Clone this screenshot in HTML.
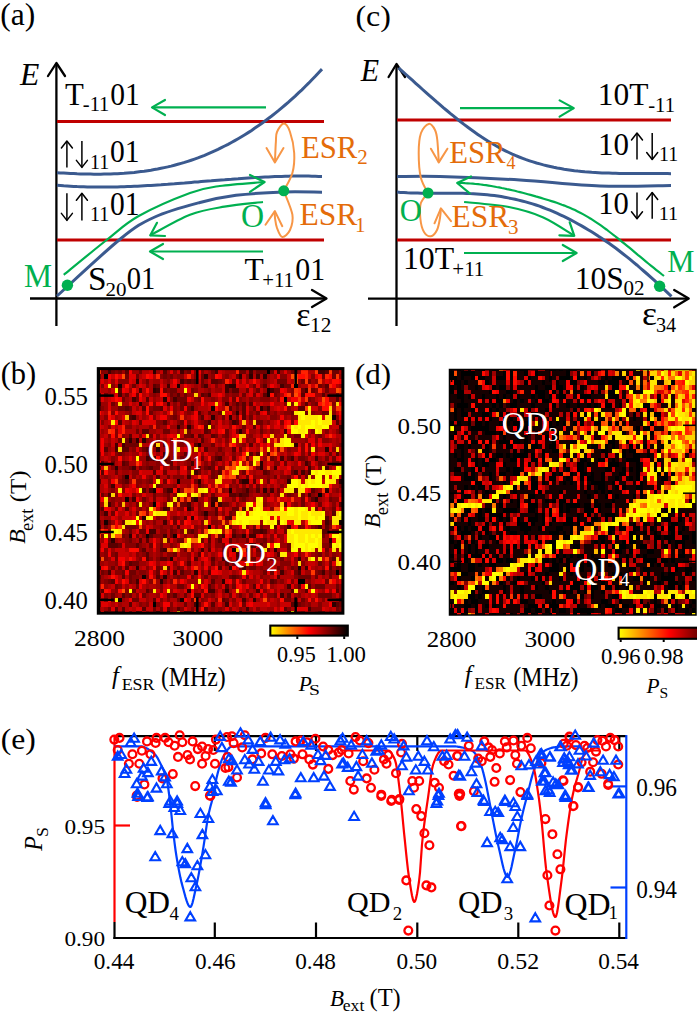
<!DOCTYPE html><html><head><meta charset="utf-8"><style>html,body{margin:0;padding:0;background:#fff;width:697px;height:1015px;overflow:hidden}svg{display:block}</style></head><body>
<svg width="697" height="1015" viewBox="0 0 697 1015">
<rect width="697" height="1015" fill="#fff"/>
<text transform="translate(0.25 25.42) scale(1.0516 1.0308)" x="0" y="0" font-size="30" fill="#000" font-family="Liberation Serif">(a)</text>
<text transform="translate(20.00 84.60) scale(1.0556 1.0579)" x="0" y="0" font-size="30" fill="#000" font-family="Liberation Serif" font-style="italic">E</text>
<line x1="56.4" y1="64.0" x2="56.4" y2="326.0" stroke="#000" stroke-width="2.3" />
<path d="M48.0 76.0 L56.4 63.0 L65.0 76.0" fill="none" stroke="#000" stroke-width="2.3" stroke-linecap="round" stroke-linejoin="round"/>
<line x1="30.0" y1="298.5" x2="325.5" y2="298.5" stroke="#000" stroke-width="2.3" />
<path d="M312.0 290.0 L326.5 298.5 L312.0 307.0" fill="none" stroke="#000" stroke-width="2.3" stroke-linecap="round" stroke-linejoin="round"/>
<line x1="57.0" y1="121.5" x2="324.0" y2="121.5" stroke="#c00000" stroke-width="3" />
<line x1="57.0" y1="240.0" x2="324.0" y2="240.0" stroke="#c00000" stroke-width="3" />
<path d="M57.0 172.7 L60.4 172.9 L63.7 173.1 L67.1 173.3 L70.4 173.5 L73.8 173.6 L77.1 173.8 L80.5 173.9 L83.8 174.0 L87.2 174.1 L90.5 174.1 L93.9 174.2 L97.3 174.2 L100.6 174.2 L104.0 174.1 L107.3 174.1 L110.7 174.0 L114.0 173.8 L117.4 173.7 L120.7 173.5 L124.1 173.3 L127.4 173.0 L130.8 172.7 L134.2 172.4 L137.5 172.0 L140.9 171.6 L144.2 171.2 L147.6 170.7 L150.9 170.2 L154.3 169.6 L157.6 169.0 L161.0 168.3 L164.3 167.6 L167.7 166.9 L171.1 166.1 L174.4 165.2 L177.8 164.3 L181.1 163.4 L184.5 162.4 L187.8 161.3 L191.2 160.2 L194.5 159.1 L197.9 157.9 L201.2 156.6 L204.6 155.3 L207.9 153.9 L211.3 152.4 L214.7 150.9 L218.0 149.4 L221.4 147.7 L224.7 146.0 L228.1 144.3 L231.4 142.5 L234.8 140.6 L238.1 138.7 L241.5 136.7 L244.8 134.7 L248.2 132.6 L251.6 130.4 L254.9 128.1 L258.3 125.8 L261.6 123.5 L265.0 121.0 L268.3 118.5 L271.7 116.0 L275.0 113.3 L278.4 110.6 L281.7 107.8 L285.1 105.0 L288.5 102.1 L291.8 99.1 L295.2 96.1 L298.5 92.9 L301.9 89.8 L305.2 86.5 L308.6 83.2 L311.9 79.8 L315.3 76.3 L318.6 72.7 L322.0 69.1" fill="none" stroke="#3b5a8f" stroke-width="3" />
<path d="M57.0 185.2 L60.4 185.5 L63.7 185.8 L67.1 186.0 L70.4 186.2 L73.8 186.4 L77.1 186.6 L80.5 186.7 L83.8 186.8 L87.2 186.9 L90.5 187.0 L93.9 187.1 L97.3 187.1 L100.6 187.1 L104.0 187.1 L107.3 187.1 L110.7 187.0 L114.0 187.0 L117.4 186.9 L120.7 186.8 L124.1 186.7 L127.4 186.6 L130.8 186.5 L134.2 186.3 L137.5 186.2 L140.9 186.0 L144.2 185.8 L147.6 185.6 L150.9 185.4 L154.3 185.2 L157.6 185.0 L161.0 184.8 L164.3 184.5 L167.7 184.3 L171.1 184.0 L174.4 183.8 L177.8 183.5 L181.1 183.2 L184.5 183.0 L187.8 182.7 L191.2 182.4 L194.5 182.1 L197.9 181.9 L201.2 181.6 L204.6 181.3 L207.9 181.0 L211.3 180.8 L214.7 180.5 L218.0 180.2 L221.4 179.9 L224.7 179.7 L228.1 179.4 L231.4 179.2 L234.8 178.9 L238.1 178.7 L241.5 178.4 L244.8 178.2 L248.2 178.0 L251.6 177.8 L254.9 177.6 L258.3 177.4 L261.6 177.2 L265.0 177.0 L268.3 176.9 L271.7 176.7 L275.0 176.6 L278.4 176.5 L281.7 176.4 L285.1 176.3 L288.5 176.2 L291.8 176.1 L295.2 176.1 L298.5 176.1 L301.9 176.1 L305.2 176.1 L308.6 176.1 L311.9 176.2 L315.3 176.3 L318.6 176.4 L322.0 176.5" fill="none" stroke="#3b5a8f" stroke-width="3" />
<path d="M57.0 296.0 C67.5 286.5 104.0 252.2 120.3 239.0 C136.6 225.8 141.5 223.1 154.8 217.0 C168.1 210.9 186.5 206.1 200.0 202.5 C213.5 198.9 222.1 197.1 236.0 195.3 C249.9 193.6 269.4 192.5 283.7 192.0 C298.0 191.5 315.6 192.2 322.0 192.2" fill="none" stroke="#3b5a8f" stroke-width="3" />
<line x1="152.0" y1="107.4" x2="266.0" y2="107.4" stroke="#00b050" stroke-width="2.2" />
<path d="M165.0 100.0 L152.0 107.4 L165.0 115.0" fill="none" stroke="#00b050" stroke-width="2.2" stroke-linecap="round" stroke-linejoin="round"/>
<line x1="150.0" y1="251.5" x2="263.0" y2="251.5" stroke="#00b050" stroke-width="2.2" />
<path d="M163.0 244.0 L150.0 251.5 L163.0 259.0" fill="none" stroke="#00b050" stroke-width="2.2" stroke-linecap="round" stroke-linejoin="round"/>
<path d="M63.8 274.8 C70.9 269.0 94.1 249.8 106.6 240.0 C119.1 230.2 124.8 223.8 138.7 216.0 C152.6 208.2 176.5 198.0 190.0 193.0 C203.5 188.0 207.5 187.8 219.8 186.0 C232.1 184.2 256.6 182.7 264.0 182.0" fill="none" stroke="#00b050" stroke-width="2.2" />
<path d="M250.0 175.0 L264.6 182.0 L250.0 191.8" fill="none" stroke="#00b050" stroke-width="2.2" stroke-linecap="round" stroke-linejoin="round"/>
<path d="M263.0 202.0 C256.6 202.8 236.6 204.6 224.4 206.7 C212.2 208.8 202.4 210.0 190.0 214.8 C177.6 219.6 156.8 232.0 150.2 235.4" fill="none" stroke="#00b050" stroke-width="2.2" />
<path d="M157.0 222.8 L150.2 235.4 L165.0 236.0" fill="none" stroke="#00b050" stroke-width="2.2" stroke-linecap="round" stroke-linejoin="round"/>
<path d="M283.8 190.8 C285.2 187.8 290.7 179.3 292.4 173.0 C294.1 166.7 294.6 159.8 294.2 153.0 C293.8 146.2 291.7 136.9 290.0 132.0 C288.3 127.1 286.0 123.6 283.8 123.6 C281.6 123.6 278.3 129.0 277.0 132.0 C275.7 135.0 276.2 136.5 275.9 141.6 C275.5 146.7 275.1 158.9 274.9 162.4" fill="none" stroke="#f79646" stroke-width="2" />
<path d="M266.5 148.0 L274.9 162.4 L283.5 148.0" fill="none" stroke="#f79646" stroke-width="2" stroke-linecap="round" stroke-linejoin="round"/>
<path d="M283.8 190.8 C285.2 194.8 291.4 208.2 292.4 214.7 C293.4 221.2 291.7 226.3 290.0 230.0 C288.3 233.7 284.5 237.3 282.3 237.0 C280.1 236.7 278.2 231.2 277.0 228.0 C275.8 224.8 275.4 220.8 275.0 218.0 C274.6 215.2 274.9 212.2 274.9 211.1" fill="none" stroke="#f79646" stroke-width="2" />
<path d="M265.5 224.8 L274.9 211.1 L282.3 226.2" fill="none" stroke="#f79646" stroke-width="2" stroke-linecap="round" stroke-linejoin="round"/>
<circle cx="67.4" cy="285.2" r="5.7" fill="#00b050"/>
<circle cx="283.8" cy="190.8" r="5.5" fill="#00b050"/>
<text transform="translate(64.90 104.80) scale(0.9632 1.0143)" x="0" y="0" font-size="32" fill="#000" font-family="Liberation Serif">T</text>
<text transform="translate(82.82 110.90) scale(0.9760 0.9571)" x="0" y="0" font-size="21" fill="#000" font-family="Liberation Serif">-11</text>
<text transform="translate(110.28 104.80) scale(0.9241 1.0143)" x="0" y="0" font-size="32" fill="#000" font-family="Liberation Serif">01</text>
<line x1="66.9" y1="141.0" x2="66.9" y2="167.4" stroke="#000" stroke-width="1.5" />
<path d="M61.4 148.0 L66.9 141.0 L72.4 148.0" fill="none" stroke="#000" stroke-width="1.5" stroke-linecap="round" stroke-linejoin="round"/>
<line x1="81.9" y1="141.0" x2="81.9" y2="167.4" stroke="#000" stroke-width="1.5" />
<path d="M76.4 160.4 L81.9 167.4 L87.4 160.4" fill="none" stroke="#000" stroke-width="1.5" stroke-linecap="round" stroke-linejoin="round"/>
<text transform="translate(89.89 168.70) scale(0.9529 0.9643)" x="0" y="0" font-size="21" fill="#000" font-family="Liberation Serif">11</text>
<text transform="translate(109.88 161.60) scale(0.9241 0.9810)" x="0" y="0" font-size="32" fill="#000" font-family="Liberation Serif">01</text>
<line x1="66.9" y1="193.3" x2="66.9" y2="220.4" stroke="#000" stroke-width="1.5" />
<path d="M61.4 213.4 L66.9 220.4 L72.4 213.4" fill="none" stroke="#000" stroke-width="1.5" stroke-linecap="round" stroke-linejoin="round"/>
<line x1="81.9" y1="193.3" x2="81.9" y2="220.4" stroke="#000" stroke-width="1.5" />
<path d="M76.4 200.3 L81.9 193.3 L87.4 200.3" fill="none" stroke="#000" stroke-width="1.5" stroke-linecap="round" stroke-linejoin="round"/>
<text transform="translate(89.89 221.40) scale(0.9529 0.9929)" x="0" y="0" font-size="21" fill="#000" font-family="Liberation Serif">11</text>
<text transform="translate(109.88 215.20) scale(0.9241 1.0429)" x="0" y="0" font-size="32" fill="#000" font-family="Liberation Serif">01</text>
<text transform="translate(88.01 289.90) scale(1.0429 1.0429)" x="0" y="0" font-size="32" fill="#000" font-family="Liberation Serif">S</text>
<text transform="translate(105.40 295.60) scale(1.0000 0.9429)" x="0" y="0" font-size="21" fill="#000" font-family="Liberation Serif">20</text>
<text transform="translate(126.71 289.30) scale(0.8931 0.9857)" x="0" y="0" font-size="32" fill="#000" font-family="Liberation Serif">01</text>
<text transform="translate(244.50 280.20) scale(0.9857 0.9857)" x="0" y="0" font-size="32" fill="#000" font-family="Liberation Serif">T</text>
<text transform="translate(262.21 286.60) scale(0.9900 1.0143)" x="0" y="0" font-size="21" fill="#000" font-family="Liberation Serif">+11</text>
<text transform="translate(295.27 280.20) scale(0.9345 1.0143)" x="0" y="0" font-size="32" fill="#000" font-family="Liberation Serif">01</text>
<text transform="translate(24.01 286.70) scale(0.9852 1.0333)" x="0" y="0" font-size="32" fill="#00b050" font-family="Liberation Serif">M</text>
<text transform="translate(241.00 227.00) scale(1.0000 1.0286)" x="0" y="0" font-size="32" fill="#00b050" font-family="Liberation Serif">O</text>
<text transform="translate(300.94 157.60) scale(0.9603 0.9857)" x="0" y="0" font-size="32" fill="#e46c0a" font-family="Liberation Serif">ESR</text>
<text transform="translate(357.30 163.90) scale(1.0000 1.0000)" x="0" y="0" font-size="21" fill="#e46c0a" font-family="Liberation Serif">2</text>
<text transform="translate(299.51 225.30) scale(0.9857 0.9857)" x="0" y="0" font-size="32" fill="#e46c0a" font-family="Liberation Serif">ESR</text>
<text transform="translate(354.90 231.60) scale(1.0000 1.0000)" x="0" y="0" font-size="21" fill="#e46c0a" font-family="Liberation Serif">1</text>
<text transform="translate(296.24 325.90) scale(1.0600 1.0600)" x="0" y="0" font-size="32" fill="#000" font-family="Liberation Serif">ε</text>
<text transform="translate(309.97 332.30) scale(1.0167 0.9714)" x="0" y="0" font-size="21" fill="#000" font-family="Liberation Serif">12</text>
<text transform="translate(355.44 25.62) scale(1.0645 0.9962)" x="0" y="0" font-size="30" fill="#000" font-family="Liberation Serif">(c)</text>
<text transform="translate(360.70 81.00) scale(1.0000 1.0211)" x="0" y="0" font-size="30" fill="#000" font-family="Liberation Serif" font-style="italic">E</text>
<line x1="396.5" y1="65.0" x2="396.5" y2="326.0" stroke="#000" stroke-width="2.3" />
<path d="M388.6 77.0 L396.5 64.0 L405.0 77.0" fill="none" stroke="#000" stroke-width="2.3" stroke-linecap="round" stroke-linejoin="round"/>
<line x1="368.0" y1="298.6" x2="687.7" y2="298.6" stroke="#000" stroke-width="2.3" />
<path d="M674.2 290.0 L688.7 298.6 L674.2 307.3" fill="none" stroke="#000" stroke-width="2.3" stroke-linecap="round" stroke-linejoin="round"/>
<line x1="397.0" y1="120.0" x2="671.0" y2="120.0" stroke="#c00000" stroke-width="3" />
<line x1="397.0" y1="240.0" x2="671.0" y2="240.0" stroke="#c00000" stroke-width="3" />
<path d="M398.5 67.8 L401.9 70.9 L405.4 74.0 L408.8 77.1 L412.3 80.2 L415.7 83.3 L419.2 86.4 L422.6 89.5 L426.1 92.6 L429.5 95.6 L433.0 98.7 L436.4 101.7 L439.9 104.6 L443.3 107.6 L446.8 110.5 L450.2 113.4 L453.7 116.2 L457.1 119.0 L460.6 121.7 L464.0 124.4 L467.5 127.0 L470.9 129.5 L474.4 132.0 L477.8 134.4 L481.3 136.8 L484.7 139.0 L488.2 141.2 L491.6 143.3 L495.1 145.3 L498.5 147.3 L502.0 149.1 L505.4 150.8 L508.9 152.5 L512.3 154.1 L515.8 155.6 L519.2 157.0 L522.7 158.3 L526.1 159.6 L529.6 160.8 L533.0 161.9 L536.5 163.0 L539.9 163.9 L543.4 164.9 L546.8 165.7 L550.3 166.5 L553.7 167.3 L557.2 168.0 L560.6 168.6 L564.1 169.2 L567.5 169.7 L571.0 170.2 L574.4 170.7 L577.9 171.1 L581.3 171.4 L584.8 171.8 L588.2 172.0 L591.7 172.3 L595.1 172.5 L598.6 172.7 L602.0 172.9 L605.5 173.0 L608.9 173.1 L612.4 173.2 L615.8 173.3 L619.3 173.4 L622.7 173.4 L626.2 173.4 L629.6 173.5 L633.1 173.5 L636.5 173.5 L640.0 173.5 L643.4 173.5 L646.9 173.5 L650.3 173.5 L653.8 173.5 L657.2 173.5 L660.7 173.5 L664.1 173.6 L667.6 173.6 L671.0 173.7" fill="none" stroke="#3b5a8f" stroke-width="3" />
<path d="M397.0 176.6 C404.2 176.6 419.5 175.9 440.0 176.5 C460.5 177.1 493.3 178.4 520.0 180.0 C546.7 181.6 574.8 185.1 600.0 186.0 C625.2 186.9 659.2 185.6 671.0 185.5" fill="none" stroke="#3b5a8f" stroke-width="3" />
<path d="M397.0 192.1 L400.5 192.4 L403.9 192.6 L407.4 192.8 L410.9 192.9 L414.4 193.1 L417.8 193.1 L421.3 193.2 L424.8 193.2 L428.3 193.2 L431.7 193.2 L435.2 193.2 L438.7 193.2 L442.2 193.2 L445.6 193.2 L449.1 193.2 L452.6 193.2 L456.1 193.2 L459.5 193.3 L463.0 193.3 L466.5 193.4 L470.0 193.6 L473.4 193.7 L476.9 193.9 L480.4 194.2 L483.9 194.5 L487.3 194.8 L490.8 195.2 L494.3 195.6 L497.8 196.1 L501.2 196.6 L504.7 197.2 L508.2 197.9 L511.7 198.6 L515.1 199.3 L518.6 200.1 L522.1 201.0 L525.6 201.9 L529.0 202.9 L532.5 203.9 L536.0 205.0 L539.5 206.2 L542.9 207.5 L546.4 208.8 L549.9 210.2 L553.4 211.6 L556.8 213.2 L560.3 214.8 L563.8 216.4 L567.3 218.1 L570.7 219.9 L574.2 221.8 L577.7 223.7 L581.2 225.6 L584.6 227.6 L588.1 229.7 L591.6 231.8 L595.1 234.0 L598.5 236.3 L602.0 238.5 L605.5 240.9 L609.0 243.3 L612.4 245.8 L615.9 248.3 L619.4 251.0 L622.9 253.7 L626.3 256.4 L629.8 259.2 L633.3 262.1 L636.8 265.0 L640.2 268.0 L643.7 271.0 L647.2 274.0 L650.7 277.1 L654.1 280.2 L657.6 283.4 L661.1 286.6 L664.6 289.8 L668.0 293.1 L671.5 296.3" fill="none" stroke="#3b5a8f" stroke-width="3" />
<line x1="460.0" y1="108.1" x2="573.8" y2="108.1" stroke="#00b050" stroke-width="2.2" />
<path d="M559.6 100.4 L573.8 108.1 L559.6 116.6" fill="none" stroke="#00b050" stroke-width="2.2" stroke-linecap="round" stroke-linejoin="round"/>
<line x1="464.0" y1="253.0" x2="576.6" y2="253.0" stroke="#00b050" stroke-width="2.2" />
<path d="M562.8 245.0 L576.6 253.0 L562.8 261.0" fill="none" stroke="#00b050" stroke-width="2.2" stroke-linecap="round" stroke-linejoin="round"/>
<path d="M457.2 182.9 L459.8 183.0 L462.4 183.0 L465.1 183.2 L467.7 183.3 L470.3 183.5 L472.9 183.7 L475.5 184.0 L478.1 184.2 L480.8 184.5 L483.4 184.9 L486.0 185.2 L488.6 185.6 L491.2 186.0 L493.8 186.5 L496.5 187.0 L499.1 187.4 L501.7 188.0 L504.3 188.5 L506.9 189.1 L509.6 189.6 L512.2 190.2 L514.8 190.8 L517.4 191.5 L520.0 192.1 L522.6 192.8 L525.3 193.5 L527.9 194.2 L530.5 194.9 L533.1 195.6 L535.7 196.4 L538.3 197.1 L541.0 197.9 L543.6 198.7 L546.2 199.5 L548.8 200.3 L551.4 201.1 L554.1 201.9 L556.7 202.8 L559.3 203.7 L561.9 204.7 L564.5 205.6 L567.1 206.7 L569.8 207.8 L572.4 208.9 L575.0 210.1 L577.6 211.4 L580.2 212.7 L582.9 214.1 L585.5 215.6 L588.1 217.1 L590.7 218.7 L593.3 220.4 L595.9 222.1 L598.6 223.9 L601.2 225.7 L603.8 227.6 L606.4 229.5 L609.0 231.5 L611.6 233.5 L614.3 235.5 L616.9 237.6 L619.5 239.7 L622.1 241.8 L624.7 243.9 L627.4 246.1 L630.0 248.2 L632.6 250.4 L635.2 252.6 L637.8 254.8 L640.4 256.9 L643.1 259.1 L645.7 261.3 L648.3 263.5 L650.9 265.6 L653.5 267.7 L656.1 269.8 L658.8 271.9 L661.4 274.0 L664.0 276.0" fill="none" stroke="#00b050" stroke-width="2.2" />
<path d="M471.0 176.5 L457.2 183.0 L469.8 193.3" fill="none" stroke="#00b050" stroke-width="2.2" stroke-linecap="round" stroke-linejoin="round"/>
<path d="M464.1 202.0 C471.6 202.8 495.7 204.4 508.9 207.0 C522.1 209.6 532.4 212.6 543.3 217.4 C554.2 222.2 569.1 232.7 574.3 235.8" fill="none" stroke="#00b050" stroke-width="2.2" />
<path d="M569.7 222.4 L574.3 235.8 L559.4 235.3" fill="none" stroke="#00b050" stroke-width="2.2" stroke-linecap="round" stroke-linejoin="round"/>
<path d="M428.0 193.0 C426.8 190.4 422.4 184.1 420.8 177.4 C419.2 170.7 418.7 160.4 418.7 153.0 C418.7 145.6 419.3 137.8 421.0 133.0 C422.7 128.2 426.4 124.4 428.7 123.9 C431.0 123.4 433.6 127.3 435.0 130.0 C436.4 132.7 436.7 134.6 437.3 140.0 C437.9 145.4 438.6 158.7 438.8 162.4" fill="none" stroke="#f79646" stroke-width="2" />
<path d="M430.9 148.7 L438.8 162.4 L447.4 148.7" fill="none" stroke="#f79646" stroke-width="2" stroke-linecap="round" stroke-linejoin="round"/>
<path d="M428.0 193.0 C426.8 194.7 422.1 199.0 420.8 203.3 C419.5 207.6 419.9 214.2 420.4 219.0 C420.9 223.8 422.2 229.1 424.0 232.0 C425.8 234.9 428.7 236.6 430.9 236.3 C433.1 236.0 435.5 233.1 437.0 230.0 C438.5 226.9 439.4 221.6 440.0 218.0 C440.6 214.4 440.8 209.9 440.9 208.3" fill="none" stroke="#f79646" stroke-width="2" />
<path d="M434.5 223.3 L440.9 208.3 L451.0 221.2" fill="none" stroke="#f79646" stroke-width="2" stroke-linecap="round" stroke-linejoin="round"/>
<circle cx="428.0" cy="193.0" r="5.5" fill="#00b050"/>
<circle cx="659.6" cy="286.2" r="5.7" fill="#00b050"/>
<text transform="translate(597.86 105.20) scale(0.9813 0.9857)" x="0" y="0" font-size="32" fill="#000" font-family="Liberation Serif">10T</text>
<text transform="translate(648.22 111.60) scale(0.9840 0.9643)" x="0" y="0" font-size="21" fill="#000" font-family="Liberation Serif">-11</text>
<text transform="translate(597.90 154.90) scale(0.9679 0.9857)" x="0" y="0" font-size="32" fill="#000" font-family="Liberation Serif">10</text>
<line x1="637.0" y1="133.0" x2="637.0" y2="159.5" stroke="#000" stroke-width="1.5" />
<path d="M631.5 140.0 L637.0 133.0 L642.5 140.0" fill="none" stroke="#000" stroke-width="1.5" stroke-linecap="round" stroke-linejoin="round"/>
<line x1="652.2" y1="133.0" x2="652.2" y2="159.5" stroke="#000" stroke-width="1.5" />
<path d="M646.7 152.5 L652.2 159.5 L657.7 152.5" fill="none" stroke="#000" stroke-width="1.5" stroke-linecap="round" stroke-linejoin="round"/>
<text transform="translate(659.01 160.70) scale(0.9471 0.9714)" x="0" y="0" font-size="21" fill="#000" font-family="Liberation Serif">11</text>
<text transform="translate(598.13 213.70) scale(0.9571 1.0000)" x="0" y="0" font-size="32" fill="#000" font-family="Liberation Serif">10</text>
<line x1="637.0" y1="192.5" x2="637.0" y2="218.8" stroke="#000" stroke-width="1.5" />
<path d="M631.5 211.8 L637.0 218.8 L642.5 211.8" fill="none" stroke="#000" stroke-width="1.5" stroke-linecap="round" stroke-linejoin="round"/>
<line x1="652.2" y1="192.5" x2="652.2" y2="218.8" stroke="#000" stroke-width="1.5" />
<path d="M646.7 199.5 L652.2 192.5 L657.7 199.5" fill="none" stroke="#000" stroke-width="1.5" stroke-linecap="round" stroke-linejoin="round"/>
<text transform="translate(658.67 219.60) scale(0.9647 0.9000)" x="0" y="0" font-size="21" fill="#000" font-family="Liberation Serif">11</text>
<text transform="translate(402.92 269.40) scale(0.9938 0.9810)" x="0" y="0" font-size="32" fill="#000" font-family="Liberation Serif">10T</text>
<text transform="translate(452.30 275.90) scale(1.0000 1.0000)" x="0" y="0" font-size="21" fill="#000" font-family="Liberation Serif">+11</text>
<text transform="translate(574.74 288.80) scale(0.9857 0.9857)" x="0" y="0" font-size="32" fill="#000" font-family="Liberation Serif">10S</text>
<text transform="translate(623.50 295.30) scale(1.0000 1.0000)" x="0" y="0" font-size="21" fill="#000" font-family="Liberation Serif">02</text>
<text transform="translate(667.14 271.60) scale(0.9571 0.9571)" x="0" y="0" font-size="32" fill="#00b050" font-family="Liberation Serif">M</text>
<text transform="translate(399.85 221.20) scale(0.9524 0.9905)" x="0" y="0" font-size="32" fill="#00b050" font-family="Liberation Serif">O</text>
<text transform="translate(449.24 162.60) scale(0.9586 0.9857)" x="0" y="0" font-size="32" fill="#e46c0a" font-family="Liberation Serif">ESR</text>
<text transform="translate(506.40 168.90) scale(0.8600 0.8600)" x="0" y="0" font-size="21" fill="#e46c0a" font-family="Liberation Serif">4</text>
<text transform="translate(451.52 226.80) scale(0.9810 0.9810)" x="0" y="0" font-size="32" fill="#e46c0a" font-family="Liberation Serif">ESR</text>
<text transform="translate(507.90 233.70) scale(1.0000 1.0000)" x="0" y="0" font-size="21" fill="#e46c0a" font-family="Liberation Serif">3</text>
<text transform="translate(641.88 325.10) scale(1.1167 1.0267)" x="0" y="0" font-size="32" fill="#000" font-family="Liberation Serif">ε</text>
<text transform="translate(655.93 332.30) scale(0.9650 1.0286)" x="0" y="0" font-size="21" fill="#000" font-family="Liberation Serif">34</text>
<g shape-rendering="crispEdges"><path fill="#000000" d="M267 370h3v4h-3zM104 374h4v5h-4zM294 384h4v4h-4zM284 397h3v5h-3zM318 493h4v4h-4zM153 502h3v5h-3zM208 525h3v4h-3zM336 570h3v5h-3zM298 579h7v5h-7zM118 598h4v4h-4zM153 602h3v5h-3z"/><path fill="#160000" d="M118 384h4v4h-4zM177 384h3v4h-3zM267 388h3v5h-3zM267 393h3v4h-3zM211 406h4v5h-4zM332 415h4v5h-4zM198 443h3v4h-3zM342 461h1v5h-1zM125 475h4v4h-4zM177 479h3v5h-3zM153 488h3v5h-3zM229 488h3v5h-3zM125 497h4v5h-4zM104 520h4v5h-4zM339 520h3v5h-3zM146 534h3v4h-3zM173 534h4v4h-4zM232 548h4v4h-4zM170 557h3v4h-3zM298 566h3v4h-3zM142 575h4v4h-4zM180 598h4v4h-4z"/><path fill="#2c0000" d="M305 369h3v1h-3zM153 370h3v4h-3zM204 374h4v5h-4zM239 374h3v5h-3zM249 374h4v5h-4zM263 374h4v5h-4zM136 379h3v5h-3zM229 384h7v4h-7zM153 388h3v5h-3zM163 397h4v5h-4zM98 402h3v4h-3zM139 402h3v4h-3zM260 406h3v5h-3zM236 411h3v4h-3zM211 415h4v5h-4zM229 415h3v5h-3zM177 425h3v4h-3zM187 425h4v4h-4zM239 429h3v5h-3zM129 438h3v5h-3zM136 438h3v5h-3zM142 438h4v5h-4zM294 443h4v4h-4zM156 447h4v5h-4zM325 447h4v5h-4zM260 461h3v5h-3zM115 466h3v4h-3zM260 466h3v4h-3zM198 479h3v5h-3zM242 479h7v5h-7zM287 479h4v5h-4zM339 479h3v5h-3zM263 488h4v5h-4zM325 488h4v5h-4zM194 497h4v5h-4zM315 497h3v5h-3zM211 502h4v5h-4zM187 507h4v4h-4zM204 511h4v5h-4zM142 516h4v4h-4zM191 516h3v4h-3zM129 534h3v4h-3zM242 534h4v4h-4zM111 538h4v5h-4zM329 538h3v5h-3zM274 548h3v4h-3zM298 557h3v4h-3zM98 566h3v4h-3zM136 566h3v4h-3zM229 566h3v4h-3zM194 570h4v5h-4zM163 575h4v4h-4zM160 579h3v5h-3zM222 579h3v5h-3zM187 589h4v4h-4zM225 589h4v4h-4zM253 598h3v4h-3zM294 602h4v5h-4zM332 602h4v5h-4zM115 611h3v2h-3zM167 611h3v2h-3zM239 611h3v2h-3z"/><path fill="#430000" d="M115 369h3v1h-3zM211 369h4v1h-4zM287 369h4v1h-4zM108 370h3v4h-3zM180 370h4v4h-4zM215 370h3v4h-3zM249 370h4v4h-4zM277 370h3v4h-3zM318 370h7v4h-7zM256 374h4v5h-4zM180 379h4v5h-4zM167 384h3v4h-3zM204 384h4v4h-4zM225 384h4v4h-4zM280 384h4v4h-4zM139 388h3v5h-3zM156 388h4v5h-4zM225 388h4v5h-4zM270 388h4v5h-4zM305 388h3v5h-3zM118 393h4v4h-4zM208 393h3v4h-3zM132 397h4v5h-4zM173 397h4v5h-4zM167 402h3v4h-3zM225 402h4v4h-4zM191 406h3v5h-3zM267 406h3v5h-3zM132 415h4v5h-4zM208 420h3v5h-3zM232 420h4v5h-4zM339 425h3v4h-3zM284 429h3v5h-3zM115 443h3v4h-3zM122 443h3v4h-3zM115 447h3v5h-3zM342 447h1v5h-1zM149 452h4v4h-4zM163 452h4v4h-4zM146 456h3v5h-3zM153 456h3v5h-3zM163 456h4v5h-4zM218 456h4v5h-4zM280 456h4v5h-4zM291 456h3v5h-3zM315 456h3v5h-3zM191 461h3v5h-3zM305 461h3v5h-3zM132 466h4v4h-4zM274 466h3v4h-3zM308 466h3v4h-3zM325 466h4v4h-4zM194 470h4v5h-4zM294 470h4v5h-4zM301 470h4v5h-4zM308 470h3v5h-3zM187 475h4v4h-4zM111 484h4v4h-4zM149 488h4v5h-4zM167 488h6v5h-6zM177 488h3v5h-3zM246 488h3v5h-3zM270 488h4v5h-4zM108 493h3v4h-3zM239 493h3v4h-3zM308 493h3v4h-3zM132 497h4v5h-4zM211 497h7v5h-7zM108 502h3v5h-3zM187 502h4v5h-4zM218 502h4v5h-4zM163 507h4v4h-4zM104 511h4v5h-4zM229 516h3v4h-3zM163 520h4v5h-4zM325 520h4v5h-4zM98 525h3v4h-3zM287 525h4v4h-4zM318 525h4v4h-4zM149 529h7v5h-7zM260 529h3v5h-3zM163 534h4v4h-4zM222 534h3v4h-3zM232 534h4v4h-4zM249 534h7v4h-7zM249 543h4v5h-4zM163 548h4v4h-4zM201 548h3v4h-3zM260 548h3v4h-3zM236 552h3v5h-3zM222 557h3v4h-3zM242 566h4v4h-4zM305 566h3v4h-3zM108 570h3v5h-3zM173 570h4v5h-4zM280 570h4v5h-4zM298 570h3v5h-3zM322 570h3v5h-3zM136 579h3v5h-3zM287 584h4v5h-4zM208 589h7v4h-7zM256 589h4v4h-4zM342 589h1v4h-1zM98 593h3v5h-3zM280 593h4v5h-4zM242 598h4v4h-4zM194 602h4v5h-4zM225 602h4v5h-4zM246 607h3v4h-3zM308 607h3v4h-3zM122 611h3v2h-3zM156 611h4v2h-4zM287 611h4v2h-4z"/><path fill="#590000" d="M111 369h4v1h-4zM156 369h4v1h-4zM222 369h3v1h-3zM260 369h3v1h-3zM274 369h3v1h-3zM125 370h4v4h-4zM163 370h4v4h-4zM325 370h4v4h-4zM187 379h4v5h-4zM194 379h4v5h-4zM211 379h7v5h-7zM342 379h1v5h-1zM153 384h3v4h-3zM263 384h4v4h-4zM325 384h4v4h-4zM118 388h4v5h-4zM232 388h7v5h-7zM342 388h1v5h-1zM98 393h3v4h-3zM177 393h3v4h-3zM201 393h3v4h-3zM263 393h4v4h-4zM301 393h4v4h-4zM322 393h3v4h-3zM336 393h3v4h-3zM146 397h3v5h-3zM336 397h3v5h-3zM184 402h3v4h-3zM236 402h3v4h-3zM242 402h4v4h-4zM249 402h4v4h-4zM305 402h3v4h-3zM98 406h3v5h-3zM125 406h4v5h-4zM142 406h4v5h-4zM160 406h3v5h-3zM229 406h3v5h-3zM242 406h4v5h-4zM298 406h7v5h-7zM198 411h3v4h-3zM242 411h4v4h-4zM129 415h3v5h-3zM201 415h3v5h-3zM242 415h4v5h-4zM118 420h4v5h-4zM163 420h4v5h-4zM236 420h3v5h-3zM336 420h3v5h-3zM204 425h4v4h-4zM253 425h3v4h-3zM142 429h7v5h-7zM204 429h4v5h-4zM339 429h3v5h-3zM129 434h3v4h-3zM191 434h3v4h-3zM198 434h3v4h-3zM211 434h4v4h-4zM201 438h3v5h-3zM153 443h3v4h-3zM163 443h4v4h-4zM194 443h4v4h-4zM249 443h4v4h-4zM104 447h4v5h-4zM122 447h7v5h-7zM146 447h3v5h-3zM204 447h4v5h-4zM232 447h4v5h-4zM184 452h3v4h-3zM249 452h4v4h-4zM256 452h4v4h-4zM267 452h3v4h-3zM336 452h3v4h-3zM342 452h1v4h-1zM149 456h4v5h-4zM215 456h3v5h-3zM101 461h3v5h-3zM122 461h3v5h-3zM170 461h3v5h-3zM98 466h3v4h-3zM149 466h4v4h-4zM177 466h3v4h-3zM187 466h4v4h-4zM198 466h3v4h-3zM208 466h3v4h-3zM101 470h3v5h-3zM153 470h3v5h-3zM218 470h4v5h-4zM263 470h4v5h-4zM156 475h4v4h-4zM98 479h3v5h-3zM125 479h4v5h-4zM239 479h3v5h-3zM253 479h3v5h-3zM198 484h3v4h-3zM142 488h4v5h-4zM256 488h4v5h-4zM294 488h4v5h-4zM311 488h4v5h-4zM229 493h7v4h-7zM242 493h7v4h-7zM191 497h3v5h-3zM311 497h4v5h-4zM284 502h3v5h-3zM339 502h3v5h-3zM101 507h3v4h-3zM125 507h4v4h-4zM167 507h3v4h-3zM215 507h3v4h-3zM242 507h4v4h-4zM215 511h3v5h-3zM332 511h4v5h-4zM184 516h3v4h-3zM225 516h4v4h-4zM325 516h4v4h-4zM177 525h3v4h-3zM274 525h3v4h-3zM325 525h4v4h-4zM191 529h3v5h-3zM253 529h7v5h-7zM263 529h4v5h-4zM322 529h7v5h-7zM149 534h4v4h-4zM139 538h3v5h-3zM146 538h3v5h-3zM208 538h3v5h-3zM218 538h4v5h-4zM229 538h3v5h-3zM108 543h10v5h-10zM136 543h3v5h-3zM253 543h3v5h-3zM260 543h3v5h-3zM329 543h3v5h-3zM142 548h4v4h-4zM160 548h3v4h-3zM208 548h3v4h-3zM146 552h3v5h-3zM198 552h3v5h-3zM277 552h3v5h-3zM98 557h3v4h-3zM146 557h3v4h-3zM160 557h7v4h-7zM194 557h4v4h-4zM211 557h4v4h-4zM236 557h3v4h-3zM332 557h4v4h-4zM129 561h3v5h-3zM187 561h4v5h-4zM225 561h4v5h-4zM125 566h4v4h-4zM167 566h3v4h-3zM218 566h4v4h-4zM329 566h3v4h-3zM180 570h4v5h-4zM208 570h3v5h-3zM98 575h3v4h-3zM122 575h3v4h-3zM156 575h4v4h-4zM232 575h4v4h-4zM277 575h3v4h-3zM111 579h4v5h-4zM211 579h4v5h-4zM270 579h4v5h-4zM208 584h3v5h-3zM225 584h4v5h-4zM253 584h3v5h-3zM298 584h3v5h-3zM308 584h3v5h-3zM101 589h3v4h-3zM146 589h3v4h-3zM291 589h3v4h-3zM305 589h3v4h-3zM336 589h3v4h-3zM122 593h3v5h-3zM173 593h4v5h-4zM194 593h7v5h-7zM287 593h4v5h-4zM153 598h3v4h-3zM222 598h3v4h-3zM339 598h4v4h-4zM98 602h3v5h-3zM129 602h3v5h-3zM211 602h4v5h-4zM291 602h3v5h-3zM336 602h3v5h-3zM115 607h3v4h-3zM122 607h3v4h-3zM142 607h4v4h-4zM167 607h3v4h-3zM177 607h3v4h-3zM204 607h4v4h-4zM284 607h3v4h-3zM342 607h1v4h-1zM104 611h4v2h-4zM136 611h3v2h-3zM184 611h7v2h-7zM218 611h4v2h-4zM232 611h4v2h-4zM318 611h4v2h-4z"/><path fill="#6f0000" d="M184 369h3v1h-3zM198 369h3v1h-3zM232 369h4v1h-4zM284 369h3v1h-3zM308 369h7v1h-7zM318 369h4v1h-4zM111 370h4v4h-4zM118 370h4v4h-4zM139 370h3v4h-3zM187 370h4v4h-4zM211 370h4v4h-4zM239 370h7v4h-7zM256 370h11v4h-11zM270 370h4v4h-4zM291 370h7v4h-7zM332 370h7v4h-7zM98 374h3v5h-3zM125 374h4v5h-4zM136 374h3v5h-3zM163 374h4v5h-4zM170 374h3v5h-3zM201 374h3v5h-3zM236 374h3v5h-3zM322 374h3v5h-3zM332 374h4v5h-4zM146 379h3v5h-3zM184 379h3v5h-3zM191 379h3v5h-3zM201 379h3v5h-3zM218 379h4v5h-4zM232 379h4v5h-4zM277 379h10v5h-10zM301 379h4v5h-4zM308 379h3v5h-3zM132 384h4v4h-4zM156 384h4v4h-4zM201 384h3v4h-3zM253 384h3v4h-3zM284 384h7v4h-7zM318 384h4v4h-4zM163 388h4v5h-4zM170 388h7v5h-7zM191 388h3v5h-3zM246 388h3v5h-3zM256 388h4v5h-4zM274 388h6v5h-6zM301 388h4v5h-4zM311 388h4v5h-4zM325 388h4v5h-4zM104 393h4v4h-4zM125 393h4v4h-4zM136 393h3v4h-3zM170 393h3v4h-3zM184 393h3v4h-3zM204 393h4v4h-4zM242 393h4v4h-4zM253 393h3v4h-3zM274 393h3v4h-3zM98 397h3v5h-3zM122 397h3v5h-3zM136 397h3v5h-3zM177 397h10v5h-10zM198 397h3v5h-3zM232 397h4v5h-4zM308 397h3v5h-3zM111 402h4v4h-4zM180 402h4v4h-4zM315 402h3v4h-3zM118 406h7v5h-7zM129 406h3v5h-3zM153 406h7v5h-7zM180 406h4v5h-4zM187 406h4v5h-4zM236 406h3v5h-3zM253 406h3v5h-3zM263 406h4v5h-4zM149 411h4v4h-4zM208 411h3v4h-3zM218 411h4v4h-4zM256 411h4v4h-4zM267 411h3v4h-3zM291 411h3v4h-3zM305 411h3v4h-3zM322 411h7v4h-7zM173 415h4v5h-4zM222 415h3v5h-3zM236 415h3v5h-3zM249 415h4v5h-4zM342 415h1v5h-1zM139 420h3v5h-3zM180 420h4v5h-4zM204 420h4v5h-4zM256 420h7v5h-7zM242 425h4v4h-4zM342 425h1v4h-1zM136 429h3v5h-3zM163 429h7v5h-7zM187 429h4v5h-4zM208 429h3v5h-3zM225 429h4v5h-4zM236 429h3v5h-3zM260 429h3v5h-3zM149 434h4v4h-4zM184 434h7v4h-7zM201 434h3v4h-3zM215 434h3v4h-3zM225 434h4v4h-4zM294 434h7v4h-7zM318 434h4v4h-4zM342 434h1v4h-1zM118 438h4v5h-4zM125 438h4v5h-4zM263 438h4v5h-4zM125 443h14v4h-14zM211 443h4v4h-4zM308 443h3v4h-3zM142 447h4v5h-4zM218 447h4v5h-4zM239 447h3v5h-3zM118 452h4v4h-4zM308 452h3v4h-3zM329 452h3v4h-3zM167 456h3v5h-3zM173 456h4v5h-4zM180 456h4v5h-4zM187 456h4v5h-4zM201 456h3v5h-3zM232 456h4v5h-4zM246 456h3v5h-3zM270 456h4v5h-4zM287 456h4v5h-4zM298 456h7v5h-7zM325 456h4v5h-4zM332 456h4v5h-4zM111 461h4v5h-4zM125 461h4v5h-4zM163 461h7v5h-7zM211 461h4v5h-4zM284 461h3v5h-3zM308 461h3v5h-3zM318 461h4v5h-4zM332 461h7v5h-7zM129 466h3v4h-3zM139 466h3v4h-3zM146 466h3v4h-3zM170 466h3v4h-3zM204 466h4v4h-4zM211 466h4v4h-4zM218 466h4v4h-4zM256 466h4v4h-4zM115 470h3v5h-3zM163 470h4v5h-4zM198 470h3v5h-3zM211 470h4v5h-4zM242 470h4v5h-4zM267 470h3v5h-3zM291 470h3v5h-3zM122 475h3v4h-3zM167 475h3v4h-3zM211 475h4v4h-4zM236 475h3v4h-3zM246 475h3v4h-3zM274 475h3v4h-3zM287 475h4v4h-4zM298 475h3v4h-3zM305 475h3v4h-3zM122 479h3v5h-3zM149 479h4v5h-4zM163 479h4v5h-4zM194 479h4v5h-4zM267 479h3v5h-3zM156 484h4v4h-4zM256 484h4v4h-4zM163 488h4v5h-4zM242 488h4v5h-4zM277 488h3v5h-3zM101 493h3v4h-3zM153 493h3v4h-3zM167 493h3v4h-3zM201 493h3v4h-3zM211 493h4v4h-4zM236 493h3v4h-3zM267 493h3v4h-3zM287 493h4v4h-4zM301 493h4v4h-4zM142 497h4v5h-4zM153 497h3v5h-3zM167 497h3v5h-3zM177 497h3v5h-3zM242 497h4v5h-4zM301 497h4v5h-4zM329 497h3v5h-3zM136 502h3v5h-3zM180 502h7v5h-7zM222 502h7v5h-7zM301 502h4v5h-4zM318 502h4v5h-4zM115 507h3v4h-3zM191 507h3v4h-3zM232 507h7v4h-7zM315 507h3v4h-3zM322 507h3v4h-3zM332 507h4v4h-4zM111 511h4v5h-4zM136 511h3v5h-3zM201 511h3v5h-3zM229 511h3v5h-3zM173 516h4v4h-4zM204 516h4v4h-4zM98 520h3v5h-3zM108 520h3v5h-3zM122 520h3v5h-3zM173 520h4v5h-4zM277 520h3v5h-3zM329 520h3v5h-3zM104 525h4v4h-4zM125 525h11v4h-11zM229 525h3v4h-3zM253 525h3v4h-3zM260 525h3v4h-3zM298 525h3v4h-3zM315 525h3v4h-3zM129 529h3v5h-3zM139 529h7v5h-7zM170 529h3v5h-3zM187 529h4v5h-4zM232 529h4v5h-4zM284 529h3v5h-3zM122 534h3v4h-3zM136 534h3v4h-3zM170 534h3v4h-3zM208 534h3v4h-3zM218 534h4v4h-4zM236 534h6v4h-6zM322 534h3v4h-3zM108 538h3v5h-3zM129 538h3v5h-3zM167 538h3v5h-3zM177 538h7v5h-7zM201 538h3v5h-3zM246 538h3v5h-3zM263 538h4v5h-4zM118 543h4v5h-4zM149 543h4v5h-4zM160 543h3v5h-3zM208 543h3v5h-3zM222 543h3v5h-3zM287 543h4v5h-4zM184 548h3v4h-3zM222 548h3v4h-3zM246 548h3v4h-3zM256 548h4v4h-4zM267 548h3v4h-3zM287 548h4v4h-4zM325 548h4v4h-4zM115 552h3v5h-3zM173 552h4v5h-4zM318 552h4v5h-4zM115 557h3v4h-3zM239 557h7v4h-7zM249 557h7v4h-7zM280 557h4v4h-4zM132 561h7v5h-7zM211 561h4v5h-4zM232 561h4v5h-4zM318 561h4v5h-4zM329 561h3v5h-3zM111 566h4v4h-4zM118 566h4v4h-4zM156 566h4v4h-4zM177 566h3v4h-3zM239 566h3v4h-3zM249 566h7v4h-7zM277 566h3v4h-3zM291 566h3v4h-3zM336 566h3v4h-3zM101 570h3v5h-3zM122 570h3v5h-3zM129 570h7v5h-7zM156 570h4v5h-4zM263 570h4v5h-4zM270 570h4v5h-4zM294 570h4v5h-4zM318 570h4v5h-4zM329 570h3v5h-3zM129 575h3v4h-3zM177 575h3v4h-3zM191 575h3v4h-3zM204 575h4v4h-4zM229 575h3v4h-3zM236 575h3v4h-3zM246 575h3v4h-3zM298 575h13v4h-13zM315 575h3v4h-3zM329 575h3v4h-3zM342 575h1v4h-1zM98 579h3v5h-3zM108 579h3v5h-3zM129 579h3v5h-3zM242 579h4v5h-4zM274 579h3v5h-3zM325 579h4v5h-4zM115 584h3v5h-3zM136 584h3v5h-3zM177 584h7v5h-7zM232 584h4v5h-4zM315 584h10v5h-10zM336 584h3v5h-3zM132 589h4v4h-4zM111 593h4v5h-4zM129 593h3v5h-3zM142 593h4v5h-4zM167 593h3v5h-3zM184 593h3v5h-3zM229 593h3v5h-3zM239 593h3v5h-3zM249 593h4v5h-4zM274 593h3v5h-3zM318 593h14v5h-14zM111 598h4v4h-4zM132 598h7v4h-7zM177 598h3v4h-3zM191 598h3v4h-3zM225 598h4v4h-4zM284 598h7v4h-7zM294 598h4v4h-4zM301 598h4v4h-4zM184 602h3v5h-3zM198 602h3v5h-3zM242 602h4v5h-4zM298 602h3v5h-3zM339 602h4v5h-4zM108 607h3v4h-3zM153 607h3v4h-3zM160 607h3v4h-3zM336 607h3v4h-3zM98 611h3v2h-3zM108 611h3v2h-3zM139 611h3v2h-3zM229 611h3v2h-3zM260 611h3v2h-3zM322 611h3v2h-3z"/><path fill="#850000" d="M101 369h7v1h-7zM139 369h3v1h-3zM153 369h3v1h-3zM160 369h10v1h-10zM187 369h4v1h-4zM201 369h3v1h-3zM215 369h7v1h-7zM239 369h3v1h-3zM249 369h4v1h-4zM267 369h3v1h-3zM325 369h4v1h-4zM336 369h3v1h-3zM101 370h7v4h-7zM115 370h3v4h-3zM173 370h4v4h-4zM184 370h3v4h-3zM194 370h4v4h-4zM201 370h3v4h-3zM160 374h3v5h-3zM167 374h3v5h-3zM177 374h7v5h-7zM194 374h4v5h-4zM211 374h4v5h-4zM225 374h4v5h-4zM246 374h3v5h-3zM280 374h7v5h-7zM311 374h4v5h-4zM118 379h11v5h-11zM167 379h3v5h-3zM222 379h3v5h-3zM263 379h4v5h-4zM315 379h3v5h-3zM101 384h3v4h-3zM111 384h4v4h-4zM146 384h3v4h-3zM215 384h3v4h-3zM260 384h3v4h-3zM322 384h3v4h-3zM167 388h3v5h-3zM194 388h4v5h-4zM208 388h3v5h-3zM229 388h3v5h-3zM291 388h3v5h-3zM315 388h3v5h-3zM153 393h3v4h-3zM173 393h4v4h-4zM225 393h4v4h-4zM232 393h7v4h-7zM277 393h3v4h-3zM291 393h3v4h-3zM329 393h7v4h-7zM170 397h3v5h-3zM194 397h4v5h-4zM211 397h4v5h-4zM222 397h7v5h-7zM239 397h3v5h-3zM249 397h4v5h-4zM260 397h10v5h-10zM277 397h3v5h-3zM311 397h4v5h-4zM153 402h3v4h-3zM173 402h4v4h-4zM191 402h3v4h-3zM232 402h4v4h-4zM239 402h3v4h-3zM284 402h3v4h-3zM291 402h3v4h-3zM311 402h4v4h-4zM332 402h4v4h-4zM342 402h1v4h-1zM101 406h3v5h-3zM149 406h4v5h-4zM173 406h4v5h-4zM287 406h4v5h-4zM318 406h4v5h-4zM111 411h4v4h-4zM129 411h3v4h-3zM173 411h4v4h-4zM187 411h4v4h-4zM232 411h4v4h-4zM249 411h4v4h-4zM274 411h3v4h-3zM284 411h7v4h-7zM311 411h4v4h-4zM332 411h4v4h-4zM104 415h4v5h-4zM153 415h3v5h-3zM170 415h3v5h-3zM198 415h3v5h-3zM270 415h7v5h-7zM291 415h3v5h-3zM336 415h3v5h-3zM101 420h3v5h-3zM156 420h7v5h-7zM177 420h3v5h-3zM187 420h4v5h-4zM201 420h3v5h-3zM229 420h3v5h-3zM267 420h3v5h-3zM280 420h4v5h-4zM291 420h3v5h-3zM342 420h1v5h-1zM108 425h3v4h-3zM125 425h7v4h-7zM149 425h4v4h-4zM156 425h4v4h-4zM180 425h4v4h-4zM191 425h3v4h-3zM211 425h4v4h-4zM260 425h3v4h-3zM115 429h3v5h-3zM177 429h3v5h-3zM242 429h4v5h-4zM270 429h4v5h-4zM311 429h4v5h-4zM325 429h4v5h-4zM336 429h3v5h-3zM342 429h1v5h-1zM108 434h3v4h-3zM115 434h3v4h-3zM122 434h3v4h-3zM139 434h3v4h-3zM156 434h4v4h-4zM222 434h3v4h-3zM249 434h4v4h-4zM287 434h4v4h-4zM315 434h3v4h-3zM132 438h4v5h-4zM146 438h3v5h-3zM156 438h4v5h-4zM180 438h4v5h-4zM225 438h4v5h-4zM246 438h3v5h-3zM253 438h3v5h-3zM305 438h3v5h-3zM315 438h3v5h-3zM322 438h7v5h-7zM108 443h3v4h-3zM177 443h7v4h-7zM242 443h4v4h-4zM301 443h4v4h-4zM339 443h3v4h-3zM132 447h4v5h-4zM277 447h3v5h-3zM287 447h4v5h-4zM301 447h4v5h-4zM308 447h3v5h-3zM315 447h3v5h-3zM332 447h4v5h-4zM98 452h3v4h-3zM115 452h3v4h-3zM122 452h3v4h-3zM146 452h3v4h-3zM215 452h3v4h-3zM222 452h3v4h-3zM232 452h4v4h-4zM301 452h4v4h-4zM111 456h4v5h-4zM184 456h3v5h-3zM211 456h4v5h-4zM274 456h3v5h-3zM305 456h3v5h-3zM146 461h3v5h-3zM156 461h4v5h-4zM187 461h4v5h-4zM204 461h4v5h-4zM229 461h3v5h-3zM249 461h4v5h-4zM274 461h6v5h-6zM322 461h3v5h-3zM111 466h4v4h-4zM122 466h7v4h-7zM142 466h4v4h-4zM153 466h7v4h-7zM173 466h4v4h-4zM222 466h3v4h-3zM291 466h3v4h-3zM318 466h4v4h-4zM132 470h7v5h-7zM187 470h4v5h-4zM215 470h3v5h-3zM305 470h3v5h-3zM104 475h4v4h-4zM132 475h4v4h-4zM149 475h4v4h-4zM173 475h11v4h-11zM215 475h3v4h-3zM253 475h3v4h-3zM267 475h3v4h-3zM280 475h7v4h-7zM108 479h3v5h-3zM118 479h4v5h-4zM136 479h6v5h-6zM146 479h3v5h-3zM232 479h4v5h-4zM108 484h3v4h-3zM122 484h3v4h-3zM136 484h3v4h-3zM160 484h3v4h-3zM173 484h4v4h-4zM201 484h3v4h-3zM229 484h3v4h-3zM236 484h3v4h-3zM242 484h4v4h-4zM249 484h4v4h-4zM280 484h4v4h-4zM339 484h3v4h-3zM111 488h4v5h-4zM122 488h3v5h-3zM222 488h3v5h-3zM236 488h6v5h-6zM249 488h4v5h-4zM315 488h3v5h-3zM336 488h3v5h-3zM115 493h3v4h-3zM132 493h4v4h-4zM163 493h4v4h-4zM173 493h4v4h-4zM263 493h4v4h-4zM277 493h3v4h-3zM291 493h3v4h-3zM311 493h4v4h-4zM342 493h1v4h-1zM111 497h4v5h-4zM232 497h4v5h-4zM239 497h3v5h-3zM332 497h7v5h-7zM111 502h4v5h-4zM118 502h4v5h-4zM149 502h4v5h-4zM163 502h4v5h-4zM173 502h4v5h-4zM198 502h3v5h-3zM236 502h3v5h-3zM263 502h4v5h-4zM294 502h4v5h-4zM332 502h4v5h-4zM98 507h3v4h-3zM139 507h3v4h-3zM146 507h3v4h-3zM160 507h3v4h-3zM177 507h7v4h-7zM198 507h3v4h-3zM270 507h4v4h-4zM101 511h3v5h-3zM198 511h3v5h-3zM208 511h7v5h-7zM222 511h3v5h-3zM232 511h4v5h-4zM156 516h4v4h-4zM177 516h3v4h-3zM153 520h3v5h-3zM180 520h4v5h-4zM201 520h3v5h-3zM211 520h7v5h-7zM136 525h3v4h-3zM160 525h3v4h-3zM170 525h3v4h-3zM194 525h4v4h-4zM201 525h3v4h-3zM215 525h3v4h-3zM246 525h3v4h-3zM284 525h3v4h-3zM301 525h4v4h-4zM311 525h4v4h-4zM329 525h3v4h-3zM160 529h7v5h-7zM173 529h4v5h-4zM180 529h4v5h-4zM194 529h4v5h-4zM201 529h3v5h-3zM249 529h4v5h-4zM274 529h3v5h-3zM332 529h7v5h-7zM101 534h3v4h-3zM125 534h4v4h-4zM142 534h4v4h-4zM153 534h10v4h-10zM184 534h3v4h-3zM194 534h4v4h-4zM270 534h4v4h-4zM277 534h3v4h-3zM125 538h4v5h-4zM160 538h3v5h-3zM215 538h3v5h-3zM236 538h3v5h-3zM256 538h7v5h-7zM270 538h4v5h-4zM98 543h3v5h-3zM125 543h11v5h-11zM139 543h3v5h-3zM170 543h3v5h-3zM215 543h7v5h-7zM263 543h4v5h-4zM322 543h7v5h-7zM104 548h4v4h-4zM139 548h3v4h-3zM191 548h3v4h-3zM104 552h4v5h-4zM111 552h4v5h-4zM136 552h3v5h-3zM142 552h4v5h-4zM160 552h3v5h-3zM167 552h6v5h-6zM187 552h4v5h-4zM256 552h7v5h-7zM298 552h3v5h-3zM315 552h3v5h-3zM325 552h4v5h-4zM332 552h4v5h-4zM104 557h4v4h-4zM139 557h3v4h-3zM149 557h4v4h-4zM156 557h4v4h-4zM167 557h3v4h-3zM187 557h4v4h-4zM270 557h7v4h-7zM294 557h4v4h-4zM305 557h3v4h-3zM329 557h3v4h-3zM342 557h1v4h-1zM115 561h3v5h-3zM125 561h4v5h-4zM173 561h4v5h-4zM201 561h3v5h-3zM218 561h4v5h-4zM263 561h4v5h-4zM280 561h11v5h-11zM301 561h4v5h-4zM146 566h3v4h-3zM160 566h3v4h-3zM180 566h4v4h-4zM208 566h3v4h-3zM246 566h3v4h-3zM260 566h3v4h-3zM280 566h4v4h-4zM294 566h4v4h-4zM322 566h3v4h-3zM339 566h3v4h-3zM104 570h4v5h-4zM115 570h7v5h-7zM139 570h7v5h-7zM167 570h3v5h-3zM184 570h7v5h-7zM201 570h3v5h-3zM315 570h3v5h-3zM332 570h4v5h-4zM339 570h4v5h-4zM132 575h7v4h-7zM146 575h3v4h-3zM173 575h4v4h-4zM180 575h7v4h-7zM211 575h7v4h-7zM239 575h3v4h-3zM260 575h3v4h-3zM294 575h4v4h-4zM104 579h4v5h-4zM132 579h4v5h-4zM149 579h4v5h-4zM163 579h4v5h-4zM170 579h3v5h-3zM232 579h4v5h-4zM263 579h4v5h-4zM280 579h4v5h-4zM291 579h3v5h-3zM308 579h3v5h-3zM342 579h1v5h-1zM118 584h4v5h-4zM160 584h3v5h-3zM211 584h4v5h-4zM260 584h3v5h-3zM98 589h3v4h-3zM115 589h3v4h-3zM125 589h4v4h-4zM149 589h4v4h-4zM160 589h3v4h-3zM201 589h3v4h-3zM222 589h3v4h-3zM246 589h3v4h-3zM263 589h4v4h-4zM104 593h4v5h-4zM125 593h4v5h-4zM136 593h3v5h-3zM170 593h3v5h-3zM204 593h4v5h-4zM211 593h4v5h-4zM260 593h3v5h-3zM267 593h7v5h-7zM298 593h3v5h-3zM339 593h4v5h-4zM104 598h4v4h-4zM160 598h3v4h-3zM167 598h3v4h-3zM201 598h3v4h-3zM215 598h3v4h-3zM232 598h4v4h-4zM322 598h3v4h-3zM139 602h3v5h-3zM146 602h3v5h-3zM156 602h4v5h-4zM170 602h3v5h-3zM301 602h4v5h-4zM308 602h3v5h-3zM318 602h4v5h-4zM170 607h3v4h-3zM180 607h4v4h-4zM191 607h3v4h-3zM211 607h4v4h-4zM218 607h4v4h-4zM229 607h3v4h-3zM239 607h3v4h-3zM256 607h4v4h-4zM287 607h4v4h-4zM311 607h11v4h-11zM339 607h3v4h-3zM111 611h4v2h-4zM118 611h4v2h-4zM129 611h3v2h-3zM153 611h3v2h-3zM160 611h3v2h-3zM191 611h3v2h-3zM204 611h4v2h-4zM225 611h4v2h-4zM270 611h4v2h-4zM301 611h4v2h-4zM308 611h3v2h-3zM315 611h3v2h-3zM339 611h4v2h-4z"/><path fill="#9b0000" d="M98 369h3v1h-3zM108 369h3v1h-3zM122 369h7v1h-7zM132 369h4v1h-4zM142 369h7v1h-7zM170 369h3v1h-3zM191 369h7v1h-7zM225 369h7v1h-7zM242 369h7v1h-7zM277 369h3v1h-3zM298 369h7v1h-7zM315 369h3v1h-3zM342 369h1v1h-1zM122 370h3v4h-3zM132 370h7v4h-7zM156 370h4v4h-4zM167 370h3v4h-3zM208 370h3v4h-3zM225 370h11v4h-11zM253 370h3v4h-3zM280 370h4v4h-4zM287 370h4v4h-4zM298 370h3v4h-3zM173 374h4v5h-4zM208 374h3v5h-3zM222 374h3v5h-3zM267 374h3v5h-3zM274 374h3v5h-3zM339 374h3v5h-3zM111 379h4v5h-4zM142 379h4v5h-4zM153 379h7v5h-7zM163 379h4v5h-4zM204 379h4v5h-4zM239 379h3v5h-3zM246 379h3v5h-3zM260 379h3v5h-3zM267 379h3v5h-3zM298 379h3v5h-3zM311 379h4v5h-4zM194 384h4v4h-4zM249 384h4v4h-4zM298 384h3v4h-3zM339 384h3v4h-3zM108 388h3v5h-3zM129 388h3v5h-3zM204 388h4v5h-4zM215 388h7v5h-7zM253 388h3v5h-3zM263 388h4v5h-4zM287 388h4v5h-4zM108 393h3v4h-3zM122 393h3v4h-3zM149 393h4v4h-4zM156 393h4v4h-4zM180 393h4v4h-4zM187 393h7v4h-7zM229 393h3v4h-3zM315 393h7v4h-7zM325 393h4v4h-4zM339 393h3v4h-3zM125 397h4v5h-4zM153 397h3v5h-3zM204 397h7v5h-7zM215 397h3v5h-3zM242 397h4v5h-4zM253 397h7v5h-7zM270 397h4v5h-4zM329 397h7v5h-7zM101 402h7v4h-7zM115 402h3v4h-3zM122 402h7v4h-7zM142 402h7v4h-7zM187 402h4v4h-4zM194 402h7v4h-7zM222 402h3v4h-3zM301 402h4v4h-4zM104 406h4v5h-4zM111 406h7v5h-7zM136 406h3v5h-3zM167 406h3v5h-3zM177 406h3v5h-3zM194 406h4v5h-4zM232 406h4v5h-4zM239 406h3v5h-3zM249 406h4v5h-4zM332 406h4v5h-4zM125 411h4v4h-4zM142 411h4v4h-4zM153 411h3v4h-3zM163 411h4v4h-4zM184 411h3v4h-3zM191 411h3v4h-3zM201 411h3v4h-3zM211 411h7v4h-7zM253 411h3v4h-3zM270 411h4v4h-4zM280 411h4v4h-4zM315 411h7v4h-7zM342 411h1v4h-1zM115 415h3v5h-3zM136 415h3v5h-3zM142 415h4v5h-4zM167 415h3v5h-3zM177 415h3v5h-3zM184 415h3v5h-3zM215 415h3v5h-3zM256 415h4v5h-4zM277 415h3v5h-3zM284 415h3v5h-3zM294 415h4v5h-4zM129 420h3v5h-3zM167 420h3v5h-3zM198 420h3v5h-3zM215 420h3v5h-3zM222 420h3v5h-3zM249 420h4v5h-4zM263 420h4v5h-4zM136 425h3v4h-3zM160 425h7v4h-7zM170 425h7v4h-7zM229 425h3v4h-3zM101 429h3v5h-3zM149 429h7v5h-7zM249 429h7v5h-7zM263 429h4v5h-4zM274 429h6v5h-6zM125 434h4v4h-4zM246 434h3v4h-3zM260 434h3v4h-3zM274 434h3v4h-3zM291 434h3v4h-3zM308 434h3v4h-3zM322 434h3v4h-3zM108 438h3v5h-3zM149 438h4v5h-4zM163 438h4v5h-4zM170 438h3v5h-3zM184 438h3v5h-3zM194 438h4v5h-4zM204 438h4v5h-4zM218 438h4v5h-4zM249 438h4v5h-4zM291 438h14v5h-14zM329 438h3v5h-3zM336 438h3v5h-3zM104 443h4v4h-4zM170 443h3v4h-3zM184 443h3v4h-3zM201 443h10v4h-10zM225 443h4v4h-4zM239 443h3v4h-3zM256 443h4v4h-4zM315 443h3v4h-3zM336 443h3v4h-3zM108 447h3v5h-3zM129 447h3v5h-3zM139 447h3v5h-3zM153 447h3v5h-3zM163 447h4v5h-4zM170 447h3v5h-3zM191 447h3v5h-3zM208 447h10v5h-10zM222 447h3v5h-3zM291 447h7v5h-7zM104 452h4v4h-4zM125 452h4v4h-4zM132 452h7v4h-7zM156 452h4v4h-4zM167 452h10v4h-10zM180 452h4v4h-4zM187 452h4v4h-4zM201 452h3v4h-3zM218 452h4v4h-4zM239 452h3v4h-3zM253 452h3v4h-3zM287 452h4v4h-4zM98 456h3v5h-3zM115 456h3v5h-3zM122 456h3v5h-3zM139 456h7v5h-7zM160 456h3v5h-3zM170 456h3v5h-3zM177 456h3v5h-3zM222 456h3v5h-3zM263 456h4v5h-4zM318 456h4v5h-4zM342 456h1v5h-1zM104 461h4v5h-4zM142 461h4v5h-4zM149 461h7v5h-7zM177 461h3v5h-3zM184 461h3v5h-3zM215 461h3v5h-3zM222 461h3v5h-3zM294 461h4v5h-4zM301 461h4v5h-4zM325 461h4v5h-4zM339 461h3v5h-3zM118 466h4v4h-4zM163 466h4v4h-4zM201 466h3v4h-3zM294 466h11v4h-11zM311 466h4v4h-4zM329 466h3v4h-3zM122 470h7v5h-7zM177 470h3v5h-3zM204 470h4v5h-4zM239 470h3v5h-3zM253 470h3v5h-3zM270 470h4v5h-4zM280 470h4v5h-4zM101 475h3v4h-3zM108 475h3v4h-3zM118 475h4v4h-4zM139 475h3v4h-3zM146 475h3v4h-3zM208 475h3v4h-3zM256 475h11v4h-11zM270 475h4v4h-4zM311 475h4v4h-4zM322 475h3v4h-3zM342 475h1v4h-1zM129 479h3v5h-3zM142 479h4v5h-4zM180 479h11v5h-11zM277 479h3v5h-3zM284 479h3v5h-3zM336 479h3v5h-3zM125 484h4v4h-4zM139 484h3v4h-3zM146 484h3v4h-3zM163 484h10v4h-10zM187 484h4v4h-4zM204 484h4v4h-4zM232 484h4v4h-4zM263 484h4v4h-4zM270 484h4v4h-4zM108 488h3v5h-3zM146 488h3v5h-3zM180 488h4v5h-4zM215 488h3v5h-3zM225 488h4v5h-4zM253 488h3v5h-3zM267 488h3v5h-3zM318 488h4v5h-4zM332 488h4v5h-4zM104 493h4v4h-4zM139 493h3v4h-3zM156 493h7v4h-7zM204 493h4v4h-4zM249 493h4v4h-4zM260 493h3v4h-3zM274 493h3v4h-3zM284 493h3v4h-3zM294 493h4v4h-4zM315 493h3v4h-3zM322 493h3v4h-3zM329 493h3v4h-3zM108 497h3v5h-3zM115 497h7v5h-7zM129 497h3v5h-3zM146 497h3v5h-3zM170 497h3v5h-3zM184 497h3v5h-3zM198 497h6v5h-6zM208 497h3v5h-3zM246 497h3v5h-3zM253 497h3v5h-3zM263 497h4v5h-4zM308 497h3v5h-3zM318 497h4v5h-4zM98 502h6v5h-6zM129 502h3v5h-3zM142 502h4v5h-4zM191 502h3v5h-3zM201 502h3v5h-3zM229 502h3v5h-3zM267 502h3v5h-3zM291 502h3v5h-3zM136 507h3v4h-3zM201 507h3v4h-3zM211 507h4v4h-4zM222 507h3v4h-3zM249 507h4v4h-4zM329 507h3v4h-3zM342 507h1v4h-1zM98 511h3v5h-3zM129 511h3v5h-3zM146 511h3v5h-3zM325 511h4v5h-4zM104 516h7v4h-7zM118 516h4v4h-4zM160 516h7v4h-7zM170 516h3v4h-3zM180 516h4v4h-4zM211 516h7v4h-7zM329 516h3v4h-3zM101 520h3v5h-3zM111 520h4v5h-4zM146 520h3v5h-3zM218 520h4v5h-4zM225 520h4v5h-4zM260 520h3v5h-3zM108 525h3v4h-3zM142 525h4v4h-4zM153 525h7v4h-7zM163 525h7v4h-7zM198 525h3v4h-3zM222 525h3v4h-3zM263 525h7v4h-7zM280 525h4v4h-4zM339 525h3v4h-3zM108 529h3v5h-3zM125 529h4v5h-4zM236 529h3v5h-3zM242 529h4v5h-4zM267 529h3v5h-3zM342 529h1v5h-1zM108 534h3v4h-3zM263 534h4v4h-4zM280 534h4v4h-4zM325 534h4v4h-4zM101 538h3v5h-3zM115 538h3v5h-3zM122 538h3v5h-3zM132 538h4v5h-4zM173 538h4v5h-4zM232 538h4v5h-4zM239 538h7v5h-7zM280 538h4v5h-4zM322 538h7v5h-7zM342 538h1v5h-1zM142 543h4v5h-4zM156 543h4v5h-4zM173 543h4v5h-4zM204 543h4v5h-4zM229 543h3v5h-3zM280 543h7v5h-7zM111 548h4v4h-4zM149 548h4v4h-4zM156 548h4v4h-4zM180 548h4v4h-4zM198 548h3v4h-3zM215 548h3v4h-3zM249 548h4v4h-4zM277 548h3v4h-3zM298 548h3v4h-3zM315 548h3v4h-3zM336 548h3v4h-3zM342 548h1v4h-1zM98 552h6v5h-6zM139 552h3v5h-3zM149 552h4v5h-4zM156 552h4v5h-4zM180 552h7v5h-7zM194 552h4v5h-4zM204 552h4v5h-4zM211 552h4v5h-4zM222 552h7v5h-7zM246 552h7v5h-7zM274 552h3v5h-3zM311 552h4v5h-4zM336 552h3v5h-3zM108 557h3v4h-3zM136 557h3v4h-3zM177 557h3v4h-3zM215 557h3v4h-3zM260 557h7v4h-7zM277 557h3v4h-3zM287 557h4v4h-4zM315 557h3v4h-3zM98 561h6v5h-6zM108 561h7v5h-7zM139 561h7v5h-7zM156 561h4v5h-4zM184 561h3v5h-3zM222 561h3v5h-3zM229 561h3v5h-3zM253 561h3v5h-3zM267 561h3v5h-3zM274 561h3v5h-3zM294 561h4v5h-4zM322 561h3v5h-3zM108 566h3v4h-3zM173 566h4v4h-4zM187 566h4v4h-4zM201 566h3v4h-3zM225 566h4v4h-4zM256 566h4v4h-4zM263 566h7v4h-7zM287 566h4v4h-4zM315 566h3v4h-3zM332 566h4v4h-4zM136 570h3v5h-3zM146 570h3v5h-3zM153 570h3v5h-3zM232 570h4v5h-4zM260 570h3v5h-3zM284 570h3v5h-3zM305 570h6v5h-6zM325 570h4v5h-4zM101 575h3v4h-3zM139 575h3v4h-3zM160 575h3v4h-3zM167 575h3v4h-3zM194 575h4v4h-4zM201 575h3v4h-3zM218 575h4v4h-4zM253 575h3v4h-3zM263 575h7v4h-7zM322 575h3v4h-3zM101 579h3v5h-3zM156 579h4v5h-4zM187 579h11v5h-11zM201 579h3v5h-3zM215 579h7v5h-7zM246 579h10v5h-10zM277 579h3v5h-3zM305 579h3v5h-3zM104 584h4v5h-4zM125 584h4v5h-4zM146 584h3v5h-3zM156 584h4v5h-4zM184 584h3v5h-3zM198 584h3v5h-3zM218 584h4v5h-4zM249 584h4v5h-4zM270 584h4v5h-4zM284 584h3v5h-3zM294 584h4v5h-4zM311 584h4v5h-4zM339 584h3v5h-3zM111 589h4v4h-4zM170 589h3v4h-3zM194 589h4v4h-4zM215 589h3v4h-3zM229 589h3v4h-3zM253 589h3v4h-3zM274 589h3v4h-3zM280 589h11v4h-11zM301 589h4v4h-4zM322 589h3v4h-3zM329 589h3v4h-3zM339 589h3v4h-3zM108 593h3v5h-3zM115 593h3v5h-3zM146 593h3v5h-3zM156 593h4v5h-4zM177 593h3v5h-3zM208 593h3v5h-3zM222 593h3v5h-3zM236 593h3v5h-3zM242 593h4v5h-4zM284 593h3v5h-3zM294 593h4v5h-4zM332 593h4v5h-4zM98 598h3v4h-3zM122 598h3v4h-3zM146 598h3v4h-3zM204 598h4v4h-4zM246 598h3v4h-3zM256 598h4v4h-4zM267 598h3v4h-3zM277 598h3v4h-3zM291 598h3v4h-3zM305 598h3v4h-3zM311 598h4v4h-4zM336 598h3v4h-3zM118 602h4v5h-4zM142 602h4v5h-4zM160 602h3v5h-3zM191 602h3v5h-3zM222 602h3v5h-3zM232 602h4v5h-4zM277 602h3v5h-3zM305 602h3v5h-3zM98 607h3v4h-3zM104 607h4v4h-4zM173 607h4v4h-4zM208 607h3v4h-3zM215 607h3v4h-3zM222 607h3v4h-3zM242 607h4v4h-4zM249 607h4v4h-4zM267 607h7v4h-7zM146 611h3v2h-3zM208 611h7v2h-7zM246 611h7v2h-7zM263 611h4v2h-4zM298 611h3v2h-3zM311 611h4v2h-4zM329 611h3v2h-3zM336 611h3v2h-3z"/><path fill="#b10000" d="M118 369h4v1h-4zM149 369h4v1h-4zM180 369h4v1h-4zM204 369h4v1h-4zM236 369h3v1h-3zM263 369h4v1h-4zM270 369h4v1h-4zM280 369h4v1h-4zM294 369h4v1h-4zM329 369h3v1h-3zM142 370h7v4h-7zM204 370h4v4h-4zM222 370h3v4h-3zM246 370h3v4h-3zM308 370h7v4h-7zM339 370h3v4h-3zM101 374h3v5h-3zM139 374h3v5h-3zM153 374h3v5h-3zM191 374h3v5h-3zM229 374h3v5h-3zM253 374h3v5h-3zM260 374h3v5h-3zM270 374h4v5h-4zM104 379h4v5h-4zM149 379h4v5h-4zM170 379h3v5h-3zM177 379h3v5h-3zM270 379h4v5h-4zM291 379h3v5h-3zM322 379h3v5h-3zM115 384h3v4h-3zM122 384h3v4h-3zM129 384h3v4h-3zM136 384h3v4h-3zM149 384h4v4h-4zM163 384h4v4h-4zM180 384h4v4h-4zM191 384h3v4h-3zM198 384h3v4h-3zM208 384h3v4h-3zM218 384h4v4h-4zM267 384h3v4h-3zM277 384h3v4h-3zM301 384h7v4h-7zM336 384h3v4h-3zM101 388h7v5h-7zM142 388h4v5h-4zM149 388h4v5h-4zM177 388h7v5h-7zM198 388h6v5h-6zM211 388h4v5h-4zM239 388h7v5h-7zM322 388h3v5h-3zM329 388h7v5h-7zM111 393h4v4h-4zM142 393h4v4h-4zM167 393h3v4h-3zM198 393h3v4h-3zM260 393h3v4h-3zM280 393h4v4h-4zM104 397h4v5h-4zM129 397h3v5h-3zM156 397h4v5h-4zM246 397h3v5h-3zM274 397h3v5h-3zM315 397h3v5h-3zM339 397h3v5h-3zM132 402h4v4h-4zM163 402h4v4h-4zM170 402h3v4h-3zM177 402h3v4h-3zM204 402h4v4h-4zM229 402h3v4h-3zM246 402h3v4h-3zM256 402h4v4h-4zM263 402h7v4h-7zM274 402h6v4h-6zM308 402h3v4h-3zM198 406h10v5h-10zM222 406h3v5h-3zM270 406h4v5h-4zM291 406h3v5h-3zM342 406h1v5h-1zM104 411h4v4h-4zM118 411h7v4h-7zM156 411h4v4h-4zM177 411h3v4h-3zM204 411h4v4h-4zM239 411h3v4h-3zM277 411h3v4h-3zM98 415h6v5h-6zM118 415h4v5h-4zM146 415h3v5h-3zM187 415h4v5h-4zM208 415h3v5h-3zM218 415h4v5h-4zM232 415h4v5h-4zM246 415h3v5h-3zM260 415h7v5h-7zM287 415h4v5h-4zM104 420h4v5h-4zM125 420h4v5h-4zM173 420h4v5h-4zM191 420h3v5h-3zM211 420h4v5h-4zM225 420h4v5h-4zM270 420h4v5h-4zM339 420h3v5h-3zM104 425h4v4h-4zM115 425h3v4h-3zM132 425h4v4h-4zM139 425h10v4h-10zM215 425h3v4h-3zM239 425h3v4h-3zM270 425h4v4h-4zM280 425h4v4h-4zM329 425h3v4h-3zM104 429h4v5h-4zM125 429h11v5h-11zM139 429h3v5h-3zM156 429h7v5h-7zM170 429h7v5h-7zM191 429h10v5h-10zM215 429h3v5h-3zM229 429h3v5h-3zM256 429h4v5h-4zM267 429h3v5h-3zM308 429h3v5h-3zM322 429h3v5h-3zM332 429h4v5h-4zM98 434h6v4h-6zM163 434h4v4h-4zM204 434h7v4h-7zM218 434h4v4h-4zM229 434h3v4h-3zM253 434h3v4h-3zM277 434h7v4h-7zM336 434h6v4h-6zM104 438h4v5h-4zM115 438h3v5h-3zM160 438h3v5h-3zM177 438h3v5h-3zM187 438h7v5h-7zM208 438h3v5h-3zM215 438h3v5h-3zM236 438h3v5h-3zM277 438h3v5h-3zM332 438h4v5h-4zM339 438h3v5h-3zM142 443h7v4h-7zM160 443h3v4h-3zM173 443h4v4h-4zM187 443h4v4h-4zM218 443h4v4h-4zM236 443h3v4h-3zM270 443h4v4h-4zM332 443h4v4h-4zM111 447h4v5h-4zM160 447h3v5h-3zM173 447h4v5h-4zM198 447h3v5h-3zM225 447h7v5h-7zM242 447h4v5h-4zM256 447h4v5h-4zM284 447h3v5h-3zM318 447h7v5h-7zM339 447h3v5h-3zM108 452h3v4h-3zM129 452h3v4h-3zM142 452h4v4h-4zM177 452h3v4h-3zM191 452h7v4h-7zM208 452h7v4h-7zM229 452h3v4h-3zM236 452h3v4h-3zM263 452h4v4h-4zM280 452h4v4h-4zM291 452h3v4h-3zM315 452h3v4h-3zM325 452h4v4h-4zM339 452h3v4h-3zM101 456h3v5h-3zM108 456h3v5h-3zM125 456h4v5h-4zM132 456h4v5h-4zM191 456h7v5h-7zM204 456h4v5h-4zM225 456h4v5h-4zM284 456h3v5h-3zM294 456h4v5h-4zM311 456h4v5h-4zM322 456h3v5h-3zM115 461h3v5h-3zM129 461h7v5h-7zM160 461h3v5h-3zM180 461h4v5h-4zM201 461h3v5h-3zM208 461h3v5h-3zM242 461h4v5h-4zM263 461h4v5h-4zM291 461h3v5h-3zM315 461h3v5h-3zM329 461h3v5h-3zM108 466h3v4h-3zM136 466h3v4h-3zM167 466h3v4h-3zM191 466h3v4h-3zM263 466h4v4h-4zM270 466h4v4h-4zM108 470h7v5h-7zM118 470h4v5h-4zM129 470h3v5h-3zM201 470h3v5h-3zM249 470h4v5h-4zM256 470h7v5h-7zM274 470h6v5h-6zM298 470h3v5h-3zM98 475h3v4h-3zM111 475h4v4h-4zM136 475h3v4h-3zM160 475h7v4h-7zM170 475h3v4h-3zM184 475h3v4h-3zM191 475h3v4h-3zM239 475h3v4h-3zM291 475h3v4h-3zM339 475h3v4h-3zM173 479h4v5h-4zM201 479h3v5h-3zM208 479h7v5h-7zM263 479h4v5h-4zM280 479h4v5h-4zM98 484h6v4h-6zM142 484h4v4h-4zM180 484h7v4h-7zM211 484h4v4h-4zM277 484h3v4h-3zM284 484h3v4h-3zM332 484h7v4h-7zM342 484h1v4h-1zM98 488h6v5h-6zM115 488h3v5h-3zM208 488h3v5h-3zM232 488h4v5h-4zM260 488h3v5h-3zM274 488h3v5h-3zM339 488h3v5h-3zM136 493h3v4h-3zM146 493h7v4h-7zM170 493h3v4h-3zM187 493h4v4h-4zM215 493h3v4h-3zM253 493h7v4h-7zM305 493h3v4h-3zM332 493h7v4h-7zM122 497h3v5h-3zM139 497h3v5h-3zM163 497h4v5h-4zM225 497h7v5h-7zM249 497h4v5h-4zM274 497h3v5h-3zM294 497h7v5h-7zM322 497h3v5h-3zM125 502h4v5h-4zM132 502h4v5h-4zM146 502h3v5h-3zM160 502h3v5h-3zM208 502h3v5h-3zM239 502h3v5h-3zM270 502h4v5h-4zM277 502h3v5h-3zM298 502h3v5h-3zM305 502h3v5h-3zM315 502h3v5h-3zM329 502h3v5h-3zM111 507h4v4h-4zM122 507h3v4h-3zM129 507h3v4h-3zM142 507h4v4h-4zM173 507h4v4h-4zM204 507h7v4h-7zM229 507h3v4h-3zM325 507h4v4h-4zM339 507h3v4h-3zM118 511h7v5h-7zM170 511h7v5h-7zM180 511h4v5h-4zM187 511h4v5h-4zM218 511h4v5h-4zM329 511h3v5h-3zM98 516h6v4h-6zM139 516h3v4h-3zM198 516h6v4h-6zM118 520h4v5h-4zM142 520h4v5h-4zM149 520h4v5h-4zM156 520h7v5h-7zM167 520h3v5h-3zM191 520h7v5h-7zM301 520h4v5h-4zM322 520h3v5h-3zM342 520h1v5h-1zM101 525h3v4h-3zM173 525h4v4h-4zM204 525h4v4h-4zM232 525h7v4h-7zM249 525h4v4h-4zM322 525h3v4h-3zM342 525h1v4h-1zM98 529h3v5h-3zM122 529h3v5h-3zM132 529h4v5h-4zM156 529h4v5h-4zM167 529h3v5h-3zM177 529h3v5h-3zM222 529h3v5h-3zM239 529h3v5h-3zM329 529h3v5h-3zM139 534h3v4h-3zM167 534h3v4h-3zM180 534h4v4h-4zM187 534h7v4h-7zM98 538h3v5h-3zM118 538h4v5h-4zM136 538h3v5h-3zM142 538h4v5h-4zM149 538h4v5h-4zM156 538h4v5h-4zM253 538h3v5h-3zM267 538h3v5h-3zM146 543h3v5h-3zM163 543h7v5h-7zM191 543h3v5h-3zM239 543h7v5h-7zM98 548h3v4h-3zM125 548h4v4h-4zM146 548h3v4h-3zM204 548h4v4h-4zM218 548h4v4h-4zM225 548h4v4h-4zM129 552h3v5h-3zM153 552h3v5h-3zM163 552h4v5h-4zM215 552h3v5h-3zM239 552h3v5h-3zM287 552h4v5h-4zM301 552h4v5h-4zM322 552h3v5h-3zM329 552h3v5h-3zM339 552h4v5h-4zM153 557h3v4h-3zM180 557h7v4h-7zM198 557h3v4h-3zM208 557h3v4h-3zM218 557h4v4h-4zM229 557h3v4h-3zM246 557h3v4h-3zM267 557h3v4h-3zM284 557h3v4h-3zM301 557h4v4h-4zM339 557h3v4h-3zM104 561h4v5h-4zM146 561h3v5h-3zM177 561h3v5h-3zM194 561h4v5h-4zM215 561h3v5h-3zM270 561h4v5h-4zM277 561h3v5h-3zM305 561h3v5h-3zM315 561h3v5h-3zM115 566h3v4h-3zM132 566h4v4h-4zM139 566h3v4h-3zM149 566h4v4h-4zM274 566h3v4h-3zM301 566h4v4h-4zM311 566h4v4h-4zM318 566h4v4h-4zM98 570h3v5h-3zM191 570h3v5h-3zM204 570h4v5h-4zM222 570h7v5h-7zM236 570h3v5h-3zM253 570h7v5h-7zM277 570h3v5h-3zM287 570h4v5h-4zM104 575h4v4h-4zM118 575h4v4h-4zM125 575h4v4h-4zM153 575h3v4h-3zM170 575h3v4h-3zM208 575h3v4h-3zM222 575h7v4h-7zM270 575h4v4h-4zM280 575h14v4h-14zM311 575h4v4h-4zM325 575h4v4h-4zM332 575h7v4h-7zM118 579h4v5h-4zM146 579h3v5h-3zM167 579h3v5h-3zM177 579h3v5h-3zM208 579h3v5h-3zM239 579h3v5h-3zM256 579h4v5h-4zM267 579h3v5h-3zM284 579h3v5h-3zM311 579h4v5h-4zM336 579h3v5h-3zM98 584h3v5h-3zM108 584h3v5h-3zM132 584h4v5h-4zM142 584h4v5h-4zM149 584h7v5h-7zM170 584h7v5h-7zM229 584h3v5h-3zM263 584h4v5h-4zM274 584h3v5h-3zM325 584h11v5h-11zM139 589h7v4h-7zM180 589h4v4h-4zM198 589h3v4h-3zM249 589h4v4h-4zM267 589h3v4h-3zM298 589h3v4h-3zM318 589h4v4h-4zM118 593h4v5h-4zM132 593h4v5h-4zM149 593h7v5h-7zM180 593h4v5h-4zM187 593h4v5h-4zM215 593h3v5h-3zM225 593h4v5h-4zM253 593h3v5h-3zM301 593h4v5h-4zM308 593h3v5h-3zM315 593h3v5h-3zM125 598h4v4h-4zM149 598h4v4h-4zM163 598h4v4h-4zM170 598h7v4h-7zM211 598h4v4h-4zM229 598h3v4h-3zM274 598h3v4h-3zM318 598h4v4h-4zM329 598h7v4h-7zM111 602h4v5h-4zM122 602h7v5h-7zM136 602h3v5h-3zM177 602h7v5h-7zM187 602h4v5h-4zM201 602h3v5h-3zM208 602h3v5h-3zM215 602h3v5h-3zM236 602h3v5h-3zM270 602h7v5h-7zM311 602h7v5h-7zM322 602h7v5h-7zM101 607h3v4h-3zM118 607h4v4h-4zM125 607h4v4h-4zM132 607h4v4h-4zM156 607h4v4h-4zM187 607h4v4h-4zM194 607h7v4h-7zM236 607h3v4h-3zM260 607h7v4h-7zM277 607h3v4h-3zM291 607h3v4h-3zM329 607h3v4h-3zM201 611h3v2h-3zM222 611h3v2h-3zM242 611h4v2h-4zM267 611h3v2h-3zM294 611h4v2h-4zM332 611h4v2h-4z"/><path fill="#c80000" d="M208 369h3v1h-3zM149 370h4v4h-4zM160 370h3v4h-3zM177 370h3v4h-3zM218 370h4v4h-4zM111 374h4v5h-4zM142 374h4v5h-4zM184 374h3v5h-3zM232 374h4v5h-4zM242 374h4v5h-4zM287 374h4v5h-4zM308 374h3v5h-3zM342 374h1v5h-1zM98 379h3v5h-3zM132 379h4v5h-4zM139 379h3v5h-3zM160 379h3v5h-3zM198 379h3v5h-3zM208 379h3v5h-3zM249 379h4v5h-4zM256 379h4v5h-4zM274 379h3v5h-3zM287 379h4v5h-4zM329 379h3v5h-3zM98 384h3v4h-3zM142 384h4v4h-4zM170 384h3v4h-3zM187 384h4v4h-4zM211 384h4v4h-4zM222 384h3v4h-3zM239 384h7v4h-7zM274 384h3v4h-3zM311 384h4v4h-4zM98 388h3v5h-3zM111 388h4v5h-4zM136 388h3v5h-3zM222 388h3v5h-3zM260 388h3v5h-3zM129 393h3v4h-3zM146 393h3v4h-3zM211 393h7v4h-7zM222 393h3v4h-3zM239 393h3v4h-3zM246 393h3v4h-3zM108 397h3v5h-3zM142 397h4v5h-4zM149 397h4v5h-4zM160 397h3v5h-3zM191 397h3v5h-3zM218 397h4v5h-4zM287 397h4v5h-4zM301 397h4v5h-4zM318 397h4v5h-4zM136 402h3v4h-3zM260 402h3v4h-3zM280 402h4v4h-4zM132 406h4v5h-4zM139 406h3v5h-3zM208 406h3v5h-3zM218 406h4v5h-4zM274 406h3v5h-3zM280 406h4v5h-4zM294 406h4v5h-4zM311 406h7v5h-7zM101 411h3v4h-3zM132 411h4v4h-4zM160 411h3v4h-3zM336 411h3v4h-3zM139 415h3v5h-3zM156 415h4v5h-4zM204 415h4v5h-4zM225 415h4v5h-4zM253 415h3v5h-3zM267 415h3v5h-3zM108 420h3v5h-3zM122 420h3v5h-3zM136 420h3v5h-3zM170 420h3v5h-3zM239 420h3v5h-3zM246 420h3v5h-3zM274 420h3v5h-3zM332 420h4v5h-4zM101 425h3v4h-3zM184 425h3v4h-3zM222 425h7v4h-7zM236 425h3v4h-3zM246 425h7v4h-7zM263 425h4v4h-4zM332 425h7v4h-7zM98 429h3v5h-3zM180 429h4v5h-4zM201 429h3v5h-3zM211 429h4v5h-4zM280 429h4v5h-4zM329 429h3v5h-3zM104 434h4v4h-4zM132 434h7v4h-7zM160 434h3v4h-3zM180 434h4v4h-4zM194 434h4v4h-4zM256 434h4v4h-4zM311 434h4v4h-4zM98 438h3v5h-3zM111 438h4v5h-4zM139 438h3v5h-3zM153 438h3v5h-3zM167 438h3v5h-3zM198 438h3v5h-3zM222 438h3v5h-3zM229 438h3v5h-3zM260 438h3v5h-3zM270 438h4v5h-4zM98 443h3v4h-3zM111 443h4v4h-4zM215 443h3v4h-3zM246 443h3v4h-3zM253 443h3v4h-3zM263 443h4v4h-4zM298 443h3v4h-3zM322 443h7v4h-7zM98 447h3v5h-3zM149 447h4v5h-4zM167 447h3v5h-3zM180 447h4v5h-4zM187 447h4v5h-4zM249 447h7v5h-7zM263 447h4v5h-4zM270 447h4v5h-4zM153 452h3v4h-3zM160 452h3v4h-3zM225 452h4v4h-4zM277 452h3v4h-3zM284 452h3v4h-3zM305 452h3v4h-3zM332 452h4v4h-4zM104 456h4v5h-4zM236 456h3v5h-3zM249 456h4v5h-4zM260 456h3v5h-3zM308 456h3v5h-3zM329 456h3v5h-3zM118 461h4v5h-4zM173 461h4v5h-4zM194 461h4v5h-4zM218 461h4v5h-4zM270 461h4v5h-4zM287 461h4v5h-4zM101 466h3v4h-3zM253 466h3v4h-3zM280 466h7v4h-7zM332 466h4v4h-4zM142 470h11v5h-11zM167 470h10v5h-10zM208 470h3v5h-3zM287 470h4v5h-4zM115 475h3v4h-3zM129 475h3v4h-3zM153 475h3v4h-3zM194 475h4v4h-4zM242 475h4v4h-4zM277 475h3v4h-3zM301 475h4v4h-4zM101 479h7v5h-7zM153 479h3v5h-3zM170 479h3v5h-3zM222 479h10v5h-10zM236 479h3v5h-3zM274 479h3v5h-3zM301 479h4v5h-4zM322 479h3v5h-3zM118 484h4v4h-4zM129 484h3v4h-3zM149 484h4v4h-4zM194 484h4v4h-4zM218 484h4v4h-4zM239 484h3v4h-3zM246 484h3v4h-3zM260 484h3v4h-3zM267 484h3v4h-3zM274 484h3v4h-3zM104 488h4v5h-4zM132 488h4v5h-4zM194 488h4v5h-4zM280 488h4v5h-4zM122 493h7v4h-7zM208 493h3v4h-3zM218 493h4v4h-4zM270 493h4v4h-4zM98 497h3v5h-3zM149 497h4v5h-4zM156 497h7v5h-7zM222 497h3v5h-3zM280 497h4v5h-4zM287 497h4v5h-4zM325 497h4v5h-4zM115 502h3v5h-3zM194 502h4v5h-4zM232 502h4v5h-4zM242 502h4v5h-4zM274 502h3v5h-3zM308 502h3v5h-3zM322 502h3v5h-3zM336 502h3v5h-3zM156 507h4v4h-4zM225 507h4v4h-4zM263 507h4v4h-4zM308 507h3v4h-3zM108 511h3v5h-3zM132 511h4v5h-4zM184 511h3v5h-3zM194 511h4v5h-4zM225 511h4v5h-4zM342 511h1v5h-1zM115 516h3v4h-3zM122 516h10v4h-10zM153 516h3v4h-3zM198 520h3v5h-3zM149 525h4v4h-4zM180 525h4v4h-4zM187 525h4v4h-4zM218 525h4v4h-4zM308 525h3v4h-3zM198 529h3v5h-3zM270 529h4v5h-4zM277 529h7v5h-7zM211 534h4v4h-4zM246 534h3v4h-3zM267 534h3v4h-3zM342 534h1v4h-1zM204 538h4v5h-4zM211 538h4v5h-4zM274 538h3v5h-3zM177 543h3v5h-3zM194 543h4v5h-4zM211 543h4v5h-4zM232 543h4v5h-4zM256 543h4v5h-4zM115 548h10v4h-10zM194 548h4v4h-4zM239 548h3v4h-3zM270 548h4v4h-4zM280 548h7v4h-7zM329 548h3v4h-3zM118 552h11v5h-11zM132 552h4v5h-4zM177 552h3v5h-3zM208 552h3v5h-3zM253 552h3v5h-3zM263 552h4v5h-4zM291 552h3v5h-3zM308 552h3v5h-3zM125 557h4v4h-4zM173 557h4v4h-4zM225 557h4v4h-4zM256 557h4v4h-4zM322 557h3v4h-3zM160 561h7v5h-7zM191 561h3v5h-3zM198 561h3v5h-3zM208 561h3v5h-3zM236 561h3v5h-3zM291 561h3v5h-3zM308 561h7v5h-7zM325 561h4v5h-4zM122 566h3v4h-3zM129 566h3v4h-3zM142 566h4v4h-4zM198 566h3v4h-3zM211 566h4v4h-4zM222 566h3v4h-3zM236 566h3v4h-3zM270 566h4v4h-4zM284 566h3v4h-3zM342 566h1v4h-1zM111 570h4v5h-4zM163 570h4v5h-4zM177 570h3v5h-3zM229 570h3v5h-3zM249 570h4v5h-4zM301 570h4v5h-4zM108 575h3v4h-3zM256 575h4v4h-4zM318 575h4v4h-4zM184 579h3v5h-3zM294 579h4v5h-4zM315 579h7v5h-7zM111 584h4v5h-4zM122 584h3v5h-3zM129 584h3v5h-3zM163 584h4v5h-4zM194 584h4v5h-4zM215 584h3v5h-3zM242 584h4v5h-4zM277 584h7v5h-7zM136 589h3v4h-3zM156 589h4v4h-4zM177 589h3v4h-3zM218 589h4v4h-4zM232 589h4v4h-4zM242 589h4v4h-4zM277 589h3v4h-3zM163 593h4v5h-4zM246 593h3v5h-3zM291 593h3v5h-3zM305 593h3v5h-3zM311 593h4v5h-4zM336 593h3v5h-3zM101 598h3v4h-3zM139 598h7v4h-7zM187 598h4v4h-4zM198 598h3v4h-3zM236 598h6v4h-6zM249 598h4v4h-4zM260 598h3v4h-3zM270 598h4v4h-4zM298 598h3v4h-3zM325 598h4v4h-4zM108 602h3v5h-3zM115 602h3v5h-3zM132 602h4v5h-4zM149 602h4v5h-4zM173 602h4v5h-4zM253 602h14v5h-14zM280 602h11v5h-11zM129 607h3v4h-3zM146 607h7v4h-7zM232 607h4v4h-4zM253 607h3v4h-3zM325 607h4v4h-4zM332 607h4v4h-4zM149 611h4v2h-4zM170 611h3v2h-3zM180 611h4v2h-4zM198 611h3v2h-3zM215 611h3v2h-3zM284 611h3v2h-3zM325 611h4v2h-4z"/><path fill="#de0000" d="M136 369h3v1h-3zM177 369h3v1h-3zM256 369h4v1h-4zM170 370h3v4h-3zM191 370h3v4h-3zM274 370h3v4h-3zM284 370h3v4h-3zM118 374h4v5h-4zM129 374h7v5h-7zM198 374h3v5h-3zM315 374h3v5h-3zM101 379h3v5h-3zM108 379h3v5h-3zM115 379h3v5h-3zM129 379h3v5h-3zM229 379h3v5h-3zM242 379h4v5h-4zM325 379h4v5h-4zM104 384h4v4h-4zM139 384h3v4h-3zM160 384h3v4h-3zM173 384h4v4h-4zM236 384h3v4h-3zM256 384h4v4h-4zM125 388h4v5h-4zM187 388h4v5h-4zM249 388h4v5h-4zM284 388h3v5h-3zM101 393h3v4h-3zM115 393h3v4h-3zM249 393h4v4h-4zM256 393h4v4h-4zM101 397h3v5h-3zM111 397h4v5h-4zM167 397h3v5h-3zM229 397h3v5h-3zM108 402h3v4h-3zM129 402h3v4h-3zM208 402h7v4h-7zM218 402h4v4h-4zM253 402h3v4h-3zM108 406h3v5h-3zM163 406h4v5h-4zM246 406h3v5h-3zM256 406h4v5h-4zM277 406h3v5h-3zM136 411h6v4h-6zM167 411h3v4h-3zM180 411h4v4h-4zM225 411h4v4h-4zM246 411h3v4h-3zM260 411h3v4h-3zM111 415h4v5h-4zM122 415h3v5h-3zM191 415h3v5h-3zM322 415h3v5h-3zM98 420h3v5h-3zM132 420h4v5h-4zM142 420h14v5h-14zM194 420h4v5h-4zM218 420h4v5h-4zM98 425h3v4h-3zM111 425h4v4h-4zM118 425h4v4h-4zM194 425h4v4h-4zM218 425h4v4h-4zM256 425h4v4h-4zM274 425h6v4h-6zM118 429h4v5h-4zM232 429h4v5h-4zM142 434h4v4h-4zM153 434h3v4h-3zM167 434h3v4h-3zM173 434h4v4h-4zM232 434h4v4h-4zM267 434h3v4h-3zM305 434h3v4h-3zM325 434h4v4h-4zM332 434h4v4h-4zM242 438h4v5h-4zM308 438h7v5h-7zM318 438h4v5h-4zM342 438h1v5h-1zM118 443h4v4h-4zM149 443h4v4h-4zM167 443h3v4h-3zM191 443h3v4h-3zM222 443h3v4h-3zM329 443h3v4h-3zM136 447h3v5h-3zM184 447h3v5h-3zM201 447h3v5h-3zM236 447h3v5h-3zM329 447h3v5h-3zM111 452h4v4h-4zM204 452h4v4h-4zM298 452h3v4h-3zM318 452h7v4h-7zM129 456h3v5h-3zM229 456h3v5h-3zM277 456h3v5h-3zM336 456h3v5h-3zM108 461h3v5h-3zM225 461h4v5h-4zM267 461h3v5h-3zM280 461h4v5h-4zM311 461h4v5h-4zM180 466h4v4h-4zM194 466h4v4h-4zM277 466h3v4h-3zM305 466h3v4h-3zM315 466h3v4h-3zM139 470h3v5h-3zM156 470h7v5h-7zM180 470h7v5h-7zM225 470h4v5h-4zM284 470h3v5h-3zM201 475h3v4h-3zM329 475h3v4h-3zM160 479h3v5h-3zM191 479h3v5h-3zM204 479h4v5h-4zM249 479h4v5h-4zM256 479h4v5h-4zM270 479h4v5h-4zM104 484h4v4h-4zM115 484h3v4h-3zM177 484h3v4h-3zM222 484h3v4h-3zM253 484h3v4h-3zM129 488h3v5h-3zM160 488h3v5h-3zM308 488h3v5h-3zM329 488h3v5h-3zM129 493h3v4h-3zM142 493h4v4h-4zM222 493h7v4h-7zM339 493h3v4h-3zM204 497h4v5h-4zM236 497h3v5h-3zM267 497h7v5h-7zM284 497h3v5h-3zM325 502h4v5h-4zM108 507h3v4h-3zM118 507h4v4h-4zM132 507h4v4h-4zM194 507h4v4h-4zM267 507h3v4h-3zM318 507h4v4h-4zM125 511h4v5h-4zM167 511h3v5h-3zM177 511h3v5h-3zM191 511h3v5h-3zM246 511h3v5h-3zM111 516h4v4h-4zM132 516h4v4h-4zM167 516h3v4h-3zM208 516h3v4h-3zM222 516h3v4h-3zM270 516h4v4h-4zM208 520h3v5h-3zM291 520h3v5h-3zM146 525h3v4h-3zM184 525h3v4h-3zM211 525h4v4h-4zM291 525h3v4h-3zM336 525h3v4h-3zM136 529h3v5h-3zM132 534h4v4h-4zM229 534h3v4h-3zM256 534h4v4h-4zM284 534h3v4h-3zM170 538h3v5h-3zM222 538h7v5h-7zM277 538h3v5h-3zM284 538h3v5h-3zM101 543h7v5h-7zM122 543h3v5h-3zM198 543h3v5h-3zM236 543h3v5h-3zM246 543h3v5h-3zM108 548h3v4h-3zM153 548h3v4h-3zM211 548h4v4h-4zM229 548h3v4h-3zM253 548h3v4h-3zM191 552h3v5h-3zM232 552h4v5h-4zM270 552h4v5h-4zM111 557h4v4h-4zM132 557h4v4h-4zM201 557h3v4h-3zM232 557h4v4h-4zM291 557h3v4h-3zM118 561h4v5h-4zM153 561h3v5h-3zM170 561h3v5h-3zM204 561h4v5h-4zM239 561h7v5h-7zM260 561h3v5h-3zM332 561h4v5h-4zM342 561h1v5h-1zM170 566h3v4h-3zM184 566h3v4h-3zM170 570h3v5h-3zM198 570h3v5h-3zM218 570h4v5h-4zM239 570h3v5h-3zM267 570h3v5h-3zM291 570h3v5h-3zM115 575h3v4h-3zM249 575h4v4h-4zM274 575h3v4h-3zM125 579h4v5h-4zM139 579h3v5h-3zM204 579h4v5h-4zM225 579h4v5h-4zM287 579h4v5h-4zM322 579h3v5h-3zM339 579h3v5h-3zM167 584h3v5h-3zM187 584h4v5h-4zM204 584h4v5h-4zM222 584h3v5h-3zM291 584h3v5h-3zM342 584h1v5h-1zM163 589h4v4h-4zM173 589h4v4h-4zM184 589h3v4h-3zM270 589h4v4h-4zM315 589h3v4h-3zM101 593h3v5h-3zM201 593h3v5h-3zM218 593h4v5h-4zM232 593h4v5h-4zM256 593h4v5h-4zM263 593h4v5h-4zM277 593h3v5h-3zM156 598h4v4h-4zM208 598h3v4h-3zM101 602h7v5h-7zM218 602h4v5h-4zM229 602h3v5h-3zM246 602h3v5h-3zM267 602h3v5h-3zM111 607h4v4h-4zM136 607h6v4h-6zM163 607h4v4h-4zM184 607h3v4h-3zM225 607h4v4h-4zM274 607h3v4h-3zM298 607h10v4h-10zM322 607h3v4h-3zM125 611h4v2h-4zM132 611h4v2h-4zM142 611h4v2h-4zM163 611h4v2h-4zM236 611h3v2h-3zM253 611h7v2h-7zM277 611h7v2h-7zM305 611h3v2h-3z"/><path fill="#f40000" d="M129 370h3v4h-3zM198 370h3v4h-3zM108 374h3v5h-3zM149 374h4v5h-4zM218 374h4v5h-4zM277 374h3v5h-3zM173 379h4v5h-4zM236 379h3v5h-3zM339 379h3v5h-3zM184 384h3v4h-3zM246 384h3v4h-3zM270 384h4v4h-4zM332 384h4v4h-4zM122 388h3v5h-3zM280 388h4v5h-4zM132 393h4v4h-4zM218 393h4v4h-4zM342 393h1v4h-1zM118 397h4v5h-4zM139 397h3v5h-3zM187 397h4v5h-4zM291 397h7v5h-7zM156 402h4v4h-4zM201 402h3v4h-3zM270 402h4v4h-4zM170 406h3v5h-3zM184 406h3v5h-3zM194 411h4v4h-4zM229 411h3v4h-3zM263 411h4v4h-4zM149 415h4v5h-4zM160 415h7v5h-7zM194 415h4v5h-4zM280 415h4v5h-4zM339 415h3v5h-3zM184 420h3v5h-3zM277 420h3v5h-3zM284 420h3v5h-3zM167 425h3v4h-3zM218 429h4v5h-4zM287 429h4v5h-4zM170 434h3v4h-3zM101 438h3v5h-3zM101 443h3v4h-3zM260 443h3v4h-3zM311 443h4v4h-4zM318 443h4v4h-4zM101 447h3v5h-3zM298 447h3v5h-3zM101 452h3v4h-3zM139 452h3v4h-3zM294 452h4v4h-4zM311 452h4v4h-4zM198 456h3v5h-3zM339 456h3v5h-3zM98 461h3v5h-3zM139 461h3v5h-3zM298 461h3v5h-3zM215 466h3v4h-3zM287 466h4v4h-4zM142 475h4v4h-4zM204 475h4v4h-4zM111 479h4v5h-4zM132 484h4v4h-4zM125 488h4v5h-4zM156 488h4v5h-4zM211 488h4v5h-4zM98 493h3v4h-3zM325 493h4v4h-4zM101 497h3v5h-3zM136 497h3v5h-3zM156 502h4v5h-4zM253 502h3v5h-3zM287 502h4v5h-4zM311 502h4v5h-4zM104 507h4v4h-4zM184 507h3v4h-3zM336 507h3v4h-3zM115 511h3v5h-3zM187 516h4v4h-4zM194 516h4v4h-4zM115 520h3v5h-3zM136 520h3v5h-3zM177 520h3v5h-3zM187 520h4v5h-4zM287 520h4v5h-4zM115 525h3v4h-3zM239 525h3v4h-3zM277 525h3v4h-3zM146 529h3v5h-3zM274 534h3v4h-3zM104 538h4v5h-4zM153 538h3v5h-3zM332 538h4v5h-4zM225 543h4v5h-4zM342 543h1v5h-1zM101 548h3v4h-3zM322 548h3v4h-3zM108 552h3v5h-3zM218 552h4v5h-4zM229 552h3v5h-3zM267 552h3v5h-3zM294 552h4v5h-4zM118 557h7v4h-7zM191 557h3v4h-3zM204 557h4v4h-4zM149 561h4v5h-4zM167 561h3v5h-3zM249 561h4v5h-4zM256 561h4v5h-4zM101 566h3v4h-3zM191 566h3v4h-3zM204 566h4v4h-4zM308 566h3v4h-3zM125 570h4v5h-4zM149 570h4v5h-4zM211 570h7v5h-7zM246 570h3v5h-3zM187 575h4v4h-4zM242 575h4v4h-4zM115 579h3v5h-3zM180 579h4v5h-4zM229 579h3v5h-3zM260 579h3v5h-3zM332 579h4v5h-4zM139 584h3v5h-3zM236 584h3v5h-3zM246 584h3v5h-3zM256 584h4v5h-4zM301 584h4v5h-4zM108 589h3v4h-3zM191 589h3v4h-3zM239 589h3v4h-3zM260 589h3v4h-3zM325 589h4v4h-4zM332 589h4v4h-4zM139 593h3v5h-3zM160 593h3v5h-3zM129 598h3v4h-3zM184 598h3v4h-3zM163 602h7v5h-7zM249 602h4v5h-4zM329 602h3v5h-3zM280 607h4v4h-4zM294 607h4v4h-4zM173 611h4v2h-4z"/><path fill="#ff0b00" d="M253 369h3v1h-3zM291 369h3v1h-3zM115 374h3v5h-3zM146 374h3v5h-3zM215 374h3v5h-3zM298 374h7v5h-7zM318 374h4v5h-4zM329 374h3v5h-3zM253 379h3v5h-3zM332 379h7v5h-7zM125 384h4v4h-4zM132 388h4v5h-4zM146 388h3v5h-3zM160 388h3v5h-3zM139 393h3v4h-3zM160 393h7v4h-7zM270 393h4v4h-4zM284 393h3v4h-3zM298 393h3v4h-3zM305 393h10v4h-10zM115 397h3v5h-3zM201 397h3v5h-3zM236 397h3v5h-3zM280 397h4v5h-4zM325 397h4v5h-4zM149 402h4v4h-4zM160 402h3v4h-3zM298 402h3v4h-3zM318 402h4v4h-4zM325 402h4v4h-4zM339 402h3v4h-3zM146 406h3v5h-3zM215 406h3v5h-3zM284 406h3v5h-3zM322 406h7v5h-7zM98 411h3v4h-3zM115 411h3v4h-3zM146 411h3v4h-3zM339 411h3v4h-3zM108 415h3v5h-3zM239 415h3v5h-3zM115 420h3v5h-3zM287 420h4v5h-4zM294 420h4v5h-4zM201 425h3v4h-3zM232 425h4v4h-4zM267 425h3v4h-3zM284 425h3v4h-3zM222 429h3v5h-3zM246 429h3v5h-3zM111 434h4v4h-4zM236 434h3v4h-3zM263 434h4v4h-4zM256 438h4v5h-4zM232 443h4v4h-4zM267 443h3v4h-3zM305 443h3v4h-3zM246 447h3v5h-3zM305 447h3v5h-3zM198 452h3v4h-3zM242 452h4v4h-4zM118 456h4v5h-4zM156 456h4v5h-4zM208 456h3v5h-3zM239 456h3v5h-3zM236 461h3v5h-3zM160 466h3v4h-3zM184 466h3v4h-3zM98 470h3v5h-3zM104 470h4v5h-4zM249 475h4v4h-4zM294 475h4v4h-4zM167 479h3v5h-3zM342 479h1v5h-1zM208 484h3v4h-3zM329 484h3v4h-3zM136 488h3v5h-3zM173 488h4v5h-4zM305 488h3v5h-3zM342 488h1v5h-1zM118 493h4v4h-4zM305 497h3v5h-3zM339 497h4v5h-4zM342 502h1v5h-1zM218 507h4v4h-4zM284 507h3v4h-3zM277 516h3v4h-3zM170 520h3v5h-3zM184 520h3v5h-3zM191 525h3v4h-3zM294 525h4v4h-4zM305 525h3v4h-3zM104 529h4v5h-4zM229 529h3v5h-3zM246 529h3v5h-3zM177 534h3v4h-3zM225 534h4v4h-4zM260 534h3v4h-3zM249 538h4v5h-4zM153 543h3v5h-3zM201 543h3v5h-3zM270 543h4v5h-4zM129 548h10v4h-10zM201 552h3v5h-3zM242 552h4v5h-4zM129 557h3v4h-3zM142 557h4v4h-4zM122 561h3v5h-3zM180 561h4v5h-4zM104 566h4v4h-4zM153 566h3v4h-3zM215 566h3v4h-3zM232 566h4v4h-4zM325 566h4v4h-4zM160 570h3v5h-3zM274 570h3v5h-3zM111 575h4v4h-4zM149 575h4v4h-4zM198 575h3v4h-3zM122 579h3v5h-3zM142 579h4v5h-4zM236 579h3v5h-3zM201 584h3v5h-3zM239 584h3v5h-3zM104 589h4v4h-4zM118 589h4v4h-4zM204 589h4v4h-4zM308 589h3v4h-3zM191 593h3v5h-3zM108 598h3v4h-3zM280 598h4v4h-4zM308 598h3v4h-3zM315 598h3v4h-3zM204 602h4v5h-4zM239 602h3v5h-3zM201 607h3v4h-3zM101 611h3v2h-3zM274 611h3v2h-3z"/><path fill="#ff2100" d="M332 369h4v1h-4zM236 370h3v4h-3zM301 370h7v4h-7zM156 374h4v5h-4zM187 374h4v5h-4zM305 374h3v5h-3zM325 374h4v5h-4zM225 379h4v5h-4zM291 384h3v4h-3zM308 384h3v4h-3zM315 384h3v4h-3zM329 384h3v4h-3zM298 388h3v5h-3zM318 388h4v5h-4zM342 397h1v5h-1zM108 411h3v4h-3zM122 425h3v4h-3zM153 425h3v4h-3zM198 425h3v4h-3zM111 429h4v5h-4zM122 429h3v5h-3zM118 434h4v4h-4zM329 434h3v4h-3zM211 438h4v5h-4zM342 443h1v4h-1zM198 461h3v5h-3zM246 470h3v5h-3zM225 475h4v4h-4zM225 484h4v4h-4zM277 497h3v5h-3zM305 520h3v5h-3zM256 525h4v4h-4zM329 534h3v4h-3zM305 552h3v5h-3zM173 579h4v5h-4zM101 584h3v5h-3zM267 584h3v5h-3zM218 598h4v4h-4z"/><path fill="#ff3700" d="M173 369h4v1h-4zM322 369h3v1h-3zM339 369h3v1h-3zM98 370h3v4h-3zM315 370h3v4h-3zM329 370h3v4h-3zM294 374h4v5h-4zM336 374h3v5h-3zM305 379h3v5h-3zM318 379h4v5h-4zM294 388h4v5h-4zM308 388h3v5h-3zM339 388h3v5h-3zM287 393h4v4h-4zM298 397h3v5h-3zM305 397h3v5h-3zM322 402h3v4h-3zM329 402h3v4h-3zM225 406h4v5h-4zM305 406h3v5h-3zM336 406h6v5h-6zM180 415h4v5h-4zM108 429h3v5h-3zM173 438h4v5h-4zM229 443h3v4h-3zM274 447h3v5h-3zM270 452h4v4h-4zM242 456h4v5h-4zM136 461h3v5h-3zM246 461h3v5h-3zM229 466h3v4h-3zM249 466h4v4h-4zM222 470h3v5h-3zM198 475h3v4h-3zM115 479h3v5h-3zM132 479h4v5h-4zM191 484h3v4h-3zM187 488h4v5h-4zM218 488h4v5h-4zM322 488h3v5h-3zM180 497h4v5h-4zM187 497h4v5h-4zM291 497h3v5h-3zM215 502h3v5h-3zM239 507h3v4h-3zM142 511h4v5h-4zM232 516h4v4h-4zM118 525h4v4h-4zM332 525h4v4h-4zM101 529h3v5h-3zM98 534h3v4h-3zM170 548h3v4h-3zM187 548h4v4h-4zM242 548h4v4h-4zM325 557h4v4h-4zM194 566h4v4h-4zM311 570h4v5h-4zM153 579h3v5h-3zM329 579h3v5h-3zM194 598h4v4h-4zM194 611h4v2h-4z"/><path fill="#ff4e00" d="M122 374h3v5h-3zM291 374h3v5h-3zM294 379h4v5h-4zM336 388h3v5h-3zM294 393h4v4h-4zM322 397h3v5h-3zM170 411h3v4h-3zM287 425h4v4h-4zM274 438h3v5h-3zM280 447h4v5h-4zM267 456h3v5h-3zM232 461h4v5h-4zM256 461h4v5h-4zM232 466h4v4h-4zM267 466h3v4h-3zM229 470h3v5h-3zM222 475h3v4h-3zM229 475h7v4h-7zM215 484h3v4h-3zM184 488h3v5h-3zM177 502h3v5h-3zM153 507h3v4h-3zM274 507h6v4h-6zM139 511h3v5h-3zM149 511h4v5h-4zM218 516h4v4h-4zM229 520h3v5h-3zM111 525h4v4h-4zM139 525h3v4h-3zM204 529h4v5h-4zM225 529h4v5h-4zM115 534h7v4h-7zM215 534h3v4h-3zM184 538h3v5h-3zM101 557h3v4h-3zM122 589h3v4h-3zM263 598h4v4h-4z"/><path fill="#ff6400" d="M260 447h3v5h-3zM274 452h3v4h-3zM225 466h4v4h-4zM191 488h3v5h-3zM198 493h3v4h-3zM170 507h3v4h-3zM222 520h3v5h-3zM191 538h7v5h-7zM167 548h3v4h-3zM177 548h3v4h-3z"/><path fill="#ffbc00" d="M125 415h4v5h-4zM242 420h4v5h-4zM184 429h3v5h-3zM104 466h4v4h-4zM246 466h3v4h-3zM122 502h3v5h-3zM163 538h4v5h-4zM308 557h3v4h-3zM236 589h3v4h-3z"/><path fill="#ffd300" d="M194 393h4v4h-4zM118 402h4v4h-4zM215 402h3v4h-3zM336 402h3v4h-3zM329 406h3v5h-3zM253 420h3v5h-3zM146 434h3v4h-3zM239 434h7v4h-7zM270 434h4v4h-4zM239 438h3v5h-3zM139 443h3v4h-3zM156 443h4v4h-4zM118 447h4v5h-4zM336 447h3v5h-3zM246 452h3v4h-3zM111 493h4v4h-4zM298 493h3v4h-3zM218 497h4v5h-4zM104 502h4v5h-4zM280 502h4v5h-4zM336 511h3v5h-3zM204 520h4v5h-4zM184 529h3v5h-3zM236 548h3v4h-3zM318 557h4v4h-4zM336 557h3v4h-3zM246 561h3v5h-3zM298 561h3v5h-3zM336 561h3v5h-3zM163 566h4v4h-4zM339 575h3v4h-3zM177 611h3v2h-3z"/><path fill="#ffe900" d="M342 370h1v4h-1zM108 384h3v4h-3zM294 402h4v4h-4zM308 406h3v5h-3zM222 411h3v4h-3zM294 411h4v4h-4zM308 411h3v4h-3zM329 411h3v4h-3zM298 415h3v5h-3zM305 415h13v5h-13zM325 415h7v5h-7zM111 420h4v5h-4zM298 420h13v5h-13zM315 420h3v5h-3zM322 420h10v5h-10zM294 425h4v4h-4zM301 425h4v4h-4zM315 425h7v4h-7zM298 429h7v5h-7zM318 429h4v5h-4zM284 434h3v4h-3zM122 438h3v5h-3zM280 438h4v5h-4zM274 443h10v4h-10zM291 443h3v4h-3zM177 447h3v5h-3zM194 447h4v5h-4zM267 447h3v5h-3zM311 447h4v5h-4zM253 456h7v5h-7zM239 461h3v5h-3zM239 466h7v4h-7zM322 466h3v4h-3zM339 466h3v4h-3zM191 470h3v5h-3zM232 470h7v5h-7zM315 470h3v5h-3zM325 470h7v5h-7zM218 475h4v4h-4zM308 475h3v4h-3zM332 475h4v4h-4zM215 479h7v5h-7zM260 479h3v5h-3zM298 479h3v5h-3zM305 479h3v5h-3zM311 479h4v5h-4zM329 479h7v5h-7zM298 484h3v4h-3zM305 484h3v4h-3zM322 484h7v4h-7zM118 488h4v5h-4zM198 488h6v5h-6zM284 488h10v5h-10zM298 488h7v5h-7zM184 493h3v4h-3zM194 493h4v4h-4zM280 493h4v4h-4zM104 497h4v5h-4zM173 497h4v5h-4zM256 497h4v5h-4zM139 502h3v5h-3zM167 502h3v5h-3zM204 502h4v5h-4zM246 502h3v5h-3zM256 502h7v5h-7zM246 507h3v4h-3zM253 507h3v4h-3zM260 507h3v4h-3zM294 507h4v4h-4zM305 507h3v4h-3zM311 507h4v4h-4zM156 511h11v5h-11zM239 511h3v5h-3zM249 511h4v5h-4zM267 511h20v5h-20zM294 511h4v5h-4zM301 511h7v5h-7zM311 511h11v5h-11zM146 516h3v4h-3zM260 516h3v4h-3zM274 516h3v4h-3zM280 516h18v4h-18zM301 516h7v4h-7zM315 516h3v4h-3zM332 516h11v4h-11zM125 520h7v5h-7zM232 520h4v5h-4zM239 520h3v5h-3zM249 520h11v5h-11zM267 520h7v5h-7zM284 520h3v5h-3zM294 520h7v5h-7zM308 520h3v5h-3zM332 520h7v5h-7zM122 525h3v4h-3zM242 525h4v4h-4zM118 529h4v5h-4zM208 529h3v5h-3zM215 529h3v5h-3zM287 529h4v5h-4zM294 529h28v5h-28zM111 534h4v4h-4zM198 534h3v4h-3zM204 534h4v4h-4zM287 534h7v4h-7zM298 534h7v4h-7zM308 534h3v4h-3zM315 534h3v4h-3zM339 534h3v4h-3zM287 538h7v5h-7zM298 538h7v5h-7zM308 538h7v5h-7zM318 538h4v5h-4zM336 538h6v5h-6zM180 543h4v5h-4zM187 543h4v5h-4zM267 543h3v5h-3zM291 543h3v5h-3zM305 543h3v5h-3zM318 543h4v5h-4zM336 543h3v5h-3zM173 548h4v4h-4zM263 548h4v4h-4zM305 548h3v4h-3zM311 548h4v4h-4zM318 548h4v4h-4zM332 548h4v4h-4zM339 548h3v4h-3zM280 552h7v5h-7zM339 561h3v5h-3zM242 570h4v5h-4zM305 584h3v5h-3zM153 589h3v4h-3zM167 589h3v4h-3zM294 589h4v4h-4zM115 598h3v4h-3z"/><path fill="#ffff00" d="M129 369h3v1h-3zM342 384h1v4h-1zM115 388h3v5h-3zM184 388h3v5h-3zM287 402h4v4h-4zM298 411h7v4h-7zM301 415h4v5h-4zM318 415h4v5h-4zM311 420h4v5h-4zM318 420h4v5h-4zM208 425h3v4h-3zM291 425h3v4h-3zM298 425h3v4h-3zM305 425h10v4h-10zM322 425h7v4h-7zM291 429h7v5h-7zM305 429h3v5h-3zM315 429h3v5h-3zM177 434h3v4h-3zM301 434h4v4h-4zM232 438h4v5h-4zM267 438h3v5h-3zM284 438h7v5h-7zM284 443h7v4h-7zM260 452h3v4h-3zM136 456h3v5h-3zM253 461h3v5h-3zM236 466h3v4h-3zM336 466h3v4h-3zM342 466h1v4h-1zM311 470h4v5h-4zM318 470h7v5h-7zM332 470h11v5h-11zM315 475h7v4h-7zM325 475h4v4h-4zM336 475h3v4h-3zM156 479h4v5h-4zM291 479h7v5h-7zM308 479h3v5h-3zM315 479h7v5h-7zM325 479h4v5h-4zM153 484h3v4h-3zM287 484h11v4h-11zM301 484h4v4h-4zM308 484h14v4h-14zM139 488h3v5h-3zM204 488h4v5h-4zM177 493h7v4h-7zM191 493h3v4h-3zM260 497h3v5h-3zM170 502h3v5h-3zM249 502h4v5h-4zM149 507h4v4h-4zM256 507h4v4h-4zM280 507h4v4h-4zM287 507h7v4h-7zM298 507h7v4h-7zM153 511h3v5h-3zM236 511h3v5h-3zM242 511h4v5h-4zM253 511h14v5h-14zM287 511h7v5h-7zM298 511h3v5h-3zM308 511h3v5h-3zM322 511h3v5h-3zM339 511h3v5h-3zM136 516h3v4h-3zM149 516h4v4h-4zM236 516h24v4h-24zM263 516h7v4h-7zM298 516h3v4h-3zM308 516h7v4h-7zM318 516h7v4h-7zM132 520h4v5h-4zM139 520h3v5h-3zM236 520h3v5h-3zM242 520h7v5h-7zM263 520h4v5h-4zM274 520h3v5h-3zM280 520h4v5h-4zM311 520h11v5h-11zM225 525h4v4h-4zM270 525h4v4h-4zM111 529h7v5h-7zM211 529h4v5h-4zM218 529h4v5h-4zM291 529h3v5h-3zM339 529h3v5h-3zM104 534h4v4h-4zM201 534h3v4h-3zM294 534h4v4h-4zM305 534h3v4h-3zM311 534h4v4h-4zM318 534h4v4h-4zM332 534h7v4h-7zM187 538h4v5h-4zM198 538h3v5h-3zM294 538h4v5h-4zM305 538h3v5h-3zM315 538h3v5h-3zM184 543h3v5h-3zM274 543h6v5h-6zM294 543h11v5h-11zM308 543h10v5h-10zM332 543h4v5h-4zM339 543h3v5h-3zM291 548h7v4h-7zM301 548h4v4h-4zM308 548h3v4h-3zM311 557h4v4h-4zM198 579h3v5h-3zM191 584h3v5h-3zM129 589h3v4h-3zM311 589h4v4h-4zM291 611h3v2h-3z"/></g>
<g shape-rendering="crispEdges"><path fill="#000000" d="M457 370h4v1h-4zM478 370h7v1h-7zM492 370h7v1h-7zM510 370h3v1h-3zM520 370h8v1h-8zM549 370h7v1h-7zM559 370h4v1h-4zM566 370h4v1h-4zM580 370h4v1h-4zM594 370h4v1h-4zM622 370h4v1h-4zM450 371h4v5h-4zM461 371h14v5h-14zM503 371h3v5h-3zM510 371h3v5h-3zM524 371h4v5h-4zM535 371h3v5h-3zM566 371h4v5h-4zM591 371h3v5h-3zM450 376h7v4h-7zM461 376h3v4h-3zM471 376h4v4h-4zM478 376h7v4h-7zM496 376h10v4h-10zM510 376h3v4h-3zM528 376h3v4h-3zM549 376h3v4h-3zM559 376h11v4h-11zM577 376h3v4h-3zM584 376h3v4h-3zM605 376h3v4h-3zM612 376h14v4h-14zM629 376h4v4h-4zM650 376h4v4h-4zM454 380h7v5h-7zM464 380h4v5h-4zM485 380h4v5h-4zM524 380h4v5h-4zM542 380h3v5h-3zM556 380h3v5h-3zM570 380h7v5h-7zM598 380h7v5h-7zM608 380h11v5h-11zM626 380h3v5h-3zM671 380h4v5h-4zM450 385h4v5h-4zM457 385h4v5h-4zM475 385h3v5h-3zM492 385h4v5h-4zM499 385h7v5h-7zM535 385h3v5h-3zM545 385h7v5h-7zM556 385h7v5h-7zM580 385h4v5h-4zM612 385h7v5h-7zM640 385h3v5h-3zM450 390h4v4h-4zM457 390h7v4h-7zM489 390h3v4h-3zM506 390h7v4h-7zM535 390h10v4h-10zM552 390h4v4h-4zM559 390h4v4h-4zM573 390h4v4h-4zM591 390h3v4h-3zM598 390h3v4h-3zM608 390h7v4h-7zM633 390h3v4h-3zM640 390h3v4h-3zM457 394h7v5h-7zM468 394h3v5h-3zM482 394h3v5h-3zM496 394h3v5h-3zM503 394h3v5h-3zM510 394h3v5h-3zM517 394h3v5h-3zM531 394h4v5h-4zM538 394h7v5h-7zM549 394h3v5h-3zM559 394h7v5h-7zM580 394h11v5h-11zM608 394h11v5h-11zM461 399h3v4h-3zM489 399h3v4h-3zM496 399h7v4h-7zM513 399h4v4h-4zM520 399h4v4h-4zM535 399h3v4h-3zM542 399h7v4h-7zM626 399h3v4h-3zM657 399h4v4h-4zM457 403h11v5h-11zM492 403h4v5h-4zM499 403h4v5h-4zM510 403h7v5h-7zM531 403h4v5h-4zM552 403h4v5h-4zM566 403h4v5h-4zM577 403h3v5h-3zM587 403h4v5h-4zM594 403h4v5h-4zM605 403h7v5h-7zM619 403h3v5h-3zM643 403h7v5h-7zM454 408h3v4h-3zM461 408h3v4h-3zM471 408h4v4h-4zM489 408h3v4h-3zM496 408h3v4h-3zM528 408h3v4h-3zM545 408h4v4h-4zM573 408h4v4h-4zM636 408h4v4h-4zM647 408h3v4h-3zM454 412h3v5h-3zM461 412h7v5h-7zM482 412h7v5h-7zM499 412h4v5h-4zM535 412h3v5h-3zM570 412h3v5h-3zM584 412h3v5h-3zM598 412h3v5h-3zM633 412h3v5h-3zM647 412h3v5h-3zM654 412h7v5h-7zM454 417h3v4h-3zM468 417h3v4h-3zM475 417h3v4h-3zM489 417h3v4h-3zM503 417h3v4h-3zM510 417h3v4h-3zM520 417h4v4h-4zM528 417h3v4h-3zM580 417h4v4h-4zM591 417h3v4h-3zM601 417h4v4h-4zM619 417h3v4h-3zM633 417h3v4h-3zM647 417h3v4h-3zM450 421h4v5h-4zM457 421h4v5h-4zM468 421h3v5h-3zM475 421h7v5h-7zM485 421h4v5h-4zM499 421h4v5h-4zM506 421h4v5h-4zM513 421h7v5h-7zM524 421h7v5h-7zM549 421h3v5h-3zM556 421h3v5h-3zM563 421h3v5h-3zM573 421h4v5h-4zM580 421h4v5h-4zM594 421h7v5h-7zM608 421h4v5h-4zM615 421h4v5h-4zM640 421h3v5h-3zM650 421h4v5h-4zM471 426h18v5h-18zM517 426h11v5h-11zM531 426h4v5h-4zM549 426h7v5h-7zM636 426h4v5h-4zM643 426h7v5h-7zM454 431h3v4h-3zM485 431h11v4h-11zM499 431h4v4h-4zM510 431h3v4h-3zM517 431h3v4h-3zM528 431h3v4h-3zM556 431h3v4h-3zM605 431h3v4h-3zM622 431h4v4h-4zM650 431h4v4h-4zM450 435h4v5h-4zM503 435h3v5h-3zM517 435h3v5h-3zM524 435h4v5h-4zM545 435h4v5h-4zM552 435h7v5h-7zM471 440h7v4h-7zM489 440h3v4h-3zM499 440h11v4h-11zM513 440h7v4h-7zM524 440h4v4h-4zM552 440h4v4h-4zM570 440h7v4h-7zM608 440h7v4h-7zM457 444h7v5h-7zM468 444h3v5h-3zM485 444h4v5h-4zM506 444h7v5h-7zM524 444h4v5h-4zM531 444h7v5h-7zM549 444h7v5h-7zM591 444h7v5h-7zM605 444h3v5h-3zM612 444h3v5h-3zM629 444h4v5h-4zM643 444h4v5h-4zM661 444h3v5h-3zM461 449h3v4h-3zM482 449h7v4h-7zM513 449h4v4h-4zM524 449h4v4h-4zM542 449h3v4h-3zM552 449h7v4h-7zM601 449h7v4h-7zM622 449h4v4h-4zM629 449h7v4h-7zM657 449h4v4h-4zM689 449h3v4h-3zM454 453h3v5h-3zM461 453h3v5h-3zM485 453h4v5h-4zM496 453h7v5h-7zM506 453h4v5h-4zM513 453h15v5h-15zM531 453h4v5h-4zM542 453h3v5h-3zM563 453h3v5h-3zM584 453h3v5h-3zM605 453h3v5h-3zM622 453h4v5h-4zM633 453h7v5h-7zM647 453h3v5h-3zM457 458h7v4h-7zM475 458h3v4h-3zM482 458h3v4h-3zM489 458h7v4h-7zM510 458h7v4h-7zM531 458h7v4h-7zM542 458h3v4h-3zM580 458h7v4h-7zM598 458h7v4h-7zM612 458h3v4h-3zM626 458h14v4h-14zM657 458h4v4h-4zM671 458h4v4h-4zM475 462h3v5h-3zM482 462h7v5h-7zM503 462h3v5h-3zM528 462h3v5h-3zM563 462h3v5h-3zM577 462h7v5h-7zM587 462h4v5h-4zM608 462h11v5h-11zM636 462h4v5h-4zM654 462h3v5h-3zM454 467h7v5h-7zM471 467h4v5h-4zM478 467h4v5h-4zM506 467h4v5h-4zM513 467h7v5h-7zM566 467h4v5h-4zM577 467h7v5h-7zM605 467h7v5h-7zM622 467h4v5h-4zM629 467h4v5h-4zM636 467h4v5h-4zM654 467h3v5h-3zM464 472h4v4h-4zM471 472h4v4h-4zM489 472h3v4h-3zM499 472h7v4h-7zM513 472h7v4h-7zM552 472h4v4h-4zM559 472h4v4h-4zM570 472h3v4h-3zM580 472h7v4h-7zM591 472h3v4h-3zM601 472h4v4h-4zM619 472h7v4h-7zM636 472h4v4h-4zM657 472h4v4h-4zM664 472h4v4h-4zM671 472h4v4h-4zM464 476h11v5h-11zM489 476h3v5h-3zM531 476h4v5h-4zM549 476h7v5h-7zM566 476h4v5h-4zM580 476h4v5h-4zM587 476h7v5h-7zM601 476h4v5h-4zM615 476h4v5h-4zM629 476h4v5h-4zM636 476h4v5h-4zM661 476h7v5h-7zM475 481h7v4h-7zM503 481h3v4h-3zM520 481h4v4h-4zM531 481h7v4h-7zM542 481h3v4h-3zM563 481h3v4h-3zM570 481h3v4h-3zM591 481h14v4h-14zM612 481h3v4h-3zM640 481h3v4h-3zM464 485h4v5h-4zM471 485h4v5h-4zM478 485h7v5h-7zM513 485h4v5h-4zM520 485h4v5h-4zM531 485h7v5h-7zM587 485h4v5h-4zM598 485h7v5h-7zM615 485h4v5h-4zM622 485h4v5h-4zM636 485h7v5h-7zM461 490h3v4h-3zM475 490h3v4h-3zM485 490h4v4h-4zM513 490h4v4h-4zM538 490h4v4h-4zM559 490h4v4h-4zM584 490h3v4h-3zM594 490h4v4h-4zM601 490h4v4h-4zM608 490h4v4h-4zM640 490h3v4h-3zM654 490h3v4h-3zM464 494h7v5h-7zM482 494h3v5h-3zM503 494h3v5h-3zM528 494h7v5h-7zM587 494h4v5h-4zM605 494h3v5h-3zM615 494h4v5h-4zM633 494h3v5h-3zM640 494h3v5h-3zM450 499h4v4h-4zM457 499h7v4h-7zM492 499h4v4h-4zM510 499h3v4h-3zM517 499h3v4h-3zM528 499h3v4h-3zM545 499h4v4h-4zM552 499h4v4h-4zM559 499h7v4h-7zM594 499h4v4h-4zM612 499h3v4h-3zM499 503h4v5h-4zM517 503h3v5h-3zM528 503h10v5h-10zM559 503h4v5h-4zM566 503h14v5h-14zM584 503h7v5h-7zM594 503h7v5h-7zM605 503h7v5h-7zM464 508h7v5h-7zM478 508h4v5h-4zM485 508h7v5h-7zM503 508h14v5h-14zM528 508h7v5h-7zM549 508h3v5h-3zM559 508h4v5h-4zM566 508h4v5h-4zM584 508h10v5h-10zM598 508h3v5h-3zM664 508h4v5h-4zM671 508h4v5h-4zM461 513h3v4h-3zM478 513h4v4h-4zM489 513h14v4h-14zM535 513h3v4h-3zM542 513h3v4h-3zM549 513h3v4h-3zM577 513h3v4h-3zM587 513h4v4h-4zM605 513h10v4h-10zM657 513h4v4h-4zM461 517h3v5h-3zM468 517h3v5h-3zM478 517h7v5h-7zM489 517h3v5h-3zM499 517h4v5h-4zM506 517h4v5h-4zM517 517h3v5h-3zM528 517h10v5h-10zM542 517h3v5h-3zM552 517h4v5h-4zM566 517h7v5h-7zM577 517h3v5h-3zM591 517h7v5h-7zM605 517h3v5h-3zM612 517h3v5h-3zM640 517h3v5h-3zM664 517h7v5h-7zM678 517h4v5h-4zM454 522h3v4h-3zM468 522h3v4h-3zM485 522h4v4h-4zM503 522h3v4h-3zM517 522h11v4h-11zM531 522h4v4h-4zM542 522h3v4h-3zM549 522h3v4h-3zM563 522h10v4h-10zM577 522h3v4h-3zM587 522h4v4h-4zM633 522h3v4h-3zM643 522h4v4h-4zM654 522h3v4h-3zM671 522h7v4h-7zM457 526h4v5h-4zM464 526h4v5h-4zM471 526h7v5h-7zM482 526h7v5h-7zM506 526h4v5h-4zM520 526h11v5h-11zM538 526h4v5h-4zM556 526h7v5h-7zM570 526h3v5h-3zM580 526h4v5h-4zM608 526h7v5h-7zM619 526h7v5h-7zM633 526h7v5h-7zM650 526h4v5h-4zM661 526h3v5h-3zM668 526h7v5h-7zM682 526h3v5h-3zM461 531h10v4h-10zM485 531h4v4h-4zM510 531h7v4h-7zM524 531h4v4h-4zM549 531h10v4h-10zM563 531h3v4h-3zM570 531h3v4h-3zM608 531h4v4h-4zM629 531h7v4h-7zM643 531h4v4h-4zM654 531h3v4h-3zM671 531h4v4h-4zM678 531h4v4h-4zM692 531h4v4h-4zM461 535h3v5h-3zM478 535h4v5h-4zM489 535h7v5h-7zM535 535h3v5h-3zM563 535h7v5h-7zM598 535h7v5h-7zM615 535h4v5h-4zM629 535h4v5h-4zM636 535h4v5h-4zM654 535h7v5h-7zM664 535h11v5h-11zM682 535h7v5h-7zM692 535h4v5h-4zM450 540h4v4h-4zM457 540h4v4h-4zM464 540h4v4h-4zM471 540h4v4h-4zM496 540h3v4h-3zM538 540h4v4h-4zM549 540h7v4h-7zM594 540h4v4h-4zM601 540h4v4h-4zM622 540h4v4h-4zM629 540h7v4h-7zM654 540h3v4h-3zM668 540h3v4h-3zM675 540h10v4h-10zM692 540h4v4h-4zM454 544h7v5h-7zM468 544h3v5h-3zM475 544h3v5h-3zM482 544h7v5h-7zM513 544h4v5h-4zM520 544h8v5h-8zM552 544h4v5h-4zM573 544h7v5h-7zM612 544h3v5h-3zM619 544h7v5h-7zM640 544h7v5h-7zM654 544h3v5h-3zM664 544h4v5h-4zM675 544h3v5h-3zM682 544h3v5h-3zM457 549h4v5h-4zM468 549h3v5h-3zM475 549h3v5h-3zM506 549h4v5h-4zM542 549h3v5h-3zM552 549h4v5h-4zM615 549h7v5h-7zM629 549h4v5h-4zM647 549h7v5h-7zM682 549h3v5h-3zM450 554h4v4h-4zM464 554h4v4h-4zM471 554h11v4h-11zM485 554h4v4h-4zM496 554h3v4h-3zM524 554h4v4h-4zM556 554h3v4h-3zM563 554h3v4h-3zM570 554h3v4h-3zM577 554h7v4h-7zM591 554h3v4h-3zM626 554h3v4h-3zM636 554h4v4h-4zM643 554h4v4h-4zM678 554h7v4h-7zM464 558h4v5h-4zM482 558h3v5h-3zM496 558h7v5h-7zM506 558h7v5h-7zM542 558h7v5h-7zM552 558h4v5h-4zM559 558h4v5h-4zM566 558h4v5h-4zM594 558h11v5h-11zM619 558h3v5h-3zM626 558h3v5h-3zM633 558h3v5h-3zM643 558h14v5h-14zM661 558h7v5h-7zM671 558h4v5h-4zM457 563h4v4h-4zM468 563h7v4h-7zM478 563h4v4h-4zM489 563h7v4h-7zM535 563h3v4h-3zM552 563h7v4h-7zM566 563h4v4h-4zM573 563h4v4h-4zM580 563h4v4h-4zM587 563h14v4h-14zM608 563h4v4h-4zM619 563h3v4h-3zM626 563h3v4h-3zM650 563h4v4h-4zM657 563h4v4h-4zM675 563h3v4h-3zM450 567h11v5h-11zM468 567h7v5h-7zM531 567h4v5h-4zM549 567h10v5h-10zM566 567h4v5h-4zM577 567h7v5h-7zM591 567h3v5h-3zM598 567h3v5h-3zM629 567h7v5h-7zM643 567h7v5h-7zM675 567h3v5h-3zM685 567h7v5h-7zM461 572h7v4h-7zM524 572h4v4h-4zM545 572h4v4h-4zM570 572h3v4h-3zM577 572h3v4h-3zM591 572h3v4h-3zM612 572h3v4h-3zM619 572h3v4h-3zM647 572h3v4h-3zM661 572h3v4h-3zM668 572h7v4h-7zM685 572h4v4h-4zM457 576h4v5h-4zM471 576h4v5h-4zM496 576h3v5h-3zM517 576h3v5h-3zM531 576h4v5h-4zM538 576h4v5h-4zM559 576h4v5h-4zM580 576h4v5h-4zM591 576h3v5h-3zM598 576h3v5h-3zM615 576h4v5h-4zM622 576h7v5h-7zM633 576h7v5h-7zM643 576h7v5h-7zM661 576h14v5h-14zM692 576h4v5h-4zM450 581h4v4h-4zM499 581h4v4h-4zM513 581h4v4h-4zM542 581h3v4h-3zM573 581h7v4h-7zM601 581h4v4h-4zM622 581h4v4h-4zM643 581h4v4h-4zM657 581h4v4h-4zM668 581h10v4h-10zM682 581h3v4h-3zM457 585h4v5h-4zM475 585h3v5h-3zM482 585h3v5h-3zM503 585h3v5h-3zM520 585h4v5h-4zM535 585h3v5h-3zM545 585h4v5h-4zM570 585h10v5h-10zM584 585h3v5h-3zM591 585h7v5h-7zM605 585h7v5h-7zM615 585h4v5h-4zM626 585h3v5h-3zM668 585h7v5h-7zM678 585h4v5h-4zM471 590h4v4h-4zM482 590h7v4h-7zM503 590h3v4h-3zM520 590h4v4h-4zM549 590h3v4h-3zM563 590h3v4h-3zM570 590h3v4h-3zM577 590h3v4h-3zM584 590h3v4h-3zM591 590h3v4h-3zM601 590h4v4h-4zM468 594h7v5h-7zM478 594h4v5h-4zM535 594h7v5h-7zM580 594h4v5h-4zM591 594h3v5h-3zM612 594h7v5h-7zM654 594h3v5h-3zM671 594h4v5h-4zM685 594h4v5h-4zM464 599h4v5h-4zM471 599h7v5h-7zM520 599h8v5h-8zM552 599h4v5h-4zM573 599h4v5h-4zM601 599h7v5h-7zM619 599h3v5h-3zM640 599h3v5h-3zM654 599h3v5h-3zM668 599h3v5h-3zM692 599h4v5h-4zM464 604h7v4h-7zM475 604h3v4h-3zM485 604h4v4h-4zM492 604h4v4h-4zM528 604h10v4h-10zM542 604h3v4h-3zM549 604h10v4h-10zM577 604h3v4h-3zM598 604h3v4h-3zM605 604h10v4h-10zM622 604h7v4h-7zM633 604h3v4h-3zM654 604h7v4h-7zM675 604h3v4h-3zM689 604h3v4h-3zM450 608h4v5h-4zM464 608h4v5h-4zM475 608h3v5h-3zM524 608h7v5h-7zM535 608h7v5h-7zM545 608h4v5h-4zM552 608h4v5h-4zM559 608h7v5h-7zM573 608h21v5h-21zM615 608h7v5h-7zM654 608h3v5h-3zM664 608h4v5h-4zM675 608h3v5h-3zM685 608h4v5h-4zM692 608h4v5h-4zM450 613h4v2h-4zM461 613h3v2h-3zM475 613h3v2h-3zM492 613h4v2h-4zM503 613h3v2h-3zM510 613h3v2h-3zM520 613h8v2h-8zM531 613h4v2h-4zM549 613h3v2h-3zM573 613h4v2h-4zM587 613h4v2h-4zM612 613h3v2h-3zM633 613h3v2h-3zM650 613h7v2h-7zM671 613h4v2h-4z"/><path fill="#160000" d="M450 370h4v1h-4zM461 370h3v1h-3zM468 370h3v1h-3zM475 370h3v1h-3zM489 370h3v1h-3zM513 370h7v1h-7zM535 370h3v1h-3zM545 370h4v1h-4zM556 370h3v1h-3zM563 370h3v1h-3zM570 370h7v1h-7zM584 370h10v1h-10zM598 370h3v1h-3zM605 370h3v1h-3zM615 370h7v1h-7zM626 370h10v1h-10zM457 371h4v5h-4zM475 371h7v5h-7zM489 371h3v5h-3zM496 371h7v5h-7zM517 371h7v5h-7zM538 371h11v5h-11zM552 371h14v5h-14zM577 371h3v5h-3zM584 371h3v5h-3zM605 371h3v5h-3zM619 371h3v5h-3zM626 371h3v5h-3zM633 371h10v5h-10zM457 376h4v4h-4zM464 376h7v4h-7zM485 376h7v4h-7zM517 376h7v4h-7zM531 376h7v4h-7zM545 376h4v4h-4zM552 376h4v4h-4zM570 376h3v4h-3zM580 376h4v4h-4zM587 376h4v4h-4zM601 376h4v4h-4zM608 376h4v4h-4zM640 376h3v4h-3zM461 380h3v5h-3zM468 380h10v5h-10zM489 380h3v5h-3zM496 380h10v5h-10zM510 380h3v5h-3zM531 380h11v5h-11zM545 380h7v5h-7zM559 380h7v5h-7zM587 380h11v5h-11zM605 380h3v5h-3zM622 380h4v5h-4zM633 380h3v5h-3zM640 380h3v5h-3zM657 380h7v5h-7zM454 385h3v5h-3zM461 385h3v5h-3zM468 385h7v5h-7zM478 385h4v5h-4zM496 385h3v5h-3zM510 385h3v5h-3zM517 385h18v5h-18zM538 385h7v5h-7zM563 385h3v5h-3zM573 385h4v5h-4zM584 385h3v5h-3zM598 385h7v5h-7zM629 385h7v5h-7zM668 385h3v5h-3zM471 390h18v4h-18zM499 390h7v4h-7zM513 390h4v4h-4zM524 390h7v4h-7zM545 390h4v4h-4zM566 390h4v4h-4zM577 390h7v4h-7zM622 390h4v4h-4zM636 390h4v4h-4zM450 394h7v5h-7zM464 394h4v5h-4zM475 394h7v5h-7zM485 394h11v5h-11zM499 394h4v5h-4zM506 394h4v5h-4zM520 394h11v5h-11zM535 394h3v5h-3zM545 394h4v5h-4zM556 394h3v5h-3zM573 394h4v5h-4zM591 394h14v5h-14zM622 394h4v5h-4zM657 394h4v5h-4zM671 394h4v5h-4zM450 399h11v4h-11zM464 399h14v4h-14zM482 399h3v4h-3zM510 399h3v4h-3zM517 399h3v4h-3zM524 399h4v4h-4zM531 399h4v4h-4zM549 399h3v4h-3zM559 399h4v4h-4zM566 399h7v4h-7zM577 399h3v4h-3zM584 399h3v4h-3zM591 399h3v4h-3zM605 399h3v4h-3zM615 399h7v4h-7zM671 399h4v4h-4zM454 403h3v5h-3zM468 403h3v5h-3zM475 403h17v5h-17zM496 403h3v5h-3zM506 403h4v5h-4zM517 403h14v5h-14zM535 403h14v5h-14zM559 403h7v5h-7zM570 403h7v5h-7zM580 403h7v5h-7zM591 403h3v5h-3zM598 403h3v5h-3zM615 403h4v5h-4zM661 403h7v5h-7zM671 403h4v5h-4zM457 408h4v4h-4zM464 408h7v4h-7zM478 408h7v4h-7zM492 408h4v4h-4zM499 408h7v4h-7zM517 408h3v4h-3zM538 408h7v4h-7zM552 408h18v4h-18zM580 408h4v4h-4zM601 408h14v4h-14zM626 408h3v4h-3zM650 408h4v4h-4zM692 408h4v4h-4zM450 412h4v5h-4zM457 412h4v5h-4zM471 412h11v5h-11zM489 412h3v5h-3zM506 412h4v5h-4zM517 412h7v5h-7zM531 412h4v5h-4zM538 412h7v5h-7zM549 412h10v5h-10zM563 412h3v5h-3zM577 412h3v5h-3zM591 412h3v5h-3zM612 412h3v5h-3zM626 412h3v5h-3zM640 412h3v5h-3zM450 417h4v4h-4zM457 417h7v4h-7zM482 417h3v4h-3zM492 417h7v4h-7zM506 417h4v4h-4zM513 417h4v4h-4zM524 417h4v4h-4zM531 417h4v4h-4zM538 417h4v4h-4zM545 417h4v4h-4zM552 417h4v4h-4zM559 417h7v4h-7zM570 417h3v4h-3zM577 417h3v4h-3zM598 417h3v4h-3zM629 417h4v4h-4zM636 417h7v4h-7zM657 417h4v4h-4zM461 421h7v5h-7zM482 421h3v5h-3zM489 421h10v5h-10zM510 421h3v5h-3zM538 421h4v5h-4zM552 421h4v5h-4zM559 421h4v5h-4zM570 421h3v5h-3zM622 421h4v5h-4zM629 421h11v5h-11zM454 426h7v5h-7zM468 426h3v5h-3zM489 426h7v5h-7zM506 426h7v5h-7zM535 426h7v5h-7zM556 426h7v5h-7zM566 426h7v5h-7zM598 426h3v5h-3zM619 426h3v5h-3zM633 426h3v5h-3zM654 426h10v5h-10zM450 431h4v4h-4zM464 431h4v4h-4zM471 431h7v4h-7zM482 431h3v4h-3zM496 431h3v4h-3zM506 431h4v4h-4zM513 431h4v4h-4zM520 431h4v4h-4zM535 431h3v4h-3zM542 431h7v4h-7zM563 431h7v4h-7zM573 431h4v4h-4zM587 431h4v4h-4zM594 431h4v4h-4zM636 431h4v4h-4zM668 431h3v4h-3zM461 435h3v5h-3zM468 435h7v5h-7zM478 435h14v5h-14zM499 435h4v5h-4zM506 435h11v5h-11zM520 435h4v5h-4zM528 435h3v5h-3zM535 435h7v5h-7zM580 435h4v5h-4zM594 435h7v5h-7zM612 435h3v5h-3zM643 435h4v5h-4zM650 435h4v5h-4zM454 440h3v4h-3zM464 440h4v4h-4zM482 440h3v4h-3zM496 440h3v4h-3zM520 440h4v4h-4zM528 440h3v4h-3zM535 440h3v4h-3zM545 440h7v4h-7zM559 440h11v4h-11zM615 440h4v4h-4zM626 440h3v4h-3zM643 440h4v4h-4zM657 440h4v4h-4zM668 440h3v4h-3zM464 444h4v5h-4zM471 444h11v5h-11zM489 444h3v5h-3zM496 444h7v5h-7zM538 444h4v5h-4zM545 444h4v5h-4zM566 444h4v5h-4zM587 444h4v5h-4zM608 444h4v5h-4zM615 444h4v5h-4zM636 444h4v5h-4zM650 444h4v5h-4zM657 444h4v5h-4zM454 449h7v4h-7zM464 449h4v4h-4zM475 449h3v4h-3zM489 449h3v4h-3zM496 449h14v4h-14zM520 449h4v4h-4zM528 449h7v4h-7zM545 449h7v4h-7zM580 449h4v4h-4zM594 449h7v4h-7zM608 449h4v4h-4zM626 449h3v4h-3zM647 449h3v4h-3zM450 453h4v5h-4zM457 453h4v5h-4zM464 453h7v5h-7zM475 453h3v5h-3zM492 453h4v5h-4zM503 453h3v5h-3zM510 453h3v5h-3zM549 453h10v5h-10zM566 453h4v5h-4zM573 453h4v5h-4zM591 453h10v5h-10zM615 453h4v5h-4zM626 453h7v5h-7zM640 453h7v5h-7zM650 453h4v5h-4zM685 453h4v5h-4zM450 458h7v4h-7zM464 458h4v4h-4zM471 458h4v4h-4zM478 458h4v4h-4zM496 458h3v4h-3zM503 458h7v4h-7zM520 458h4v4h-4zM552 458h7v4h-7zM570 458h3v4h-3zM587 458h4v4h-4zM594 458h4v4h-4zM608 458h4v4h-4zM615 458h4v4h-4zM622 458h4v4h-4zM650 458h4v4h-4zM661 458h3v4h-3zM675 458h3v4h-3zM450 462h7v5h-7zM461 462h7v5h-7zM478 462h4v5h-4zM489 462h7v5h-7zM506 462h11v5h-11zM520 462h4v5h-4zM535 462h3v5h-3zM542 462h7v5h-7zM584 462h3v5h-3zM591 462h7v5h-7zM619 462h7v5h-7zM629 462h7v5h-7zM640 462h3v5h-3zM661 462h3v5h-3zM450 467h4v5h-4zM464 467h7v5h-7zM485 467h11v5h-11zM499 467h7v5h-7zM510 467h3v5h-3zM520 467h4v5h-4zM549 467h3v5h-3zM556 467h3v5h-3zM563 467h3v5h-3zM584 467h3v5h-3zM591 467h14v5h-14zM615 467h7v5h-7zM633 467h3v5h-3zM640 467h3v5h-3zM661 467h3v5h-3zM454 472h10v4h-10zM475 472h3v4h-3zM482 472h7v4h-7zM492 472h4v4h-4zM506 472h7v4h-7zM524 472h4v4h-4zM542 472h3v4h-3zM556 472h3v4h-3zM573 472h4v4h-4zM587 472h4v4h-4zM594 472h7v4h-7zM612 472h7v4h-7zM629 472h7v4h-7zM461 476h3v5h-3zM475 476h3v5h-3zM492 476h4v5h-4zM506 476h4v5h-4zM535 476h3v5h-3zM542 476h3v5h-3zM563 476h3v5h-3zM570 476h3v5h-3zM594 476h7v5h-7zM608 476h7v5h-7zM619 476h3v5h-3zM626 476h3v5h-3zM633 476h3v5h-3zM643 476h4v5h-4zM657 476h4v5h-4zM450 481h21v4h-21zM492 481h11v4h-11zM506 481h4v4h-4zM545 481h4v4h-4zM552 481h4v4h-4zM559 481h4v4h-4zM566 481h4v4h-4zM573 481h4v4h-4zM580 481h4v4h-4zM587 481h4v4h-4zM605 481h7v4h-7zM619 481h7v4h-7zM633 481h3v4h-3zM643 481h4v4h-4zM657 481h7v4h-7zM671 481h4v4h-4zM450 485h4v5h-4zM457 485h7v5h-7zM468 485h3v5h-3zM475 485h3v5h-3zM489 485h3v5h-3zM524 485h4v5h-4zM549 485h28v5h-28zM580 485h4v5h-4zM594 485h4v5h-4zM605 485h3v5h-3zM612 485h3v5h-3zM626 485h10v5h-10zM643 485h11v5h-11zM657 485h4v5h-4zM450 490h7v4h-7zM482 490h3v4h-3zM489 490h7v4h-7zM510 490h3v4h-3zM517 490h18v4h-18zM545 490h14v4h-14zM566 490h18v4h-18zM587 490h7v4h-7zM598 490h3v4h-3zM605 490h3v4h-3zM612 490h10v4h-10zM629 490h7v4h-7zM664 490h4v4h-4zM450 494h4v5h-4zM461 494h3v5h-3zM475 494h3v5h-3zM485 494h4v5h-4zM499 494h4v5h-4zM506 494h4v5h-4zM517 494h3v5h-3zM535 494h10v5h-10zM552 494h7v5h-7zM563 494h14v5h-14zM580 494h7v5h-7zM591 494h3v5h-3zM598 494h7v5h-7zM612 494h3v5h-3zM619 494h14v5h-14zM643 494h4v5h-4zM499 499h4v4h-4zM513 499h4v4h-4zM524 499h4v4h-4zM535 499h3v4h-3zM542 499h3v4h-3zM549 499h3v4h-3zM570 499h3v4h-3zM577 499h14v4h-14zM598 499h14v4h-14zM615 499h11v4h-11zM629 499h4v4h-4zM689 499h3v4h-3zM454 503h3v5h-3zM485 503h7v5h-7zM496 503h3v5h-3zM506 503h11v5h-11zM542 503h7v5h-7zM563 503h3v5h-3zM580 503h4v5h-4zM601 503h4v5h-4zM615 503h14v5h-14zM692 503h4v5h-4zM482 508h3v5h-3zM496 508h7v5h-7zM517 508h3v5h-3zM535 508h3v5h-3zM542 508h3v5h-3zM563 508h3v5h-3zM570 508h7v5h-7zM601 508h11v5h-11zM615 508h4v5h-4zM622 508h4v5h-4zM661 508h3v5h-3zM678 508h18v5h-18zM454 513h3v4h-3zM464 513h4v4h-4zM475 513h3v4h-3zM482 513h3v4h-3zM506 513h4v4h-4zM520 513h15v4h-15zM538 513h4v4h-4zM559 513h4v4h-4zM566 513h11v4h-11zM580 513h4v4h-4zM594 513h4v4h-4zM601 513h4v4h-4zM615 513h4v4h-4zM668 513h7v4h-7zM678 513h4v4h-4zM685 513h4v4h-4zM450 517h4v5h-4zM471 517h7v5h-7zM496 517h3v5h-3zM503 517h3v5h-3zM520 517h4v5h-4zM538 517h4v5h-4zM580 517h7v5h-7zM598 517h3v5h-3zM654 517h3v5h-3zM661 517h3v5h-3zM682 517h3v5h-3zM689 517h3v5h-3zM457 522h11v4h-11zM471 522h4v4h-4zM492 522h7v4h-7zM535 522h7v4h-7zM552 522h11v4h-11zM573 522h4v4h-4zM584 522h3v4h-3zM591 522h3v4h-3zM619 522h3v4h-3zM629 522h4v4h-4zM647 522h3v4h-3zM657 522h4v4h-4zM668 522h3v4h-3zM678 522h7v4h-7zM450 526h4v5h-4zM461 526h3v5h-3zM468 526h3v5h-3zM496 526h3v5h-3zM503 526h3v5h-3zM510 526h10v5h-10zM531 526h7v5h-7zM545 526h11v5h-11zM563 526h7v5h-7zM577 526h3v5h-3zM594 526h4v5h-4zM643 526h4v5h-4zM654 526h3v5h-3zM678 526h4v5h-4zM685 526h4v5h-4zM457 531h4v4h-4zM471 531h4v4h-4zM478 531h4v4h-4zM489 531h3v4h-3zM496 531h7v4h-7zM506 531h4v4h-4zM517 531h7v4h-7zM528 531h21v4h-21zM559 531h4v4h-4zM566 531h4v4h-4zM577 531h3v4h-3zM612 531h3v4h-3zM636 531h7v4h-7zM650 531h4v4h-4zM657 531h4v4h-4zM668 531h3v4h-3zM682 531h10v4h-10zM450 535h4v5h-4zM471 535h4v5h-4zM482 535h7v5h-7zM499 535h4v5h-4zM520 535h4v5h-4zM528 535h3v5h-3zM552 535h7v5h-7zM605 535h3v5h-3zM643 535h7v5h-7zM661 535h3v5h-3zM689 535h3v5h-3zM454 540h3v4h-3zM475 540h3v4h-3zM485 540h4v4h-4zM492 540h4v4h-4zM520 540h4v4h-4zM545 540h4v4h-4zM573 540h7v4h-7zM591 540h3v4h-3zM598 540h3v4h-3zM605 540h7v4h-7zM615 540h7v4h-7zM636 540h7v4h-7zM661 540h3v4h-3zM671 540h4v4h-4zM685 540h7v4h-7zM450 544h4v5h-4zM464 544h4v5h-4zM471 544h4v5h-4zM489 544h14v5h-14zM506 544h4v5h-4zM531 544h4v5h-4zM570 544h3v5h-3zM584 544h10v5h-10zM598 544h3v5h-3zM605 544h3v5h-3zM626 544h7v5h-7zM636 544h4v5h-4zM661 544h3v5h-3zM671 544h4v5h-4zM685 544h11v5h-11zM450 549h4v5h-4zM464 549h4v5h-4zM471 549h4v5h-4zM478 549h7v5h-7zM489 549h7v5h-7zM499 549h4v5h-4zM513 549h11v5h-11zM531 549h7v5h-7zM559 549h4v5h-4zM584 549h10v5h-10zM598 549h3v5h-3zM605 549h7v5h-7zM622 549h4v5h-4zM640 549h7v5h-7zM654 549h7v5h-7zM671 549h4v5h-4zM678 549h4v5h-4zM457 554h4v4h-4zM492 554h4v4h-4zM503 554h7v4h-7zM513 554h11v4h-11zM531 554h4v4h-4zM559 554h4v4h-4zM566 554h4v4h-4zM573 554h4v4h-4zM587 554h4v4h-4zM594 554h7v4h-7zM605 554h3v4h-3zM619 554h7v4h-7zM629 554h4v4h-4zM640 554h3v4h-3zM647 554h14v4h-14zM671 554h4v4h-4zM685 554h7v4h-7zM450 558h4v5h-4zM457 558h4v5h-4zM468 558h3v5h-3zM489 558h3v5h-3zM503 558h3v5h-3zM513 558h4v5h-4zM549 558h3v5h-3zM556 558h3v5h-3zM570 558h14v5h-14zM587 558h7v5h-7zM605 558h3v5h-3zM615 558h4v5h-4zM668 558h3v5h-3zM675 558h14v5h-14zM454 563h3v4h-3zM461 563h7v4h-7zM475 563h3v4h-3zM482 563h7v4h-7zM496 563h14v4h-14zM524 563h4v4h-4zM542 563h3v4h-3zM559 563h7v4h-7zM584 563h3v4h-3zM601 563h7v4h-7zM612 563h7v4h-7zM636 563h11v4h-11zM654 563h3v4h-3zM664 563h11v4h-11zM689 563h7v4h-7zM461 567h7v5h-7zM475 567h10v5h-10zM492 567h4v5h-4zM520 567h8v5h-8zM542 567h7v5h-7zM559 567h4v5h-4zM584 567h7v5h-7zM594 567h4v5h-4zM601 567h28v5h-28zM640 567h3v5h-3zM650 567h14v5h-14zM668 567h3v5h-3zM678 567h7v5h-7zM692 567h4v5h-4zM468 572h7v4h-7zM478 572h4v4h-4zM503 572h3v4h-3zM535 572h10v4h-10zM549 572h10v4h-10zM566 572h4v4h-4zM573 572h4v4h-4zM580 572h7v4h-7zM594 572h4v4h-4zM608 572h4v4h-4zM615 572h4v4h-4zM622 572h7v4h-7zM640 572h3v4h-3zM654 572h7v4h-7zM664 572h4v4h-4zM675 572h7v4h-7zM689 572h3v4h-3zM461 576h10v5h-10zM485 576h4v5h-4zM506 576h4v5h-4zM513 576h4v5h-4zM520 576h11v5h-11zM545 576h4v5h-4zM552 576h7v5h-7zM566 576h11v5h-11zM584 576h3v5h-3zM629 576h4v5h-4zM650 576h4v5h-4zM657 576h4v5h-4zM678 576h7v5h-7zM454 581h3v4h-3zM489 581h3v4h-3zM503 581h3v4h-3zM510 581h3v4h-3zM528 581h14v4h-14zM552 581h18v4h-18zM580 581h4v4h-4zM591 581h10v4h-10zM605 581h3v4h-3zM612 581h7v4h-7zM626 581h14v4h-14zM650 581h7v4h-7zM661 581h3v4h-3zM678 581h4v4h-4zM689 581h7v4h-7zM450 585h7v5h-7zM461 585h3v5h-3zM478 585h4v5h-4zM489 585h14v5h-14zM506 585h4v5h-4zM513 585h7v5h-7zM524 585h7v5h-7zM538 585h7v5h-7zM549 585h10v5h-10zM563 585h3v5h-3zM598 585h3v5h-3zM619 585h7v5h-7zM633 585h3v5h-3zM640 585h14v5h-14zM664 585h4v5h-4zM682 585h3v5h-3zM689 585h7v5h-7zM478 590h4v4h-4zM489 590h10v4h-10zM506 590h4v4h-4zM513 590h7v4h-7zM524 590h25v4h-25zM556 590h7v4h-7zM566 590h4v4h-4zM580 590h4v4h-4zM594 590h7v4h-7zM633 590h10v4h-10zM664 590h4v4h-4zM475 594h3v5h-3zM482 594h3v5h-3zM492 594h4v5h-4zM499 594h4v5h-4zM506 594h4v5h-4zM513 594h4v5h-4zM520 594h4v5h-4zM528 594h3v5h-3zM542 594h10v5h-10zM556 594h3v5h-3zM566 594h11v5h-11zM594 594h11v5h-11zM608 594h4v5h-4zM450 599h4v5h-4zM468 599h3v5h-3zM478 599h11v5h-11zM492 599h4v5h-4zM499 599h4v5h-4zM510 599h3v5h-3zM528 599h7v5h-7zM545 599h7v5h-7zM556 599h10v5h-10zM580 599h4v5h-4zM591 599h10v5h-10zM608 599h4v5h-4zM622 599h11v5h-11zM650 599h4v5h-4zM657 599h4v5h-4zM675 599h3v5h-3zM689 599h3v5h-3zM454 604h10v4h-10zM471 604h4v4h-4zM482 604h3v4h-3zM496 604h7v4h-7zM506 604h14v4h-14zM524 604h4v4h-4zM580 604h7v4h-7zM601 604h4v4h-4zM615 604h4v4h-4zM629 604h4v4h-4zM643 604h7v4h-7zM661 604h7v4h-7zM671 604h4v4h-4zM678 604h4v4h-4zM685 604h4v4h-4zM692 604h4v4h-4zM457 608h4v5h-4zM482 608h7v5h-7zM499 608h21v5h-21zM531 608h4v5h-4zM556 608h3v5h-3zM566 608h4v5h-4zM594 608h11v5h-11zM612 608h3v5h-3zM622 608h7v5h-7zM633 608h3v5h-3zM640 608h3v5h-3zM657 608h4v5h-4zM678 608h7v5h-7zM689 608h3v5h-3zM454 613h3v2h-3zM464 613h4v2h-4zM478 613h7v2h-7zM489 613h3v2h-3zM496 613h7v2h-7zM513 613h4v2h-4zM535 613h3v2h-3zM542 613h7v2h-7zM556 613h14v2h-14zM580 613h7v2h-7zM601 613h4v2h-4zM622 613h4v2h-4zM636 613h7v2h-7zM647 613h3v2h-3zM668 613h3v2h-3zM685 613h7v2h-7z"/><path fill="#2c0000" d="M692 458h4v4h-4z"/><path fill="#430000" d="M503 403h3v5h-3zM626 431h3v4h-3z"/><path fill="#590000" d="M629 412h4v5h-4zM538 453h4v5h-4zM545 494h4v5h-4zM580 508h4v5h-4zM457 517h4v5h-4zM647 599h3v5h-3zM542 608h3v5h-3z"/><path fill="#6f0000" d="M454 370h3v1h-3zM577 370h3v1h-3zM594 371h4v5h-4zM598 376h3v4h-3zM556 390h3v4h-3zM570 408h3v4h-3zM471 421h4v5h-4zM531 431h4v4h-4zM475 435h3v5h-3zM531 435h4v5h-4zM471 449h4v4h-4zM492 449h4v4h-4zM566 449h4v4h-4zM496 476h3v5h-3zM668 476h3v5h-3zM478 490h4v4h-4zM629 517h4v5h-4zM650 522h4v4h-4zM492 531h4v4h-4zM647 540h3v4h-3zM580 544h4v5h-4zM461 554h3v4h-3zM563 558h3v5h-3zM549 563h3v4h-3zM636 567h4v5h-4zM598 572h3v4h-3zM454 590h3v4h-3zM573 590h4v4h-4zM584 594h3v5h-3zM615 599h4v5h-4zM643 599h4v5h-4zM678 599h4v5h-4zM668 608h3v5h-3z"/><path fill="#850000" d="M464 370h4v1h-4zM570 371h3v5h-3zM577 380h3v5h-3zM464 385h4v5h-4zM506 385h4v5h-4zM594 390h4v4h-4zM626 390h3v4h-3zM556 403h3v5h-3zM587 421h4v5h-4zM542 426h3v5h-3zM640 426h3v5h-3zM454 444h3v5h-3zM619 444h3v5h-3zM510 449h3v4h-3zM577 458h3v4h-3zM619 458h3v4h-3zM461 467h3v5h-3zM626 467h3v5h-3zM478 472h4v4h-4zM685 472h4v4h-4zM482 476h3v5h-3zM605 476h3v5h-3zM545 485h4v5h-4zM591 485h3v5h-3zM538 503h4v5h-4zM552 503h4v5h-4zM513 513h4v4h-4zM622 513h4v4h-4zM510 517h3v5h-3zM478 522h4v4h-4zM489 522h3v4h-3zM661 522h3v4h-3zM475 531h3v4h-3zM454 535h3v5h-3zM464 535h4v5h-4zM489 540h3v4h-3zM587 540h4v4h-4zM643 540h4v4h-4zM626 549h3v5h-3zM689 549h3v5h-3zM454 558h3v5h-3zM664 567h4v5h-4zM605 572h3v4h-3zM510 576h3v5h-3zM675 576h3v5h-3zM464 581h4v4h-4zM506 581h4v4h-4zM524 581h4v4h-4zM657 585h4v5h-4zM682 599h3v5h-3zM520 604h4v4h-4zM587 604h4v4h-4zM468 608h3v5h-3zM650 608h4v5h-4zM661 608h3v5h-3zM661 613h3v2h-3z"/><path fill="#9b0000" d="M485 370h4v1h-4zM531 370h4v1h-4zM492 371h4v5h-4zM556 376h3v4h-3zM591 376h3v4h-3zM520 380h4v5h-4zM454 390h3v4h-3zM601 390h4v4h-4zM650 394h4v5h-4zM450 403h4v5h-4zM506 408h4v4h-4zM531 408h4v4h-4zM668 408h3v4h-3zM664 412h4v5h-4zM573 417h4v4h-4zM608 417h4v4h-4zM622 417h4v4h-4zM531 421h4v5h-4zM542 421h3v5h-3zM457 435h4v5h-4zM492 435h4v5h-4zM478 453h4v5h-4zM528 453h3v5h-3zM601 453h4v5h-4zM661 453h3v5h-3zM668 453h3v5h-3zM499 458h4v4h-4zM457 462h4v5h-4zM566 462h4v5h-4zM450 472h4v4h-4zM468 472h3v4h-3zM556 481h3v4h-3zM454 485h3v5h-3zM608 485h4v5h-4zM471 490h4v4h-4zM520 494h4v5h-4zM636 494h4v5h-4zM496 499h3v4h-3zM591 503h3v5h-3zM612 503h3v5h-3zM591 513h3v4h-3zM598 513h3v4h-3zM549 517h3v5h-3zM608 517h4v5h-4zM506 522h4v4h-4zM636 522h4v4h-4zM692 522h4v4h-4zM598 526h3v5h-3zM692 526h4v5h-4zM531 535h4v5h-4zM482 540h3v4h-3zM499 540h4v4h-4zM584 540h3v4h-3zM650 540h4v4h-4zM664 540h4v4h-4zM650 544h4v5h-4zM524 549h4v5h-4zM580 549h4v5h-4zM454 554h3v4h-3zM499 554h4v4h-4zM657 558h4v5h-4zM689 558h3v5h-3zM685 563h4v4h-4zM587 572h4v4h-4zM450 576h4v5h-4zM654 576h3v5h-3zM545 581h4v4h-4zM640 581h3v4h-3zM664 581h4v4h-4zM580 585h4v5h-4zM675 585h3v5h-3zM475 590h3v4h-3zM608 590h4v4h-4zM682 590h3v4h-3zM531 594h4v5h-4zM587 594h4v5h-4zM471 608h4v5h-4zM570 608h3v5h-3zM643 613h4v2h-4z"/><path fill="#b10000" d="M528 370h3v1h-3zM612 370h3v1h-3zM692 370h4v1h-4zM528 371h3v5h-3zM643 376h4v4h-4zM552 380h4v5h-4zM580 380h4v5h-4zM619 380h3v5h-3zM489 385h3v5h-3zM608 385h4v5h-4zM464 390h7v4h-7zM517 390h3v4h-3zM563 390h3v4h-3zM584 390h3v4h-3zM664 394h4v5h-4zM573 399h4v4h-4zM594 399h4v4h-4zM622 403h4v5h-4zM657 403h4v5h-4zM577 408h3v4h-3zM615 408h4v4h-4zM468 412h3v5h-3zM513 412h4v5h-4zM545 412h4v5h-4zM559 412h4v5h-4zM636 412h4v5h-4zM643 417h4v4h-4zM577 426h3v5h-3zM457 431h4v4h-4zM478 431h4v4h-4zM577 431h3v4h-3zM577 435h3v5h-3zM492 440h4v4h-4zM584 440h3v4h-3zM598 444h3v5h-3zM626 444h3v5h-3zM517 449h3v4h-3zM643 449h4v4h-4zM689 453h3v5h-3zM682 458h3v4h-3zM531 462h4v5h-4zM573 462h4v5h-4zM692 462h4v5h-4zM482 467h3v5h-3zM531 467h4v5h-4zM605 472h7v4h-7zM485 476h4v5h-4zM510 476h3v5h-3zM528 476h3v5h-3zM556 476h3v5h-3zM538 481h4v4h-4zM626 481h7v4h-7zM485 485h4v5h-4zM584 485h3v5h-3zM563 490h3v4h-3zM657 490h4v4h-4zM454 494h3v5h-3zM471 494h4v5h-4zM510 494h3v5h-3zM594 494h4v5h-4zM506 499h4v4h-4zM538 499h4v4h-4zM556 499h3v4h-3zM566 499h4v4h-4zM685 499h4v4h-4zM482 503h3v5h-3zM524 508h4v5h-4zM577 508h3v5h-3zM485 517h4v5h-4zM671 517h4v5h-4zM692 517h4v5h-4zM528 522h3v4h-3zM615 526h4v5h-4zM640 526h3v5h-3zM689 526h3v5h-3zM450 531h4v4h-4zM594 531h4v4h-4zM619 531h3v4h-3zM661 531h3v4h-3zM475 535h3v5h-3zM468 540h3v4h-3zM517 544h3v5h-3zM538 544h4v5h-4zM594 544h4v5h-4zM608 544h4v5h-4zM657 544h4v5h-4zM668 544h3v5h-3zM678 544h4v5h-4zM570 549h3v5h-3zM661 549h3v5h-3zM668 554h3v4h-3zM629 558h4v5h-4zM636 558h4v5h-4zM661 563h3v4h-3zM485 567h4v5h-4zM517 572h3v4h-3zM531 572h4v4h-4zM563 572h3v4h-3zM650 572h4v4h-4zM682 572h3v4h-3zM692 572h4v4h-4zM608 576h4v5h-4zM689 576h3v5h-3zM478 581h4v4h-4zM685 581h4v4h-4zM510 585h3v5h-3zM612 585h3v5h-3zM636 585h4v5h-4zM605 590h3v4h-3zM654 590h3v4h-3zM605 594h3v5h-3zM503 599h3v5h-3zM542 599h3v5h-3zM584 599h3v5h-3zM633 599h3v5h-3zM661 599h3v5h-3zM563 604h3v4h-3zM570 604h3v4h-3zM520 608h4v5h-4zM671 608h4v5h-4zM517 613h3v2h-3zM598 613h3v2h-3zM619 613h3v2h-3zM682 613h3v2h-3z"/><path fill="#c80000" d="M471 370h4v1h-4zM538 370h7v1h-7zM601 370h4v1h-4zM485 371h4v5h-4zM549 371h3v5h-3zM573 371h4v5h-4zM612 371h3v5h-3zM492 376h4v4h-4zM542 376h3v4h-3zM492 380h4v5h-4zM517 380h3v5h-3zM647 380h3v5h-3zM552 385h4v5h-4zM577 385h3v5h-3zM587 385h4v5h-4zM647 385h3v5h-3zM619 390h3v4h-3zM657 390h4v4h-4zM471 394h4v5h-4zM513 394h4v5h-4zM566 394h7v5h-7zM485 399h4v4h-4zM608 399h7v4h-7zM622 399h4v4h-4zM510 408h3v4h-3zM524 408h4v4h-4zM591 408h3v4h-3zM640 408h3v4h-3zM510 412h3v5h-3zM524 412h7v5h-7zM566 412h4v5h-4zM535 417h3v4h-3zM549 417h3v4h-3zM454 421h3v5h-3zM584 421h3v5h-3zM671 421h4v5h-4zM464 426h4v5h-4zM503 426h3v5h-3zM468 431h3v4h-3zM661 431h3v4h-3zM450 440h4v4h-4zM457 440h7v4h-7zM450 444h4v5h-4zM482 444h3v5h-3zM503 444h3v5h-3zM517 444h7v5h-7zM556 444h3v5h-3zM468 449h3v4h-3zM538 449h4v4h-4zM654 449h3v4h-3zM471 453h4v5h-4zM608 453h4v5h-4zM485 458h4v4h-4zM528 458h3v4h-3zM640 458h3v4h-3zM559 467h4v5h-4zM570 467h3v5h-3zM612 467h3v5h-3zM496 472h3v4h-3zM549 472h3v4h-3zM640 472h3v4h-3zM503 476h3v5h-3zM513 476h4v5h-4zM485 481h4v4h-4zM668 481h3v4h-3zM492 485h4v5h-4zM542 485h3v5h-3zM542 490h3v4h-3zM689 494h3v5h-3zM520 499h4v4h-4zM531 499h4v4h-4zM503 503h3v5h-3zM556 503h3v5h-3zM520 508h4v5h-4zM538 508h4v5h-4zM612 508h3v5h-3zM485 513h4v4h-4zM503 513h3v4h-3zM510 513h3v4h-3zM545 513h4v4h-4zM563 513h3v4h-3zM689 513h7v4h-7zM464 517h4v5h-4zM524 517h4v5h-4zM559 517h4v5h-4zM573 517h4v5h-4zM601 517h4v5h-4zM675 517h3v5h-3zM475 522h3v4h-3zM482 522h3v4h-3zM510 522h7v4h-7zM489 526h3v5h-3zM629 526h4v5h-4zM647 526h3v5h-3zM657 526h4v5h-4zM482 531h3v4h-3zM647 531h3v4h-3zM664 531h4v4h-4zM675 531h3v4h-3zM591 535h3v5h-3zM650 535h4v5h-4zM675 535h7v5h-7zM461 540h3v4h-3zM535 540h3v4h-3zM657 540h4v4h-4zM478 544h4v5h-4zM503 544h3v5h-3zM647 544h3v5h-3zM461 549h3v5h-3zM485 549h4v5h-4zM503 549h3v5h-3zM563 549h7v5h-7zM636 549h4v5h-4zM510 554h3v4h-3zM545 554h4v4h-4zM633 554h3v4h-3zM661 554h3v4h-3zM475 558h7v5h-7zM622 558h4v5h-4zM450 563h4v4h-4zM531 563h4v4h-4zM629 563h7v4h-7zM517 567h3v5h-3zM513 572h4v4h-4zM520 572h4v4h-4zM636 572h4v4h-4zM643 572h4v4h-4zM535 576h3v5h-3zM563 576h3v5h-3zM594 576h4v5h-4zM601 576h4v5h-4zM685 576h4v5h-4zM496 581h3v4h-3zM464 585h4v5h-4zM531 585h4v5h-4zM559 585h4v5h-4zM654 585h3v5h-3zM499 590h4v4h-4zM510 590h3v4h-3zM657 590h4v4h-4zM524 594h4v5h-4zM517 599h3v5h-3zM535 599h7v5h-7zM577 599h3v5h-3zM671 599h4v5h-4zM450 604h4v4h-4zM478 604h4v4h-4zM489 604h3v4h-3zM573 604h4v4h-4zM636 604h4v4h-4zM650 604h4v4h-4zM478 608h4v5h-4zM549 608h3v5h-3zM485 613h4v2h-4zM506 613h4v2h-4zM528 613h3v2h-3zM538 613h4v2h-4zM608 613h4v2h-4zM657 613h4v2h-4zM678 613h4v2h-4z"/><path fill="#de0000" d="M506 370h4v1h-4zM640 370h3v1h-3zM587 371h4v5h-4zM608 371h4v5h-4zM678 371h4v5h-4zM524 376h4v4h-4zM594 376h4v4h-4zM506 380h4v5h-4zM528 380h3v5h-3zM482 385h3v5h-3zM513 385h4v5h-4zM594 385h4v5h-4zM692 385h4v5h-4zM531 390h4v4h-4zM661 390h3v4h-3zM668 390h3v4h-3zM619 394h3v5h-3zM492 399h4v4h-4zM528 399h3v4h-3zM538 399h4v4h-4zM601 399h4v4h-4zM682 399h3v4h-3zM612 403h3v5h-3zM549 408h3v4h-3zM654 408h3v4h-3zM503 412h3v5h-3zM661 412h3v5h-3zM471 417h4v4h-4zM478 417h4v4h-4zM499 417h4v4h-4zM542 417h3v4h-3zM566 417h4v4h-4zM591 421h3v5h-3zM528 426h3v5h-3zM524 431h4v4h-4zM542 440h3v4h-3zM542 444h3v5h-3zM647 444h3v5h-3zM689 444h3v5h-3zM450 449h4v4h-4zM535 453h3v5h-3zM612 453h3v5h-3zM671 453h4v5h-4zM524 458h4v4h-4zM471 462h4v5h-4zM538 462h4v5h-4zM570 462h3v5h-3zM626 462h3v5h-3zM668 462h3v5h-3zM496 467h3v5h-3zM552 467h4v5h-4zM647 467h3v5h-3zM545 472h4v4h-4zM643 472h4v4h-4zM692 472h4v4h-4zM450 476h4v5h-4zM545 476h4v5h-4zM577 476h3v5h-3zM584 476h3v5h-3zM622 476h4v5h-4zM482 481h3v4h-3zM615 481h4v4h-4zM664 481h4v4h-4zM496 485h3v5h-3zM464 490h4v4h-4zM622 490h4v4h-4zM650 490h4v4h-4zM513 494h4v5h-4zM577 494h3v5h-3zM464 499h4v4h-4zM664 503h4v5h-4zM545 508h4v5h-4zM633 508h3v5h-3zM471 513h4v4h-4zM517 513h3v4h-3zM587 517h4v5h-4zM685 517h4v5h-4zM499 522h4v4h-4zM545 522h4v4h-4zM664 522h4v4h-4zM542 526h3v5h-3zM675 526h3v5h-3zM615 531h4v4h-4zM506 535h4v5h-4zM538 535h4v5h-4zM608 535h4v5h-4zM478 540h4v4h-4zM517 540h3v4h-3zM524 540h7v4h-7zM454 549h3v5h-3zM496 549h3v5h-3zM612 549h3v5h-3zM489 554h3v4h-3zM601 554h4v4h-4zM615 554h4v4h-4zM492 558h4v5h-4zM640 558h3v5h-3zM682 563h3v4h-3zM535 567h3v5h-3zM454 572h3v4h-3zM489 572h3v4h-3zM528 572h3v4h-3zM629 572h4v4h-4zM542 576h3v5h-3zM549 576h3v5h-3zM489 594h3v5h-3zM503 594h3v5h-3zM489 599h3v5h-3zM587 599h4v5h-4zM612 599h3v5h-3zM685 599h4v5h-4zM454 608h3v5h-3zM461 608h3v5h-3zM489 608h3v5h-3zM647 608h3v5h-3zM591 613h3v2h-3zM615 613h4v2h-4zM629 613h4v2h-4zM675 613h3v2h-3z"/><path fill="#f40000" d="M608 370h4v1h-4zM661 370h3v1h-3zM668 370h3v1h-3zM531 371h4v5h-4zM598 371h3v5h-3zM629 371h4v5h-4zM482 380h3v5h-3zM566 380h4v5h-4zM584 380h3v5h-3zM485 385h4v5h-4zM566 385h4v5h-4zM591 385h3v5h-3zM496 390h3v4h-3zM587 390h4v4h-4zM552 394h4v5h-4zM506 399h4v4h-4zM556 399h3v4h-3zM587 399h4v4h-4zM549 403h3v5h-3zM654 403h3v5h-3zM619 408h3v4h-3zM492 412h4v5h-4zM485 417h4v4h-4zM520 421h4v5h-4zM626 421h3v5h-3zM668 421h3v5h-3zM496 426h3v5h-3zM513 426h4v5h-4zM587 426h4v5h-4zM612 426h3v5h-3zM461 431h3v4h-3zM552 431h4v4h-4zM496 435h3v5h-3zM591 435h3v5h-3zM531 440h4v4h-4zM538 440h4v4h-4zM556 440h3v4h-3zM580 440h4v4h-4zM647 440h3v4h-3zM513 444h4v5h-4zM489 453h3v5h-3zM587 453h4v5h-4zM468 458h3v4h-3zM517 458h3v4h-3zM496 462h7v5h-7zM517 462h3v5h-3zM524 462h4v5h-4zM601 462h4v5h-4zM643 462h7v5h-7zM657 462h4v5h-4zM475 467h3v5h-3zM573 467h4v5h-4zM626 472h3v4h-3zM454 476h7v5h-7zM489 481h3v4h-3zM636 481h4v4h-4zM538 485h4v5h-4zM577 485h3v5h-3zM654 485h3v5h-3zM535 490h3v4h-3zM457 494h4v5h-4zM489 494h3v5h-3zM549 494h3v5h-3zM559 494h4v5h-4zM478 499h4v4h-4zM520 503h4v5h-4zM556 513h3v4h-3zM556 517h3v5h-3zM563 517h3v5h-3zM647 517h3v5h-3zM689 522h3v4h-3zM478 526h4v5h-4zM503 531h3v4h-3zM601 531h4v4h-4zM626 531h3v4h-3zM457 535h4v5h-4zM513 535h4v5h-4zM524 535h4v5h-4zM545 535h4v5h-4zM622 535h7v5h-7zM503 540h3v4h-3zM510 540h3v4h-3zM531 540h4v4h-4zM510 544h3v5h-3zM510 549h3v5h-3zM633 549h3v5h-3zM468 554h3v4h-3zM482 554h3v4h-3zM584 554h3v4h-3zM608 554h4v4h-4zM461 558h3v5h-3zM584 558h3v5h-3zM528 563h3v4h-3zM538 563h4v4h-4zM545 563h4v4h-4zM678 563h4v4h-4zM489 567h3v5h-3zM538 567h4v5h-4zM671 567h4v5h-4zM485 572h4v4h-4zM510 572h3v4h-3zM454 576h3v5h-3zM587 576h4v5h-4zM517 581h3v4h-3zM584 581h3v4h-3zM566 585h4v5h-4zM587 585h4v5h-4zM661 585h3v5h-3zM563 594h3v5h-3zM619 594h3v5h-3zM457 599h4v5h-4zM570 599h3v5h-3zM636 599h4v5h-4zM538 604h4v4h-4zM640 604h3v4h-3zM496 608h3v5h-3zM629 608h4v5h-4zM577 613h3v2h-3zM594 613h4v2h-4zM605 613h3v2h-3zM626 613h3v2h-3zM664 613h4v2h-4z"/><path fill="#ff0b00" d="M503 370h3v1h-3zM482 371h3v5h-3zM506 371h4v5h-4zM647 371h3v5h-3zM668 371h3v5h-3zM475 376h3v4h-3zM506 376h4v4h-4zM513 376h4v4h-4zM538 376h4v4h-4zM573 376h4v4h-4zM450 380h4v5h-4zM513 380h4v5h-4zM682 380h3v5h-3zM570 385h3v5h-3zM619 385h7v5h-7zM664 385h4v5h-4zM492 390h4v4h-4zM549 390h3v4h-3zM577 394h3v5h-3zM654 394h3v5h-3zM685 394h4v5h-4zM478 399h4v4h-4zM552 399h4v4h-4zM563 399h3v4h-3zM580 399h4v4h-4zM598 399h3v4h-3zM661 399h3v4h-3zM471 403h4v5h-4zM601 403h4v5h-4zM629 403h4v5h-4zM475 408h3v4h-3zM485 408h4v4h-4zM513 408h4v4h-4zM535 408h3v4h-3zM584 408h3v4h-3zM643 408h4v4h-4zM573 412h4v5h-4zM464 417h4v4h-4zM517 417h3v4h-3zM587 417h4v4h-4zM661 417h3v4h-3zM503 421h3v5h-3zM545 421h4v5h-4zM577 421h3v5h-3zM654 421h3v5h-3zM661 421h3v5h-3zM692 421h4v5h-4zM461 426h3v5h-3zM499 426h4v5h-4zM545 426h4v5h-4zM563 426h3v5h-3zM584 426h3v5h-3zM549 431h3v4h-3zM678 431h4v4h-4zM454 435h3v5h-3zM464 435h4v5h-4zM542 435h3v5h-3zM549 435h3v5h-3zM570 435h3v5h-3zM601 435h4v5h-4zM633 435h3v5h-3zM654 435h3v5h-3zM468 440h3v4h-3zM478 440h4v4h-4zM485 440h4v4h-4zM510 440h3v4h-3zM629 440h4v4h-4zM640 440h3v4h-3zM633 444h3v5h-3zM535 449h3v4h-3zM668 449h3v4h-3zM482 453h3v5h-3zM545 453h4v5h-4zM559 453h4v5h-4zM577 453h3v5h-3zM654 453h3v5h-3zM675 453h3v5h-3zM692 453h4v5h-4zM538 458h4v4h-4zM566 458h4v4h-4zM605 458h3v4h-3zM643 458h7v4h-7zM468 462h3v5h-3zM598 462h3v5h-3zM524 467h7v5h-7zM587 467h4v5h-4zM577 472h3v4h-3zM668 472h3v4h-3zM559 476h4v5h-4zM640 476h3v5h-3zM650 476h4v5h-4zM471 481h4v4h-4zM510 481h3v4h-3zM528 481h3v4h-3zM549 481h3v4h-3zM577 481h3v4h-3zM584 481h3v4h-3zM650 481h4v4h-4zM528 485h3v5h-3zM619 485h3v5h-3zM457 490h4v4h-4zM468 490h3v4h-3zM626 490h3v4h-3zM636 490h4v4h-4zM608 494h4v5h-4zM573 499h4v4h-4zM626 499h3v4h-3zM549 503h3v5h-3zM556 508h3v5h-3zM594 508h4v5h-4zM468 513h3v4h-3zM552 513h4v4h-4zM584 513h3v4h-3zM619 513h3v4h-3zM675 513h3v4h-3zM682 513h3v4h-3zM492 517h4v5h-4zM513 517h4v5h-4zM545 517h4v5h-4zM650 517h4v5h-4zM580 522h4v4h-4zM640 522h3v4h-3zM685 522h4v4h-4zM454 526h3v5h-3zM492 526h4v5h-4zM499 526h4v5h-4zM626 526h3v5h-3zM664 526h4v5h-4zM496 535h3v5h-3zM503 535h3v5h-3zM510 535h3v5h-3zM517 535h3v5h-3zM594 535h4v5h-4zM619 535h3v5h-3zM506 540h4v4h-4zM513 540h4v4h-4zM542 540h3v4h-3zM612 540h3v4h-3zM626 540h3v4h-3zM528 544h3v5h-3zM535 544h3v5h-3zM601 544h4v5h-4zM556 549h3v5h-3zM668 549h3v5h-3zM552 554h4v4h-4zM692 554h4v4h-4zM485 558h4v5h-4zM692 558h4v5h-4zM570 563h3v4h-3zM528 567h3v5h-3zM570 567h7v5h-7zM503 576h3v5h-3zM577 576h3v5h-3zM605 576h3v5h-3zM457 581h4v4h-4zM520 581h4v4h-4zM570 581h3v4h-3zM608 581h4v4h-4zM552 590h4v4h-4zM615 590h4v4h-4zM629 590h4v4h-4zM496 594h3v5h-3zM552 594h4v5h-4zM496 599h3v5h-3zM506 599h4v5h-4zM513 599h4v5h-4zM566 599h4v5h-4zM503 604h3v4h-3zM566 604h4v4h-4zM492 608h4v5h-4zM608 608h4v5h-4zM457 613h4v2h-4zM552 613h4v2h-4zM570 613h3v2h-3z"/><path fill="#ff2100" d="M513 371h4v5h-4zM601 371h4v5h-4zM661 376h3v4h-3zM678 380h4v5h-4zM678 385h4v5h-4zM520 390h4v4h-4zM685 390h4v4h-4zM626 394h3v5h-3zM692 394h4v5h-4zM629 399h4v4h-4zM685 399h4v4h-4zM587 408h4v4h-4zM682 408h3v4h-3zM647 421h3v5h-3zM580 426h4v5h-4zM650 426h4v5h-4zM685 426h4v5h-4zM685 431h4v4h-4zM566 435h4v5h-4zM622 444h4v5h-4zM650 449h4v4h-4zM685 467h4v5h-4zM566 472h4v4h-4zM678 472h4v4h-4zM573 476h4v5h-4zM692 476h4v5h-4zM647 481h3v4h-3zM675 481h3v4h-3zM499 485h4v5h-4zM454 499h3v4h-3zM503 499h3v4h-3zM524 503h4v5h-4zM619 508h3v5h-3zM542 535h3v5h-3zM549 535h3v5h-3zM685 549h4v5h-4zM675 554h3v4h-3zM619 576h3v5h-3zM685 585h4v5h-4zM517 594h3v5h-3zM545 604h4v4h-4zM559 604h4v4h-4zM605 608h3v5h-3z"/><path fill="#ff3700" d="M685 371h4v5h-4zM626 376h3v4h-3zM685 376h4v4h-4zM478 380h4v5h-4zM675 380h3v5h-3zM682 390h3v4h-3zM629 394h4v5h-4zM661 394h3v5h-3zM675 394h3v5h-3zM689 403h3v5h-3zM594 412h4v5h-4zM605 412h3v5h-3zM671 412h4v5h-4zM689 412h3v5h-3zM675 417h3v4h-3zM675 421h3v5h-3zM685 421h4v5h-4zM503 431h3v4h-3zM538 431h4v4h-4zM664 431h4v4h-4zM675 431h3v4h-3zM689 431h3v4h-3zM654 440h3v4h-3zM685 440h4v4h-4zM492 444h4v5h-4zM640 449h3v4h-3zM685 449h4v4h-4zM563 472h3v4h-3zM478 476h4v5h-4zM678 476h4v5h-4zM654 481h3v4h-3zM552 508h4v5h-4zM454 517h3v5h-3zM454 531h3v4h-3zM622 531h4v4h-4zM468 535h3v5h-3zM587 535h4v5h-4zM675 549h3v5h-3zM450 572h4v4h-4zM678 590h4v4h-4zM510 594h3v5h-3zM591 604h3v4h-3z"/><path fill="#ff4e00" d="M689 370h3v1h-3zM454 371h3v5h-3zM657 371h4v5h-4zM633 376h3v4h-3zM629 380h4v5h-4zM643 385h4v5h-4zM671 385h4v5h-4zM682 385h3v5h-3zM654 390h3v4h-3zM664 390h4v4h-4zM643 394h4v5h-4zM650 403h4v5h-4zM682 403h3v5h-3zM450 408h4v4h-4zM657 408h4v4h-4zM671 408h4v4h-4zM608 412h4v5h-4zM615 412h4v5h-4zM615 417h4v4h-4zM664 417h4v4h-4zM692 417h4v4h-4zM601 421h4v5h-4zM612 421h3v5h-3zM615 426h4v5h-4zM664 426h4v5h-4zM584 431h3v4h-3zM629 431h4v4h-4zM643 431h4v4h-4zM654 431h3v4h-3zM563 435h3v5h-3zM605 435h3v5h-3zM678 435h4v5h-4zM605 440h3v4h-3zM650 440h4v4h-4zM563 449h3v4h-3zM591 449h3v4h-3zM636 449h4v4h-4zM661 449h3v4h-3zM692 449h4v4h-4zM682 453h3v5h-3zM545 458h4v4h-4zM559 462h4v5h-4zM605 462h3v5h-3zM520 472h4v4h-4zM538 476h4v5h-4zM524 481h4v4h-4zM517 485h3v5h-3zM668 485h3v5h-3zM506 490h4v4h-4zM475 499h3v4h-3zM657 499h4v4h-4zM475 508h3v5h-3zM457 513h4v4h-4zM636 517h4v5h-4zM622 522h4v4h-4zM584 535h3v5h-3zM580 540h4v4h-4zM563 544h3v5h-3zM577 549h3v5h-3zM542 554h3v4h-3zM664 554h4v4h-4zM608 558h7v5h-7zM475 572h3v4h-3zM482 572h3v4h-3zM478 576h4v5h-4zM461 581h3v4h-3zM471 581h4v4h-4zM485 585h4v5h-4zM601 585h4v5h-4zM612 590h3v4h-3zM619 604h3v4h-3zM471 613h4v2h-4z"/><path fill="#ff6400" d="M499 370h4v1h-4zM650 370h4v1h-4zM657 370h4v1h-4zM671 370h4v1h-4zM580 371h4v5h-4zM675 371h3v5h-3zM643 380h4v5h-4zM661 385h3v5h-3zM689 385h3v5h-3zM605 390h3v4h-3zM675 390h7v4h-7zM636 394h4v5h-4zM675 403h3v5h-3zM629 408h7v4h-7zM661 408h3v4h-3zM689 408h3v4h-3zM566 421h4v5h-4zM605 421h3v5h-3zM619 421h3v5h-3zM657 421h4v5h-4zM573 426h4v5h-4zM629 426h4v5h-4zM689 426h3v5h-3zM657 431h4v4h-4zM671 431h4v4h-4zM573 435h4v5h-4zM682 435h3v5h-3zM591 440h3v4h-3zM636 440h4v4h-4zM661 440h3v4h-3zM682 440h3v4h-3zM559 444h4v5h-4zM573 444h4v5h-4zM671 444h4v5h-4zM619 449h3v4h-3zM549 458h3v4h-3zM573 458h4v4h-4zM535 467h3v5h-3zM668 467h3v5h-3zM531 472h4v4h-4zM499 476h4v5h-4zM664 485h4v5h-4zM643 490h4v4h-4zM524 494h4v5h-4zM685 494h4v5h-4zM471 499h4v4h-4zM591 499h3v4h-3zM643 503h4v5h-4zM471 508h4v5h-4zM626 508h3v5h-3zM450 513h4v4h-4zM647 513h3v4h-3zM584 526h7v5h-7zM573 531h4v4h-4zM598 531h3v4h-3zM605 531h3v4h-3zM461 544h3v5h-3zM542 544h3v5h-3zM528 549h3v5h-3zM549 554h3v4h-3zM517 558h3v5h-3zM535 558h3v5h-3zM647 563h3v4h-3zM496 567h3v5h-3zM468 581h3v4h-3zM587 590h4v4h-4zM577 594h3v5h-3zM461 599h3v5h-3z"/><path fill="#ff7a00" d="M615 371h4v5h-4zM643 371h4v5h-4zM647 376h3v4h-3zM668 376h7v4h-7zM636 385h4v5h-4zM654 385h7v5h-7zM570 390h3v4h-3zM503 399h3v4h-3zM640 399h7v4h-7zM689 399h3v4h-3zM496 412h3v5h-3zM605 417h3v4h-3zM654 417h3v4h-3zM664 421h4v5h-4zM678 421h4v5h-4zM594 426h4v5h-4zM608 426h4v5h-4zM622 426h7v5h-7zM692 426h4v5h-4zM608 431h4v4h-4zM559 435h4v5h-4zM657 435h4v5h-4zM671 435h4v5h-4zM619 440h3v4h-3zM692 440h4v4h-4zM528 444h3v5h-3zM685 444h4v5h-4zM559 449h4v4h-4zM664 453h4v5h-4zM654 458h3v4h-3zM661 472h3v4h-3zM675 472h3v4h-3zM682 472h3v4h-3zM689 476h3v5h-3zM478 494h4v5h-4zM468 499h3v4h-3zM633 499h3v4h-3zM450 503h4v5h-4zM492 503h4v5h-4zM640 503h3v5h-3zM461 508h3v5h-3zM594 522h7v4h-7zM626 522h3v4h-3zM573 526h4v5h-4zM559 535h4v5h-4zM640 535h3v5h-3zM566 544h4v5h-4zM471 558h4v5h-4zM499 567h4v5h-4zM506 572h4v4h-4zM475 576h3v5h-3zM499 576h4v5h-4zM640 576h3v5h-3zM492 581h4v4h-4zM619 581h3v4h-3zM559 594h4v5h-4zM664 599h4v5h-4z"/><path fill="#ffbc00" d="M682 371h3v5h-3zM689 371h3v5h-3zM682 376h3v4h-3zM664 380h4v5h-4zM675 385h3v5h-3zM682 394h3v5h-3zM689 394h3v5h-3zM654 399h3v4h-3zM685 403h4v5h-4zM650 412h4v5h-4zM647 431h3v4h-3zM692 431h4v4h-4zM601 444h4v5h-4zM478 449h4v4h-4zM675 449h7v4h-7zM668 458h3v4h-3zM678 458h4v4h-4zM675 467h3v5h-3zM692 467h4v5h-4zM661 490h3v4h-3zM633 544h3v5h-3zM594 549h4v5h-4zM457 572h4v4h-4zM468 613h3v2h-3z"/><path fill="#ffd300" d="M654 370h3v1h-3zM682 370h7v1h-7zM622 371h4v5h-4zM650 371h7v5h-7zM664 371h4v5h-4zM671 371h4v5h-4zM654 376h3v4h-3zM692 376h4v4h-4zM636 380h4v5h-4zM668 380h3v5h-3zM689 380h7v5h-7zM605 385h3v5h-3zM685 385h4v5h-4zM671 390h4v4h-4zM689 390h7v4h-7zM605 394h3v5h-3zM647 394h3v5h-3zM678 394h4v5h-4zM664 399h4v4h-4zM675 399h3v4h-3zM636 403h4v5h-4zM668 403h3v5h-3zM598 408h3v4h-3zM664 408h4v4h-4zM580 412h4v5h-4zM643 412h4v5h-4zM685 412h4v5h-4zM692 412h4v5h-4zM584 417h3v4h-3zM594 417h4v4h-4zM626 417h3v4h-3zM643 421h4v5h-4zM682 421h3v5h-3zM591 426h3v5h-3zM668 426h3v5h-3zM559 431h4v4h-4zM570 431h3v4h-3zM633 431h3v4h-3zM587 435h4v5h-4zM608 435h4v5h-4zM626 435h7v5h-7zM647 435h3v5h-3zM661 435h3v5h-3zM685 435h11v5h-11zM577 440h3v4h-3zM594 440h7v4h-7zM633 440h3v4h-3zM640 444h3v5h-3zM654 444h3v5h-3zM664 444h7v5h-7zM682 444h3v5h-3zM692 444h4v5h-4zM584 449h7v4h-7zM671 449h4v4h-4zM580 453h4v5h-4zM619 453h3v5h-3zM678 453h4v5h-4zM664 458h4v4h-4zM650 462h4v5h-4zM664 462h4v5h-4zM678 462h7v5h-7zM689 462h3v5h-3zM678 467h7v5h-7zM689 472h3v4h-3zM675 476h3v5h-3zM682 476h3v5h-3zM678 481h7v4h-7zM675 490h3v4h-3zM450 522h4v4h-4zM612 535h3v5h-3zM615 544h4v5h-4zM612 554h3v4h-3zM538 558h4v5h-4zM622 563h4v4h-4zM563 567h3v5h-3zM601 572h4v4h-4zM633 572h3v4h-3zM612 576h3v5h-3zM549 581h3v4h-3zM587 581h4v4h-4zM647 581h3v4h-3zM629 585h4v5h-4zM619 590h3v4h-3zM594 604h4v4h-4z"/><path fill="#ffe900" d="M636 370h4v1h-4zM643 370h4v1h-4zM675 370h7v1h-7zM692 371h4v5h-4zM636 376h4v4h-4zM657 376h4v4h-4zM664 376h4v4h-4zM650 380h7v5h-7zM626 385h3v5h-3zM650 385h4v5h-4zM615 390h4v4h-4zM633 394h3v5h-3zM640 394h3v5h-3zM668 394h3v5h-3zM633 399h3v4h-3zM650 399h4v4h-4zM678 399h4v4h-4zM692 399h4v4h-4zM626 403h3v5h-3zM633 403h3v5h-3zM678 403h4v5h-4zM692 403h4v5h-4zM520 408h4v4h-4zM675 408h7v4h-7zM685 408h4v4h-4zM587 412h4v5h-4zM601 412h4v5h-4zM619 412h3v5h-3zM678 412h7v5h-7zM556 417h3v4h-3zM612 417h3v4h-3zM650 417h4v4h-4zM668 417h7v4h-7zM682 417h7v4h-7zM535 421h3v5h-3zM689 421h3v5h-3zM601 426h7v5h-7zM675 426h3v5h-3zM580 431h4v4h-4zM591 431h3v4h-3zM612 431h10v4h-10zM682 431h3v4h-3zM584 435h3v5h-3zM615 435h11v5h-11zM636 435h4v5h-4zM664 435h4v5h-4zM601 440h4v4h-4zM622 440h4v4h-4zM664 440h4v4h-4zM671 440h4v4h-4zM689 440h3v4h-3zM563 444h3v5h-3zM577 444h3v5h-3zM675 444h3v5h-3zM573 449h4v4h-4zM612 449h7v4h-7zM682 449h3v4h-3zM570 453h3v5h-3zM563 458h3v4h-3zM591 458h3v4h-3zM689 458h3v4h-3zM552 462h7v5h-7zM671 462h7v5h-7zM685 462h4v5h-4zM538 467h4v5h-4zM545 467h4v5h-4zM643 467h4v5h-4zM650 467h4v5h-4zM657 467h4v5h-4zM671 467h4v5h-4zM689 467h3v5h-3zM528 472h3v4h-3zM535 472h7v4h-7zM647 472h10v4h-10zM520 476h8v5h-8zM647 476h3v5h-3zM654 476h3v5h-3zM671 476h4v5h-4zM685 476h4v5h-4zM513 481h4v4h-4zM685 481h11v4h-11zM503 485h3v5h-3zM510 485h3v5h-3zM661 485h3v5h-3zM671 485h4v5h-4zM692 485h4v5h-4zM496 490h7v4h-7zM671 490h4v4h-4zM689 490h7v4h-7zM647 494h7v5h-7zM661 494h3v5h-3zM682 494h3v5h-3zM692 494h4v5h-4zM482 499h10v4h-10zM636 499h11v4h-11zM650 499h4v4h-4zM661 499h3v4h-3zM668 499h7v4h-7zM678 499h4v4h-4zM457 503h4v5h-4zM468 503h3v5h-3zM475 503h3v5h-3zM629 503h4v5h-4zM636 503h4v5h-4zM650 503h14v5h-14zM668 503h7v5h-7zM678 503h7v5h-7zM450 508h4v5h-4zM457 508h4v5h-4zM492 508h4v5h-4zM629 508h4v5h-4zM647 508h3v5h-3zM654 508h3v5h-3zM668 508h3v5h-3zM629 513h4v4h-4zM640 513h7v4h-7zM650 513h4v4h-4zM661 513h3v4h-3zM615 517h11v5h-11zM633 517h3v5h-3zM643 517h4v5h-4zM601 522h4v4h-4zM608 522h4v4h-4zM591 526h3v5h-3zM601 526h4v5h-4zM580 531h11v4h-11zM570 535h3v5h-3zM577 535h7v5h-7zM633 535h3v5h-3zM563 540h3v4h-3zM545 544h4v5h-4zM538 549h4v5h-4zM545 549h7v5h-7zM692 549h4v5h-4zM528 554h3v4h-3zM535 554h7v4h-7zM520 558h8v5h-8zM531 558h4v5h-4zM513 563h4v4h-4zM520 563h4v4h-4zM577 563h3v4h-3zM503 567h3v5h-3zM510 567h7v5h-7zM499 572h4v4h-4zM559 572h4v4h-4zM489 576h3v5h-3zM475 581h3v4h-3zM450 590h4v4h-4zM464 590h4v4h-4zM626 590h3v4h-3zM647 590h7v4h-7zM661 590h3v4h-3zM668 590h10v4h-10zM685 590h7v4h-7zM450 594h4v5h-4zM457 594h11v5h-11zM485 594h4v5h-4zM626 594h7v5h-7zM636 594h11v5h-11zM650 594h4v5h-4zM657 594h11v5h-11zM675 594h3v5h-3zM682 594h3v5h-3zM689 594h7v5h-7zM668 604h3v4h-3zM682 604h3v4h-3zM636 608h4v5h-4zM643 608h4v5h-4zM692 613h4v2h-4z"/><path fill="#ffff00" d="M647 370h3v1h-3zM664 370h4v1h-4zM661 371h3v5h-3zM675 376h7v4h-7zM689 376h3v4h-3zM685 380h4v5h-4zM629 390h4v4h-4zM643 390h11v4h-11zM636 399h4v4h-4zM647 399h3v4h-3zM668 399h3v4h-3zM640 403h3v5h-3zM594 408h4v4h-4zM622 408h4v4h-4zM622 412h4v5h-4zM668 412h3v5h-3zM675 412h3v5h-3zM678 417h4v4h-4zM689 417h3v4h-3zM450 426h4v5h-4zM671 426h4v5h-4zM678 426h7v5h-7zM598 431h7v4h-7zM640 431h3v4h-3zM640 435h3v5h-3zM668 435h3v5h-3zM675 435h3v5h-3zM587 440h4v4h-4zM675 440h7v4h-7zM570 444h3v5h-3zM580 444h7v5h-7zM678 444h4v5h-4zM570 449h3v4h-3zM577 449h3v4h-3zM664 449h4v4h-4zM657 453h4v5h-4zM559 458h4v4h-4zM685 458h4v4h-4zM549 462h3v5h-3zM542 467h3v5h-3zM664 467h4v5h-4zM517 476h3v5h-3zM517 481h3v4h-3zM506 485h4v5h-4zM675 485h17v5h-17zM503 490h3v4h-3zM647 490h3v4h-3zM668 490h3v4h-3zM678 490h11v4h-11zM492 494h7v5h-7zM654 494h7v5h-7zM664 494h18v5h-18zM647 499h3v4h-3zM654 499h3v4h-3zM664 499h4v4h-4zM675 499h3v4h-3zM682 499h3v4h-3zM692 499h4v4h-4zM461 503h7v5h-7zM471 503h4v5h-4zM478 503h4v5h-4zM633 503h3v5h-3zM647 503h3v5h-3zM675 503h3v5h-3zM685 503h7v5h-7zM454 508h3v5h-3zM636 508h11v5h-11zM650 508h4v5h-4zM657 508h4v5h-4zM675 508h3v5h-3zM626 513h3v4h-3zM633 513h7v4h-7zM654 513h3v4h-3zM664 513h4v4h-4zM626 517h3v5h-3zM657 517h4v5h-4zM605 522h3v4h-3zM612 522h7v4h-7zM605 526h3v5h-3zM591 531h3v4h-3zM573 535h4v5h-4zM556 540h7v4h-7zM566 540h7v4h-7zM549 544h3v5h-3zM556 544h7v5h-7zM573 549h4v5h-4zM601 549h4v5h-4zM664 549h4v5h-4zM528 558h3v5h-3zM510 563h3v4h-3zM517 563h3v4h-3zM506 567h4v5h-4zM492 572h7v4h-7zM482 576h3v5h-3zM492 576h4v5h-4zM482 581h7v4h-7zM468 585h7v5h-7zM457 590h7v4h-7zM468 590h3v4h-3zM622 590h4v4h-4zM643 590h4v4h-4zM692 590h4v4h-4zM454 594h3v5h-3zM622 594h4v5h-4zM633 594h3v5h-3zM647 594h3v5h-3zM668 594h3v5h-3zM678 594h4v5h-4zM454 599h3v5h-3z"/></g>
<text transform="translate(0.68 384.06) scale(1.0152 1.0231)" x="0" y="0" font-size="30" fill="#000" font-family="Liberation Serif">(b)</text>
<rect x="98.3" y="368.6" width="244.6" height="244.6" fill="none" stroke="#000" stroke-width="3"/>
<line x1="98.3" y1="395.6" x2="113.8" y2="395.6" stroke="#000" stroke-width="2.5" />
<line x1="342.9" y1="395.6" x2="327.4" y2="395.6" stroke="#000" stroke-width="2.5" />
<text transform="translate(44.61 404.50) scale(0.9905 0.9706)" x="0" y="0" font-size="25" fill="#000" font-family="Liberation Serif">0.55</text>
<line x1="98.3" y1="464.0" x2="113.8" y2="464.0" stroke="#000" stroke-width="2.5" />
<line x1="342.9" y1="464.0" x2="327.4" y2="464.0" stroke="#000" stroke-width="2.5" />
<text transform="translate(44.61 472.90) scale(0.9905 0.9706)" x="0" y="0" font-size="25" fill="#000" font-family="Liberation Serif">0.50</text>
<line x1="98.3" y1="532.0" x2="113.8" y2="532.0" stroke="#000" stroke-width="2.5" />
<line x1="342.9" y1="532.0" x2="327.4" y2="532.0" stroke="#000" stroke-width="2.5" />
<text transform="translate(44.61 540.90) scale(0.9905 0.9706)" x="0" y="0" font-size="25" fill="#000" font-family="Liberation Serif">0.45</text>
<line x1="98.3" y1="599.8" x2="113.8" y2="599.8" stroke="#000" stroke-width="2.5" />
<line x1="342.9" y1="599.8" x2="327.4" y2="599.8" stroke="#000" stroke-width="2.5" />
<text transform="translate(44.61 608.70) scale(0.9905 0.9706)" x="0" y="0" font-size="25" fill="#000" font-family="Liberation Serif">0.40</text>
<line x1="98.8" y1="368.6" x2="98.8" y2="384.0" stroke="#000" stroke-width="2.5" />
<line x1="98.8" y1="613.2" x2="98.8" y2="597.4" stroke="#000" stroke-width="2.5" />
<line x1="197.3" y1="368.6" x2="197.3" y2="384.0" stroke="#000" stroke-width="2.5" />
<line x1="197.3" y1="613.2" x2="197.3" y2="597.4" stroke="#000" stroke-width="2.5" />
<line x1="295.7" y1="368.6" x2="295.7" y2="384.0" stroke="#000" stroke-width="2.5" />
<line x1="295.7" y1="613.2" x2="295.7" y2="597.4" stroke="#000" stroke-width="2.5" />
<text transform="translate(73.98 646.20) scale(1.0208 0.9471)" x="0" y="0" font-size="25" fill="#000" font-family="Liberation Serif">2800</text>
<text transform="translate(172.59 646.20) scale(1.0125 0.9471)" x="0" y="0" font-size="25" fill="#000" font-family="Liberation Serif">3000</text>
<g transform="translate(25.30 543.80) rotate(-90)">
<text transform="translate(0.00 0.00) scale(0.9857 0.9800)" x="0" y="0" font-size="24" fill="#000" font-family="Liberation Serif" font-style="italic">B</text>
<text transform="translate(12.71 7.90) scale(1.0850 1.0778)" x="0" y="0" font-size="17" fill="#000" font-family="Liberation Serif">ext</text>
<text transform="translate(41.56 0.75) scale(1.0379 0.9905)" x="0" y="0" font-size="24" fill="#000" font-family="Liberation Serif">(T)</text>
</g>
<text transform="translate(112.10 684.38) scale(1.0238 1.0238)" x="0" y="0" font-size="24" fill="#000" font-family="Liberation Serif" font-style="italic">f</text>
<text transform="translate(121.64 690.10) scale(1.0567 0.9818)" x="0" y="0" font-size="17" fill="#000" font-family="Liberation Serif">ESR</text>
<text transform="translate(160.91 686.44) scale(0.9921 1.1714)" x="0" y="0" font-size="24" fill="#000" font-family="Liberation Serif">(MHz)</text>
<defs><linearGradient id="g270" x1="0" x2="1" y1="0" y2="0"><stop offset="0" stop-color="#ffff00"/><stop offset="0.5" stop-color="#ff0000"/><stop offset="1" stop-color="#000000"/></linearGradient></defs>
<rect x="270.3" y="625.6" width="77.5" height="10.0" fill="url(#g270)" stroke="#000" stroke-width="2.1"/>
<line x1="297.3" y1="636.2" x2="297.3" y2="639.0" stroke="#000" stroke-width="2" />
<line x1="344.2" y1="636.2" x2="344.2" y2="639.0" stroke="#000" stroke-width="2" />
<text transform="translate(276.99 661.60) scale(1.0081 1.0214)" x="0" y="0" font-size="22" fill="#000" font-family="Liberation Serif">0.95</text>
<text transform="translate(326.13 661.60) scale(1.0361 1.0214)" x="0" y="0" font-size="22" fill="#000" font-family="Liberation Serif">1.00</text>
<text transform="translate(298.80 691.00) scale(0.9714 0.9714)" x="0" y="0" font-size="22" fill="#000" font-family="Liberation Serif" font-style="italic">P</text>
<text transform="translate(308.97 695.30) scale(1.2286 0.9727)" x="0" y="0" font-size="16" fill="#000" font-family="Liberation Serif">S</text>
<text transform="translate(147.77 460.65) scale(1.0341 1.0341)" x="0" y="0" font-size="30" fill="#fff" font-family="Liberation Serif">QD</text>
<text transform="translate(193.10 468.70) scale(0.8000 0.9714)" x="0" y="0" font-size="20" fill="#fff" font-family="Liberation Serif">1</text>
<text transform="translate(222.19 563.24) scale(1.0073 1.0073)" x="0" y="0" font-size="30" fill="#fff" font-family="Liberation Serif">QD</text>
<text transform="translate(266.25 571.10) scale(1.1500 0.9429)" x="0" y="0" font-size="20" fill="#fff" font-family="Liberation Serif">2</text>
<text transform="translate(354.96 384.13) scale(1.0364 1.0115)" x="0" y="0" font-size="30" fill="#000" font-family="Liberation Serif">(d)</text>
<rect x="449.5" y="369.5" width="246.5" height="245.5" fill="none" stroke="#000" stroke-width="1.5"/>
<line x1="449.5" y1="425.3" x2="462.0" y2="425.3" stroke="#000" stroke-width="1.5" />
<line x1="696.0" y1="425.3" x2="683.0" y2="425.3" stroke="#000" stroke-width="1.5" />
<text transform="translate(397.60 433.50) scale(1.0000 0.9647)" x="0" y="0" font-size="25" fill="#000" font-family="Liberation Serif">0.50</text>
<line x1="449.5" y1="493.2" x2="462.0" y2="493.2" stroke="#000" stroke-width="1.5" />
<line x1="696.0" y1="493.2" x2="683.0" y2="493.2" stroke="#000" stroke-width="1.5" />
<text transform="translate(397.60 501.40) scale(1.0000 0.9647)" x="0" y="0" font-size="25" fill="#000" font-family="Liberation Serif">0.45</text>
<line x1="449.5" y1="561.5" x2="462.0" y2="561.5" stroke="#000" stroke-width="1.5" />
<line x1="696.0" y1="561.5" x2="683.0" y2="561.5" stroke="#000" stroke-width="1.5" />
<text transform="translate(397.60 569.70) scale(1.0000 0.9647)" x="0" y="0" font-size="25" fill="#000" font-family="Liberation Serif">0.40</text>
<line x1="451.6" y1="369.5" x2="451.6" y2="382.0" stroke="#000" stroke-width="1.5" />
<line x1="451.6" y1="615.0" x2="451.6" y2="602.0" stroke="#000" stroke-width="1.5" />
<line x1="549.8" y1="369.5" x2="549.8" y2="382.0" stroke="#000" stroke-width="1.5" />
<line x1="549.8" y1="615.0" x2="549.8" y2="602.0" stroke="#000" stroke-width="1.5" />
<line x1="648.0" y1="369.5" x2="648.0" y2="382.0" stroke="#000" stroke-width="1.5" />
<line x1="648.0" y1="615.0" x2="648.0" y2="602.0" stroke="#000" stroke-width="1.5" />
<text transform="translate(426.70 646.70) scale(0.9958 0.9412)" x="0" y="0" font-size="25" fill="#000" font-family="Liberation Serif">2800</text>
<text transform="translate(524.38 646.70) scale(1.0167 0.9412)" x="0" y="0" font-size="25" fill="#000" font-family="Liberation Serif">3000</text>
<g transform="translate(380.30 527.90) rotate(-90)">
<text transform="translate(0.00 0.00) scale(0.9857 0.9800)" x="0" y="0" font-size="24" fill="#000" font-family="Liberation Serif" font-style="italic">B</text>
<text transform="translate(12.71 7.90) scale(1.0850 1.0778)" x="0" y="0" font-size="17" fill="#000" font-family="Liberation Serif">ext</text>
<text transform="translate(41.56 0.75) scale(1.0379 0.9905)" x="0" y="0" font-size="24" fill="#000" font-family="Liberation Serif">(T)</text>
</g>
<text transform="translate(464.70 683.48) scale(1.0238 1.0238)" x="0" y="0" font-size="24" fill="#000" font-family="Liberation Serif" font-style="italic">f</text>
<text transform="translate(474.49 689.00) scale(1.0067 0.9727)" x="0" y="0" font-size="17" fill="#000" font-family="Liberation Serif">ESR</text>
<text transform="translate(513.30 685.50) scale(0.9984 1.1810)" x="0" y="0" font-size="24" fill="#000" font-family="Liberation Serif">(MHz)</text>
<defs><linearGradient id="g618" x1="0" x2="1" y1="0" y2="0"><stop offset="0" stop-color="#ffff00"/><stop offset="0.5" stop-color="#ff0000"/><stop offset="1" stop-color="#000000"/></linearGradient></defs>
<rect x="618.6" y="627.7" width="101.4" height="11.1" fill="url(#g618)" stroke="#000" stroke-width="2.1"/>
<line x1="620.7" y1="639.4" x2="620.7" y2="642.0" stroke="#000" stroke-width="2" />
<line x1="663.7" y1="639.4" x2="663.7" y2="642.0" stroke="#000" stroke-width="2" />
<text transform="translate(600.97 663.80) scale(1.0270 1.0214)" x="0" y="0" font-size="22" fill="#000" font-family="Liberation Serif">0.96</text>
<text transform="translate(643.97 663.80) scale(1.0270 1.0214)" x="0" y="0" font-size="22" fill="#000" font-family="Liberation Serif">0.98</text>
<text transform="translate(646.50 693.20) scale(0.9714 0.9714)" x="0" y="0" font-size="22" fill="#000" font-family="Liberation Serif" font-style="italic">P</text>
<text transform="translate(659.52 697.80) scale(0.9727 0.9727)" x="0" y="0" font-size="16" fill="#000" font-family="Liberation Serif">S</text>
<text transform="translate(501.73 433.84) scale(1.0707 1.0707)" x="0" y="0" font-size="30" fill="#fff" font-family="Liberation Serif">QD</text>
<text transform="translate(548.51 440.60) scale(0.9429 0.9429)" x="0" y="0" font-size="20" fill="#fff" font-family="Liberation Serif">3</text>
<text transform="translate(574.33 580.10) scale(1.0683 1.0683)" x="0" y="0" font-size="30" fill="#fff" font-family="Liberation Serif">QD</text>
<text transform="translate(620.07 585.90) scale(0.9429 0.9429)" x="0" y="0" font-size="20" fill="#fff" font-family="Liberation Serif">4</text>
<line x1="114.5" y1="736.2" x2="626.3" y2="736.2" stroke="#000" stroke-width="2.2"/>
<line x1="113.4" y1="938" x2="626.3" y2="938" stroke="#000" stroke-width="2.2"/>
<line x1="114.5" y1="736" x2="114.5" y2="922" stroke="#ff0000" stroke-width="2.2"/>
<line x1="114.5" y1="922" x2="114.5" y2="939" stroke="#000" stroke-width="2.2"/>
<line x1="626.3" y1="735.1" x2="626.3" y2="939" stroke="#0040ff" stroke-width="2.2"/>
<line x1="114.5" y1="825.5" x2="130" y2="825.5" stroke="#ff0000" stroke-width="2.2"/>
<line x1="612" y1="786.4" x2="626.3" y2="786.4" stroke="#0040ff" stroke-width="2.2"/>
<line x1="610.5" y1="887.5" x2="626.3" y2="887.5" stroke="#0040ff" stroke-width="2.2"/>
<line x1="214.8" y1="922.5" x2="214.8" y2="938" stroke="#000" stroke-width="2.2"/>
<line x1="214.8" y1="736.2" x2="214.8" y2="751" stroke="#000" stroke-width="2.2"/>
<line x1="316.0" y1="922.5" x2="316.0" y2="938" stroke="#000" stroke-width="2.2"/>
<line x1="316.0" y1="736.2" x2="316.0" y2="751" stroke="#000" stroke-width="2.2"/>
<line x1="417.3" y1="922.5" x2="417.3" y2="938" stroke="#000" stroke-width="2.2"/>
<line x1="417.3" y1="736.2" x2="417.3" y2="751" stroke="#000" stroke-width="2.2"/>
<line x1="518.3" y1="922.5" x2="518.3" y2="938" stroke="#000" stroke-width="2.2"/>
<line x1="518.3" y1="736.2" x2="518.3" y2="751" stroke="#000" stroke-width="2.2"/>
<line x1="619.3" y1="922.5" x2="619.3" y2="938" stroke="#000" stroke-width="2.2"/>
<line x1="619.3" y1="736.2" x2="619.3" y2="751" stroke="#000" stroke-width="2.2"/>
<path d="M114.5 746.3 L115.5 746.3 L116.5 746.3 L117.5 746.3 L118.5 746.3 L119.5 746.3 L120.5 746.3 L121.5 746.3 L122.5 746.3 L123.5 746.3 L124.5 746.3 L125.5 746.3 L126.5 746.3 L127.5 746.3 L128.5 746.3 L129.5 746.3 L130.5 746.3 L131.5 746.3 L132.5 746.3 L133.5 746.3 L134.5 746.3 L135.5 746.3 L136.5 746.3 L137.5 746.3 L138.5 746.3 L139.5 746.3 L140.5 746.3 L141.5 746.4 L142.5 746.6 L143.5 746.9 L144.5 747.2 L145.5 747.7 L146.5 748.2 L147.5 748.7 L148.5 749.4 L149.5 750.0 L150.5 750.8 L151.5 751.5 L152.5 752.3 L153.5 753.2 L154.5 754.0 L155.5 755.0 L156.5 756.3 L157.5 757.9 L158.5 759.7 L159.5 761.7 L160.5 763.7 L161.5 765.9 L162.5 768.0 L163.5 770.2 L164.5 772.7 L165.5 775.5 L166.5 778.9 L167.5 783.5 L168.5 790.0 L169.5 797.7 L170.5 805.9 L171.5 815.4 L172.5 825.4 L173.5 834.2 L174.5 842.4 L175.5 850.0 L176.5 856.5 L177.5 862.5 L178.5 868.1 L179.5 873.3 L180.5 878.1 L181.5 882.4 L182.5 886.1 L183.5 889.8 L184.5 893.5 L185.5 897.1 L186.5 900.4 L187.5 903.2 L188.5 905.3 L189.5 906.7 L190.5 907.0 L191.5 905.6 L192.5 902.8 L193.5 898.8 L194.5 894.2 L195.5 889.5 L196.5 885.0 L197.5 880.4 L198.5 875.4 L199.5 870.0 L200.5 864.3 L201.5 858.5 L202.5 852.6 L203.5 846.6 L204.5 840.2 L205.5 833.3 L206.5 826.4 L207.5 820.1 L208.5 814.6 L209.5 810.2 L210.5 806.3 L211.5 802.7 L212.5 798.9 L213.5 794.5 L214.5 789.1 L215.5 783.2 L216.5 778.0 L217.5 773.9 L218.5 770.2 L219.5 766.7 L220.5 763.5 L221.5 760.6 L222.5 758.2 L223.5 756.2 L224.5 754.5 L225.5 752.8 L226.5 751.3 L227.5 749.9 L228.5 748.6 L229.5 747.6 L230.5 746.9 L231.5 746.4 L232.5 746.3 L233.5 746.3 L234.5 746.3 L235.5 746.3 L236.5 746.3 L237.5 746.3 L238.5 746.3 L239.5 746.3 L240.5 746.3 L241.5 746.3 L242.5 746.3 L243.5 746.3 L244.5 746.3 L245.5 746.3 L246.5 746.3 L247.5 746.3 L248.5 746.3 L249.5 746.3 L250.5 746.3 L251.5 746.3 L252.5 746.3 L253.5 746.3 L254.5 746.3 L255.5 746.3 L256.5 746.3 L257.5 746.3 L258.5 746.3 L259.5 746.3 L260.5 746.3 L261.5 746.3 L262.5 746.3 L263.5 746.3 L264.5 746.3 L265.5 746.3 L266.5 746.3 L267.5 746.3 L268.5 746.3 L269.5 746.3 L270.5 746.3 L271.5 746.3 L272.5 746.3 L273.5 746.3 L274.5 746.3 L275.5 746.3 L276.5 746.3 L277.5 746.3 L278.5 746.3 L279.5 746.3 L280.5 746.3 L281.5 746.3 L282.5 746.3 L283.5 746.3 L284.5 746.3 L285.5 746.3 L286.5 746.3 L287.5 746.3 L288.5 746.3 L289.5 746.3 L290.5 746.3 L291.5 746.3 L292.5 746.3 L293.5 746.3 L294.5 746.3 L295.5 746.3 L296.5 746.3 L297.5 746.3 L298.5 746.3 L299.5 746.3 L300.5 746.3 L301.5 746.3 L302.5 746.3 L303.5 746.3 L304.5 746.3 L305.5 746.3 L306.5 746.3 L307.5 746.3 L308.5 746.3 L309.5 746.3 L310.5 746.3 L311.5 746.3 L312.5 746.3 L313.5 746.3 L314.5 746.3 L315.5 746.3 L316.5 746.3 L317.5 746.3 L318.5 746.3 L319.5 746.3 L320.5 746.3 L321.5 746.3 L322.5 746.3 L323.5 746.3 L324.5 746.3 L325.5 746.3 L326.5 746.3 L327.5 746.3 L328.5 746.3 L329.5 746.3 L330.5 746.3 L331.5 746.3 L332.5 746.3 L333.5 746.3 L334.5 746.3 L335.5 746.3 L336.5 746.3 L337.5 746.3 L338.5 746.3 L339.5 746.3 L340.5 746.3 L341.5 746.3 L342.5 746.3 L343.5 746.3 L344.5 746.3 L345.5 746.3 L346.5 746.3 L347.5 746.3 L348.5 746.3 L349.5 746.3 L350.5 746.3 L351.5 746.3 L352.5 746.3 L353.5 746.3 L354.5 746.3 L355.5 746.3 L356.5 746.3 L357.5 746.3 L358.5 746.3 L359.5 746.3 L360.5 746.3 L361.5 746.3 L362.5 746.3 L363.5 746.3 L364.5 746.3 L365.5 746.3 L366.5 746.3 L367.5 746.3 L368.5 746.3 L369.5 746.3 L370.5 746.3 L371.5 746.3 L372.5 746.3 L373.5 746.3 L374.5 746.3 L375.5 746.3 L376.5 746.3 L377.5 746.3 L378.5 746.3 L379.5 746.3 L380.5 746.3 L381.5 746.3 L382.5 746.3 L383.5 746.3 L384.5 746.3 L385.5 746.3 L386.5 746.3 L387.5 746.3 L388.5 746.3 L389.5 746.3 L390.5 746.3 L391.5 746.3 L392.5 746.3 L393.5 746.3 L394.5 746.3 L395.5 746.3 L396.5 746.3 L397.5 746.3 L398.5 746.3 L399.5 746.3 L400.5 746.3 L401.5 746.3 L402.5 746.3 L403.5 746.3 L404.5 746.3 L405.5 746.3 L406.5 746.3 L407.5 746.3 L408.5 746.3 L409.5 746.3 L410.5 746.3 L411.5 746.3 L412.5 746.3 L413.5 746.3 L414.5 746.3 L415.5 746.3 L416.5 746.3 L417.5 746.3 L418.5 746.3 L419.5 746.3 L420.5 746.3 L421.5 746.3 L422.5 746.3 L423.5 746.3 L424.5 746.3 L425.5 746.3 L426.5 746.3 L427.5 746.3 L428.5 746.3 L429.5 746.3 L430.5 746.3 L431.5 746.3 L432.5 746.3 L433.5 746.3 L434.5 746.3 L435.5 746.3 L436.5 746.3 L437.5 746.3 L438.5 746.3 L439.5 746.3 L440.5 746.3 L441.5 746.3 L442.5 746.3 L443.5 746.3 L444.5 746.3 L445.5 746.3 L446.5 746.3 L447.5 746.3 L448.5 746.3 L449.5 746.3 L450.5 746.3 L451.5 746.3 L452.5 746.3 L453.5 746.3 L454.5 746.4 L455.5 746.4 L456.5 746.5 L457.5 746.6 L458.5 746.8 L459.5 746.9 L460.5 747.1 L461.5 747.3 L462.5 747.5 L463.5 747.8 L464.5 748.1 L465.5 748.3 L466.5 748.6 L467.5 749.0 L468.5 749.3 L469.5 749.7 L470.5 750.1 L471.5 750.5 L472.5 750.9 L473.5 751.7 L474.5 752.7 L475.5 754.1 L476.5 755.7 L477.5 757.5 L478.5 759.5 L479.5 761.7 L480.5 763.9 L481.5 766.4 L482.5 769.7 L483.5 773.4 L484.5 777.5 L485.5 781.7 L486.5 786.5 L487.5 791.6 L488.5 796.8 L489.5 801.9 L490.5 807.1 L491.5 812.4 L492.5 817.6 L493.5 822.6 L494.5 827.7 L495.5 832.7 L496.5 837.6 L497.5 842.2 L498.5 846.4 L499.5 850.8 L500.5 855.3 L501.5 859.8 L502.5 864.2 L503.5 868.2 L504.5 871.7 L505.5 874.4 L506.5 876.3 L507.5 877.0 L508.5 876.3 L509.5 874.3 L510.5 871.0 L511.5 867.0 L512.5 862.3 L513.5 857.5 L514.5 852.8 L515.5 848.3 L516.5 843.7 L517.5 838.6 L518.5 833.3 L519.5 827.9 L520.5 822.9 L521.5 818.2 L522.5 813.9 L523.5 809.8 L524.5 805.8 L525.5 801.9 L526.5 798.1 L527.5 794.2 L528.5 790.3 L529.5 786.2 L530.5 782.2 L531.5 778.4 L532.5 774.8 L533.5 771.5 L534.5 768.6 L535.5 765.7 L536.5 762.8 L537.5 760.1 L538.5 757.7 L539.5 755.6 L540.5 754.0 L541.5 752.9 L542.5 752.2 L543.5 751.5 L544.5 750.8 L545.5 750.3 L546.5 749.7 L547.5 749.3 L548.5 748.9 L549.5 748.5 L550.5 748.2 L551.5 747.9 L552.5 747.6 L553.5 747.4 L554.5 747.3 L555.5 747.1 L556.5 747.0 L557.5 746.8 L558.5 746.7 L559.5 746.6 L560.5 746.5 L561.5 746.4 L562.5 746.4 L563.5 746.3 L564.5 746.3 L565.5 746.3 L566.5 746.3 L567.5 746.3 L568.5 746.3 L569.5 746.3 L570.5 746.3 L571.5 746.3 L572.5 746.3 L573.5 746.3 L574.5 746.3 L575.5 746.3 L576.5 746.3 L577.5 746.3 L578.5 746.3 L579.5 746.3 L580.5 746.3 L581.5 746.3 L582.5 746.3" fill="none" stroke="#0040ff" stroke-width="2.2" stroke-linejoin="round"/>
<path d="M340.0 750.5 L341.0 750.5 L342.0 750.5 L343.0 750.5 L344.0 750.5 L345.0 750.5 L346.0 750.5 L347.0 750.5 L348.0 750.5 L349.0 750.5 L350.0 750.5 L351.0 750.5 L352.0 750.5 L353.0 750.5 L354.0 750.5 L355.0 750.5 L356.0 750.5 L357.0 750.5 L358.0 750.5 L359.0 750.5 L360.0 750.5 L361.0 750.5 L362.0 750.5 L363.0 750.5 L364.0 750.5 L365.0 750.5 L366.0 750.5 L367.0 750.5 L368.0 750.5 L369.0 750.5 L370.0 750.5 L371.0 750.5 L372.0 750.5 L373.0 750.5 L374.0 750.5 L375.0 750.5 L376.0 750.5 L377.0 750.5 L378.0 750.5 L379.0 750.5 L380.0 750.5 L381.0 750.5 L382.0 750.5 L383.0 750.5 L384.0 750.5 L385.0 750.5 L386.0 750.5 L387.0 750.5 L388.0 750.5 L389.0 750.7 L390.0 751.4 L391.0 752.5 L392.0 754.0 L393.0 755.7 L394.0 757.8 L395.0 760.0 L396.0 763.6 L397.0 769.2 L398.0 776.3 L399.0 784.3 L400.0 792.6 L401.0 801.1 L402.0 811.2 L403.0 821.9 L404.0 832.3 L405.0 841.9 L406.0 851.8 L407.0 861.3 L408.0 870.1 L409.0 877.5 L410.0 883.7 L411.0 889.9 L412.0 895.5 L413.0 899.7 L414.0 901.9 L415.0 901.4 L416.0 898.6 L417.0 894.0 L418.0 888.1 L419.0 881.5 L420.0 872.5 L421.0 858.4 L422.0 844.5 L423.0 834.6 L424.0 826.2 L425.0 818.5 L426.0 811.4 L427.0 804.6 L428.0 797.8 L429.0 790.6 L430.0 782.9 L431.0 775.5 L432.0 769.2 L433.0 765.0 L434.0 762.2 L435.0 759.7 L436.0 757.3 L437.0 755.2 L438.0 753.5 L439.0 752.1 L440.0 751.1 L441.0 750.6 L442.0 750.5 L443.0 750.5 L444.0 750.5 L445.0 750.5 L446.0 750.5 L447.0 750.5 L448.0 750.5 L449.0 750.5 L450.0 750.5 L451.0 750.5 L452.0 750.5 L453.0 750.5 L454.0 750.5 L455.0 750.5 L456.0 750.5 L457.0 750.5 L458.0 750.5 L459.0 750.5 L460.0 750.5 L461.0 750.5 L462.0 750.5 L463.0 750.5 L464.0 750.5 L465.0 750.5 L466.0 750.5 L467.0 750.5 L468.0 750.5 L469.0 750.5 L470.0 750.5 L471.0 750.5 L472.0 750.5 L473.0 750.5 L474.0 750.5 L475.0 750.5 L476.0 750.5 L477.0 750.5 L478.0 750.5 L479.0 750.5 L480.0 750.5 L481.0 750.5 L482.0 750.5 L483.0 750.5 L484.0 750.5 L485.0 750.5 L486.0 750.5 L487.0 750.5 L488.0 750.5 L489.0 750.5 L490.0 750.5 L491.0 750.5 L492.0 750.5 L493.0 750.5 L494.0 750.5 L495.0 750.5 L496.0 750.5 L497.0 750.5 L498.0 750.5 L499.0 750.5 L500.0 750.5 L501.0 750.5 L502.0 750.5 L503.0 750.5 L504.0 750.5 L505.0 750.5 L506.0 750.5 L507.0 750.5 L508.0 750.5 L509.0 750.5 L510.0 750.5 L511.0 750.5 L512.0 750.5 L513.0 750.5 L514.0 750.5 L515.0 750.5 L516.0 750.5 L517.0 750.5 L518.0 750.5 L519.0 750.5 L520.0 750.5 L521.0 750.5 L522.0 750.5 L523.0 750.5 L524.0 750.5 L525.0 750.5 L526.0 750.8 L527.0 751.7 L528.0 753.1 L529.0 754.9 L530.0 757.1 L531.0 759.6 L532.0 762.2 L533.0 765.0 L534.0 768.6 L535.0 773.4 L536.0 779.2 L537.0 785.6 L538.0 792.3 L539.0 799.2 L540.0 807.0 L541.0 815.5 L542.0 824.9 L543.0 835.9 L544.0 847.6 L545.0 858.7 L546.0 868.2 L547.0 875.6 L548.0 882.8 L549.0 889.8 L550.0 896.5 L551.0 902.7 L552.0 908.0 L553.0 912.3 L554.0 915.3 L555.0 916.9 L556.0 916.4 L557.0 913.0 L558.0 907.3 L559.0 900.2 L560.0 892.2 L561.0 884.4 L562.0 876.7 L563.0 867.8 L564.0 858.1 L565.0 848.3 L566.0 839.2 L567.0 831.4 L568.0 824.0 L569.0 816.9 L570.0 810.2 L571.0 804.0 L572.0 798.5 L573.0 793.7 L574.0 789.5 L575.0 785.6 L576.0 782.1 L577.0 778.7 L578.0 775.3 L579.0 771.8 L580.0 768.0 L581.0 763.6 L582.0 759.6 L583.0 757.0 L584.0 755.5 L585.0 754.1 L586.0 752.9 L587.0 751.9 L588.0 751.1 L589.0 750.7 L590.0 750.5 L591.0 750.5 L592.0 750.5 L593.0 750.5 L594.0 750.5 L595.0 750.5 L596.0 750.5 L597.0 750.5 L598.0 750.5 L599.0 750.5 L600.0 750.5" fill="none" stroke="#ff0000" stroke-width="2.2" stroke-linejoin="round"/>
<path d="M114.3 739.6m-3.9 0a3.9 3.9 0 1 0 7.8 0a3.9 3.9 0 1 0 -7.8 0M119.5 737.9m-3.9 0a3.9 3.9 0 1 0 7.8 0a3.9 3.9 0 1 0 -7.8 0M117.7 750.0m-3.9 0a3.9 3.9 0 1 0 7.8 0a3.9 3.9 0 1 0 -7.8 0M132.4 754.3m-3.9 0a3.9 3.9 0 1 0 7.8 0a3.9 3.9 0 1 0 -7.8 0M128.9 763.7m-3.9 0a3.9 3.9 0 1 0 7.8 0a3.9 3.9 0 1 0 -7.8 0M139.3 763.7m-3.9 0a3.9 3.9 0 1 0 7.8 0a3.9 3.9 0 1 0 -7.8 0M141.9 750.8m-3.9 0a3.9 3.9 0 1 0 7.8 0a3.9 3.9 0 1 0 -7.8 0M147.0 741.4m-3.9 0a3.9 3.9 0 1 0 7.8 0a3.9 3.9 0 1 0 -7.8 0M150.5 754.3m-3.9 0a3.9 3.9 0 1 0 7.8 0a3.9 3.9 0 1 0 -7.8 0M155.6 743.0m-3.9 0a3.9 3.9 0 1 0 7.8 0a3.9 3.9 0 1 0 -7.8 0M156.5 737.9m-3.9 0a3.9 3.9 0 1 0 7.8 0a3.9 3.9 0 1 0 -7.8 0M165.1 737.9m-3.9 0a3.9 3.9 0 1 0 7.8 0a3.9 3.9 0 1 0 -7.8 0M168.5 742.2m-3.9 0a3.9 3.9 0 1 0 7.8 0a3.9 3.9 0 1 0 -7.8 0M174.6 745.7m-3.9 0a3.9 3.9 0 1 0 7.8 0a3.9 3.9 0 1 0 -7.8 0M179.7 735.3m-3.9 0a3.9 3.9 0 1 0 7.8 0a3.9 3.9 0 1 0 -7.8 0M182.3 742.2m-3.9 0a3.9 3.9 0 1 0 7.8 0a3.9 3.9 0 1 0 -7.8 0M178.0 756.9m-3.9 0a3.9 3.9 0 1 0 7.8 0a3.9 3.9 0 1 0 -7.8 0M187.5 755.1m-3.9 0a3.9 3.9 0 1 0 7.8 0a3.9 3.9 0 1 0 -7.8 0M190.0 759.4m-3.9 0a3.9 3.9 0 1 0 7.8 0a3.9 3.9 0 1 0 -7.8 0M192.6 741.4m-3.9 0a3.9 3.9 0 1 0 7.8 0a3.9 3.9 0 1 0 -7.8 0M197.8 749.1m-3.9 0a3.9 3.9 0 1 0 7.8 0a3.9 3.9 0 1 0 -7.8 0M202.1 746.5m-3.9 0a3.9 3.9 0 1 0 7.8 0a3.9 3.9 0 1 0 -7.8 0M208.1 749.1m-3.9 0a3.9 3.9 0 1 0 7.8 0a3.9 3.9 0 1 0 -7.8 0M205.6 756.0m-3.9 0a3.9 3.9 0 1 0 7.8 0a3.9 3.9 0 1 0 -7.8 0M202.1 763.7m-3.9 0a3.9 3.9 0 1 0 7.8 0a3.9 3.9 0 1 0 -7.8 0M213.3 750.0m-3.9 0a3.9 3.9 0 1 0 7.8 0a3.9 3.9 0 1 0 -7.8 0M215.0 763.7m-3.9 0a3.9 3.9 0 1 0 7.8 0a3.9 3.9 0 1 0 -7.8 0M172.8 774.1m-3.9 0a3.9 3.9 0 1 0 7.8 0a3.9 3.9 0 1 0 -7.8 0M162.5 778.4m-3.9 0a3.9 3.9 0 1 0 7.8 0a3.9 3.9 0 1 0 -7.8 0M144.4 784.4m-3.9 0a3.9 3.9 0 1 0 7.8 0a3.9 3.9 0 1 0 -7.8 0M136.7 795.6m-3.9 0a3.9 3.9 0 1 0 7.8 0a3.9 3.9 0 1 0 -7.8 0M195.2 786.1m-3.9 0a3.9 3.9 0 1 0 7.8 0a3.9 3.9 0 1 0 -7.8 0M209.9 795.6m-3.9 0a3.9 3.9 0 1 0 7.8 0a3.9 3.9 0 1 0 -7.8 0M227.0 737.0m-3.9 0a3.9 3.9 0 1 0 7.8 0a3.9 3.9 0 1 0 -7.8 0M225.4 768.0m-3.9 0a3.9 3.9 0 1 0 7.8 0a3.9 3.9 0 1 0 -7.8 0M215.9 739.6m-3.9 0a3.9 3.9 0 1 0 7.8 0a3.9 3.9 0 1 0 -7.8 0M231.9 736.2m-3.9 0a3.9 3.9 0 1 0 7.8 0a3.9 3.9 0 1 0 -7.8 0M244.8 735.3m-3.9 0a3.9 3.9 0 1 0 7.8 0a3.9 3.9 0 1 0 -7.8 0M233.6 743.1m-3.9 0a3.9 3.9 0 1 0 7.8 0a3.9 3.9 0 1 0 -7.8 0M242.2 747.4m-3.9 0a3.9 3.9 0 1 0 7.8 0a3.9 3.9 0 1 0 -7.8 0M227.6 756.9m-3.9 0a3.9 3.9 0 1 0 7.8 0a3.9 3.9 0 1 0 -7.8 0M228.4 767.2m-3.9 0a3.9 3.9 0 1 0 7.8 0a3.9 3.9 0 1 0 -7.8 0M237.0 777.5m-3.9 0a3.9 3.9 0 1 0 7.8 0a3.9 3.9 0 1 0 -7.8 0M252.5 759.4m-3.9 0a3.9 3.9 0 1 0 7.8 0a3.9 3.9 0 1 0 -7.8 0M261.2 753.4m-3.9 0a3.9 3.9 0 1 0 7.8 0a3.9 3.9 0 1 0 -7.8 0M265.5 737.9m-3.9 0a3.9 3.9 0 1 0 7.8 0a3.9 3.9 0 1 0 -7.8 0M272.3 754.3m-3.9 0a3.9 3.9 0 1 0 7.8 0a3.9 3.9 0 1 0 -7.8 0M281.8 756.0m-3.9 0a3.9 3.9 0 1 0 7.8 0a3.9 3.9 0 1 0 -7.8 0M290.4 754.3m-3.9 0a3.9 3.9 0 1 0 7.8 0a3.9 3.9 0 1 0 -7.8 0M293.9 758.6m-3.9 0a3.9 3.9 0 1 0 7.8 0a3.9 3.9 0 1 0 -7.8 0M295.6 741.4m-3.9 0a3.9 3.9 0 1 0 7.8 0a3.9 3.9 0 1 0 -7.8 0M300.8 740.5m-3.9 0a3.9 3.9 0 1 0 7.8 0a3.9 3.9 0 1 0 -7.8 0M302.5 754.3m-3.9 0a3.9 3.9 0 1 0 7.8 0a3.9 3.9 0 1 0 -7.8 0M309.4 759.4m-3.9 0a3.9 3.9 0 1 0 7.8 0a3.9 3.9 0 1 0 -7.8 0M306.8 742.2m-3.9 0a3.9 3.9 0 1 0 7.8 0a3.9 3.9 0 1 0 -7.8 0M315.4 738.8m-3.9 0a3.9 3.9 0 1 0 7.8 0a3.9 3.9 0 1 0 -7.8 0M323.1 746.5m-3.9 0a3.9 3.9 0 1 0 7.8 0a3.9 3.9 0 1 0 -7.8 0M328.3 750.0m-3.9 0a3.9 3.9 0 1 0 7.8 0a3.9 3.9 0 1 0 -7.8 0M332.6 755.1m-3.9 0a3.9 3.9 0 1 0 7.8 0a3.9 3.9 0 1 0 -7.8 0M338.6 752.5m-3.9 0a3.9 3.9 0 1 0 7.8 0a3.9 3.9 0 1 0 -7.8 0M312.8 764.6m-3.9 0a3.9 3.9 0 1 0 7.8 0a3.9 3.9 0 1 0 -7.8 0M328.3 768.9m-3.9 0a3.9 3.9 0 1 0 7.8 0a3.9 3.9 0 1 0 -7.8 0M355.5 737.1m-3.9 0a3.9 3.9 0 1 0 7.8 0a3.9 3.9 0 1 0 -7.8 0M359.8 740.5m-3.9 0a3.9 3.9 0 1 0 7.8 0a3.9 3.9 0 1 0 -7.8 0M368.4 743.1m-3.9 0a3.9 3.9 0 1 0 7.8 0a3.9 3.9 0 1 0 -7.8 0M341.7 750.0m-3.9 0a3.9 3.9 0 1 0 7.8 0a3.9 3.9 0 1 0 -7.8 0M348.6 753.4m-3.9 0a3.9 3.9 0 1 0 7.8 0a3.9 3.9 0 1 0 -7.8 0M363.2 761.2m-3.9 0a3.9 3.9 0 1 0 7.8 0a3.9 3.9 0 1 0 -7.8 0M374.4 769.8m-3.9 0a3.9 3.9 0 1 0 7.8 0a3.9 3.9 0 1 0 -7.8 0M383.9 759.4m-3.9 0a3.9 3.9 0 1 0 7.8 0a3.9 3.9 0 1 0 -7.8 0M386.5 763.7m-3.9 0a3.9 3.9 0 1 0 7.8 0a3.9 3.9 0 1 0 -7.8 0M388.2 755.1m-3.9 0a3.9 3.9 0 1 0 7.8 0a3.9 3.9 0 1 0 -7.8 0M402.0 743.9m-3.9 0a3.9 3.9 0 1 0 7.8 0a3.9 3.9 0 1 0 -7.8 0M401.1 752.5m-3.9 0a3.9 3.9 0 1 0 7.8 0a3.9 3.9 0 1 0 -7.8 0M396.0 773.2m-3.9 0a3.9 3.9 0 1 0 7.8 0a3.9 3.9 0 1 0 -7.8 0M350.3 781.0m-3.9 0a3.9 3.9 0 1 0 7.8 0a3.9 3.9 0 1 0 -7.8 0M366.7 778.4m-3.9 0a3.9 3.9 0 1 0 7.8 0a3.9 3.9 0 1 0 -7.8 0M353.8 789.6m-3.9 0a3.9 3.9 0 1 0 7.8 0a3.9 3.9 0 1 0 -7.8 0M371.0 787.8m-3.9 0a3.9 3.9 0 1 0 7.8 0a3.9 3.9 0 1 0 -7.8 0M381.3 794.7m-3.9 0a3.9 3.9 0 1 0 7.8 0a3.9 3.9 0 1 0 -7.8 0M391.7 799.9m-3.9 0a3.9 3.9 0 1 0 7.8 0a3.9 3.9 0 1 0 -7.8 0M399.4 799.0m-3.9 0a3.9 3.9 0 1 0 7.8 0a3.9 3.9 0 1 0 -7.8 0M412.3 781.0m-3.9 0a3.9 3.9 0 1 0 7.8 0a3.9 3.9 0 1 0 -7.8 0M419.2 781.0m-3.9 0a3.9 3.9 0 1 0 7.8 0a3.9 3.9 0 1 0 -7.8 0M414.0 787.8m-3.9 0a3.9 3.9 0 1 0 7.8 0a3.9 3.9 0 1 0 -7.8 0M434.7 782.7m-3.9 0a3.9 3.9 0 1 0 7.8 0a3.9 3.9 0 1 0 -7.8 0M439.0 787.8m-3.9 0a3.9 3.9 0 1 0 7.8 0a3.9 3.9 0 1 0 -7.8 0M444.2 761.2m-3.9 0a3.9 3.9 0 1 0 7.8 0a3.9 3.9 0 1 0 -7.8 0M448.5 764.5m-3.9 0a3.9 3.9 0 1 0 7.8 0a3.9 3.9 0 1 0 -7.8 0M457.1 756.0m-3.9 0a3.9 3.9 0 1 0 7.8 0a3.9 3.9 0 1 0 -7.8 0M453.6 775.8m-3.9 0a3.9 3.9 0 1 0 7.8 0a3.9 3.9 0 1 0 -7.8 0M458.8 793.9m-3.9 0a3.9 3.9 0 1 0 7.8 0a3.9 3.9 0 1 0 -7.8 0M457.6 756.0m-3.9 0a3.9 3.9 0 1 0 7.8 0a3.9 3.9 0 1 0 -7.8 0M468.8 745.7m-3.9 0a3.9 3.9 0 1 0 7.8 0a3.9 3.9 0 1 0 -7.8 0M484.3 741.4m-3.9 0a3.9 3.9 0 1 0 7.8 0a3.9 3.9 0 1 0 -7.8 0M488.6 747.4m-3.9 0a3.9 3.9 0 1 0 7.8 0a3.9 3.9 0 1 0 -7.8 0M492.0 750.0m-3.9 0a3.9 3.9 0 1 0 7.8 0a3.9 3.9 0 1 0 -7.8 0M478.2 758.6m-3.9 0a3.9 3.9 0 1 0 7.8 0a3.9 3.9 0 1 0 -7.8 0M481.7 761.2m-3.9 0a3.9 3.9 0 1 0 7.8 0a3.9 3.9 0 1 0 -7.8 0M490.3 756.9m-3.9 0a3.9 3.9 0 1 0 7.8 0a3.9 3.9 0 1 0 -7.8 0M499.8 753.4m-3.9 0a3.9 3.9 0 1 0 7.8 0a3.9 3.9 0 1 0 -7.8 0M504.9 741.4m-3.9 0a3.9 3.9 0 1 0 7.8 0a3.9 3.9 0 1 0 -7.8 0M513.5 740.5m-3.9 0a3.9 3.9 0 1 0 7.8 0a3.9 3.9 0 1 0 -7.8 0M506.7 747.4m-3.9 0a3.9 3.9 0 1 0 7.8 0a3.9 3.9 0 1 0 -7.8 0M515.3 755.1m-3.9 0a3.9 3.9 0 1 0 7.8 0a3.9 3.9 0 1 0 -7.8 0M517.0 763.7m-3.9 0a3.9 3.9 0 1 0 7.8 0a3.9 3.9 0 1 0 -7.8 0M521.3 745.7m-3.9 0a3.9 3.9 0 1 0 7.8 0a3.9 3.9 0 1 0 -7.8 0M527.3 737.9m-3.9 0a3.9 3.9 0 1 0 7.8 0a3.9 3.9 0 1 0 -7.8 0M530.8 748.2m-3.9 0a3.9 3.9 0 1 0 7.8 0a3.9 3.9 0 1 0 -7.8 0M496.3 768.0m-3.9 0a3.9 3.9 0 1 0 7.8 0a3.9 3.9 0 1 0 -7.8 0M494.6 781.8m-3.9 0a3.9 3.9 0 1 0 7.8 0a3.9 3.9 0 1 0 -7.8 0M510.1 780.1m-3.9 0a3.9 3.9 0 1 0 7.8 0a3.9 3.9 0 1 0 -7.8 0M460.2 793.9m-3.9 0a3.9 3.9 0 1 0 7.8 0a3.9 3.9 0 1 0 -7.8 0M473.9 791.3m-3.9 0a3.9 3.9 0 1 0 7.8 0a3.9 3.9 0 1 0 -7.8 0M520.4 792.1m-3.9 0a3.9 3.9 0 1 0 7.8 0a3.9 3.9 0 1 0 -7.8 0M563.5 781.0m-3.9 0a3.9 3.9 0 1 0 7.8 0a3.9 3.9 0 1 0 -7.8 0M569.5 737.1m-3.9 0a3.9 3.9 0 1 0 7.8 0a3.9 3.9 0 1 0 -7.8 0M566.9 745.7m-3.9 0a3.9 3.9 0 1 0 7.8 0a3.9 3.9 0 1 0 -7.8 0M569.4 736.5m-3.9 0a3.9 3.9 0 1 0 7.8 0a3.9 3.9 0 1 0 -7.8 0M575.9 745.1m-3.9 0a3.9 3.9 0 1 0 7.8 0a3.9 3.9 0 1 0 -7.8 0M563.7 743.7m-3.9 0a3.9 3.9 0 1 0 7.8 0a3.9 3.9 0 1 0 -7.8 0M584.5 745.8m-3.9 0a3.9 3.9 0 1 0 7.8 0a3.9 3.9 0 1 0 -7.8 0M587.3 748.0m-3.9 0a3.9 3.9 0 1 0 7.8 0a3.9 3.9 0 1 0 -7.8 0M597.4 740.1m-3.9 0a3.9 3.9 0 1 0 7.8 0a3.9 3.9 0 1 0 -7.8 0M602.4 740.8m-3.9 0a3.9 3.9 0 1 0 7.8 0a3.9 3.9 0 1 0 -7.8 0M610.3 737.9m-3.9 0a3.9 3.9 0 1 0 7.8 0a3.9 3.9 0 1 0 -7.8 0M614.6 740.1m-3.9 0a3.9 3.9 0 1 0 7.8 0a3.9 3.9 0 1 0 -7.8 0M606.0 746.5m-3.9 0a3.9 3.9 0 1 0 7.8 0a3.9 3.9 0 1 0 -7.8 0M618.2 746.5m-3.9 0a3.9 3.9 0 1 0 7.8 0a3.9 3.9 0 1 0 -7.8 0M596.0 751.6m-3.9 0a3.9 3.9 0 1 0 7.8 0a3.9 3.9 0 1 0 -7.8 0M593.1 762.3m-3.9 0a3.9 3.9 0 1 0 7.8 0a3.9 3.9 0 1 0 -7.8 0M618.2 764.5m-3.9 0a3.9 3.9 0 1 0 7.8 0a3.9 3.9 0 1 0 -7.8 0M590.2 771.7m-3.9 0a3.9 3.9 0 1 0 7.8 0a3.9 3.9 0 1 0 -7.8 0M581.6 762.3m-3.9 0a3.9 3.9 0 1 0 7.8 0a3.9 3.9 0 1 0 -7.8 0M567.3 763.0m-3.9 0a3.9 3.9 0 1 0 7.8 0a3.9 3.9 0 1 0 -7.8 0M541.4 763.0m-3.9 0a3.9 3.9 0 1 0 7.8 0a3.9 3.9 0 1 0 -7.8 0M563.0 780.3m-3.9 0a3.9 3.9 0 1 0 7.8 0a3.9 3.9 0 1 0 -7.8 0M578.0 787.4m-3.9 0a3.9 3.9 0 1 0 7.8 0a3.9 3.9 0 1 0 -7.8 0M608.1 783.8m-3.9 0a3.9 3.9 0 1 0 7.8 0a3.9 3.9 0 1 0 -7.8 0M601.7 773.8m-3.9 0a3.9 3.9 0 1 0 7.8 0a3.9 3.9 0 1 0 -7.8 0M137.1 797.0m-3.9 0a3.9 3.9 0 1 0 7.8 0a3.9 3.9 0 1 0 -7.8 0M210.4 796.0m-3.9 0a3.9 3.9 0 1 0 7.8 0a3.9 3.9 0 1 0 -7.8 0M381.2 796.0m-3.9 0a3.9 3.9 0 1 0 7.8 0a3.9 3.9 0 1 0 -7.8 0M391.2 801.0m-3.9 0a3.9 3.9 0 1 0 7.8 0a3.9 3.9 0 1 0 -7.8 0M399.2 800.0m-3.9 0a3.9 3.9 0 1 0 7.8 0a3.9 3.9 0 1 0 -7.8 0M416.3 809.1m-3.9 0a3.9 3.9 0 1 0 7.8 0a3.9 3.9 0 1 0 -7.8 0M421.3 816.1m-3.9 0a3.9 3.9 0 1 0 7.8 0a3.9 3.9 0 1 0 -7.8 0M424.4 833.2m-3.9 0a3.9 3.9 0 1 0 7.8 0a3.9 3.9 0 1 0 -7.8 0M429.4 845.2m-3.9 0a3.9 3.9 0 1 0 7.8 0a3.9 3.9 0 1 0 -7.8 0M406.3 880.4m-3.9 0a3.9 3.9 0 1 0 7.8 0a3.9 3.9 0 1 0 -7.8 0M426.4 885.4m-3.9 0a3.9 3.9 0 1 0 7.8 0a3.9 3.9 0 1 0 -7.8 0M431.4 887.4m-3.9 0a3.9 3.9 0 1 0 7.8 0a3.9 3.9 0 1 0 -7.8 0M408.3 930.6m-3.9 0a3.9 3.9 0 1 0 7.8 0a3.9 3.9 0 1 0 -7.8 0M461.5 826.1m-3.9 0a3.9 3.9 0 1 0 7.8 0a3.9 3.9 0 1 0 -7.8 0M459.5 796.0m-3.9 0a3.9 3.9 0 1 0 7.8 0a3.9 3.9 0 1 0 -7.8 0M461.0 826.1m-3.9 0a3.9 3.9 0 1 0 7.8 0a3.9 3.9 0 1 0 -7.8 0M545.4 819.1m-3.9 0a3.9 3.9 0 1 0 7.8 0a3.9 3.9 0 1 0 -7.8 0M552.4 834.2m-3.9 0a3.9 3.9 0 1 0 7.8 0a3.9 3.9 0 1 0 -7.8 0M557.4 854.2m-3.9 0a3.9 3.9 0 1 0 7.8 0a3.9 3.9 0 1 0 -7.8 0M560.4 869.3m-3.9 0a3.9 3.9 0 1 0 7.8 0a3.9 3.9 0 1 0 -7.8 0M547.4 875.3m-3.9 0a3.9 3.9 0 1 0 7.8 0a3.9 3.9 0 1 0 -7.8 0M549.4 905.5m-3.9 0a3.9 3.9 0 1 0 7.8 0a3.9 3.9 0 1 0 -7.8 0M555.4 930.6m-3.9 0a3.9 3.9 0 1 0 7.8 0a3.9 3.9 0 1 0 -7.8 0M573.5 806.0m-3.9 0a3.9 3.9 0 1 0 7.8 0a3.9 3.9 0 1 0 -7.8 0M578.1 787.0m-3.9 0a3.9 3.9 0 1 0 7.8 0a3.9 3.9 0 1 0 -7.8 0M573.1 806.1m-3.9 0a3.9 3.9 0 1 0 7.8 0a3.9 3.9 0 1 0 -7.8 0M608.2 785.0m-3.9 0a3.9 3.9 0 1 0 7.8 0a3.9 3.9 0 1 0 -7.8 0" fill="none" stroke="#ff0000" stroke-width="2.3"/>
<path d="M134.1 733.5l4.8 8.2h-9.6zM130.7 737.8l4.8 8.2h-9.6zM117.7 751.6l4.8 8.2h-9.6zM121.2 749.8l4.8 8.2h-9.6zM126.4 764.5l4.8 8.2h-9.6zM124.6 768.8l4.8 8.2h-9.6zM143.6 763.6l4.8 8.2h-9.6zM151.3 756.7l4.8 8.2h-9.6zM147.9 767.9l4.8 8.2h-9.6zM141.9 771.4l4.8 8.2h-9.6zM136.7 779.1l4.8 8.2h-9.6zM137.5 788.6l4.8 8.2h-9.6zM147.9 792.0l4.8 8.2h-9.6zM156.5 783.4l4.8 8.2h-9.6zM161.7 766.2l4.8 8.2h-9.6zM165.1 772.2l4.8 8.2h-9.6zM166.8 779.1l4.8 8.2h-9.6zM170.3 796.3l4.8 8.2h-9.6zM177.1 796.3l4.8 8.2h-9.6zM220.2 731.7l4.8 8.2h-9.6zM221.9 742.9l4.8 8.2h-9.6zM212.4 774.8l4.8 8.2h-9.6zM209.9 781.7l4.8 8.2h-9.6zM216.8 786.0l4.8 8.2h-9.6zM212.4 786.8l4.8 8.2h-9.6zM228.8 776.5l4.8 8.2h-9.6zM228.8 754.1l4.8 8.2h-9.6zM240.5 728.3l4.8 8.2h-9.6zM248.2 735.2l4.8 8.2h-9.6zM252.5 744.7l4.8 8.2h-9.6zM260.3 736.9l4.8 8.2h-9.6zM270.6 732.6l4.8 8.2h-9.6zM280.1 735.2l4.8 8.2h-9.6zM285.3 739.5l4.8 8.2h-9.6zM303.3 736.9l4.8 8.2h-9.6zM311.1 740.4l4.8 8.2h-9.6zM318.0 749.8l4.8 8.2h-9.6zM325.7 750.7l4.8 8.2h-9.6zM320.6 755.9l4.8 8.2h-9.6zM340.4 736.1l4.8 8.2h-9.6zM342.1 759.3l4.8 8.2h-9.6zM231.9 755.9l4.8 8.2h-9.6zM244.8 755.0l4.8 8.2h-9.6zM249.1 759.3l4.8 8.2h-9.6zM258.6 756.7l4.8 8.2h-9.6zM254.3 764.5l4.8 8.2h-9.6zM237.0 765.3l4.8 8.2h-9.6zM231.0 777.4l4.8 8.2h-9.6zM262.9 776.5l4.8 8.2h-9.6zM268.9 765.3l4.8 8.2h-9.6zM275.8 756.7l4.8 8.2h-9.6zM278.4 766.2l4.8 8.2h-9.6zM284.4 755.0l4.8 8.2h-9.6zM289.6 754.1l4.8 8.2h-9.6zM300.8 773.1l4.8 8.2h-9.6zM313.7 773.1l4.8 8.2h-9.6zM324.0 771.4l4.8 8.2h-9.6zM330.0 781.7l4.8 8.2h-9.6zM295.6 788.6l4.8 8.2h-9.6zM265.5 798.0l4.8 8.2h-9.6zM342.6 733.5l4.8 8.2h-9.6zM351.2 740.4l4.8 8.2h-9.6zM366.7 736.1l4.8 8.2h-9.6zM381.3 740.4l4.8 8.2h-9.6zM390.8 731.8l4.8 8.2h-9.6zM394.2 734.3l4.8 8.2h-9.6zM403.7 741.2l4.8 8.2h-9.6zM427.0 736.1l4.8 8.2h-9.6zM433.8 742.1l4.8 8.2h-9.6zM450.2 734.3l4.8 8.2h-9.6zM455.4 730.0l4.8 8.2h-9.6zM343.4 758.4l4.8 8.2h-9.6zM347.7 762.7l4.8 8.2h-9.6zM356.4 761.9l4.8 8.2h-9.6zM358.1 771.4l4.8 8.2h-9.6zM362.4 749.8l4.8 8.2h-9.6zM371.9 758.4l4.8 8.2h-9.6zM376.2 746.4l4.8 8.2h-9.6zM378.7 745.5l4.8 8.2h-9.6zM406.3 752.4l4.8 8.2h-9.6zM402.0 761.0l4.8 8.2h-9.6zM418.3 751.6l4.8 8.2h-9.6zM424.4 756.7l4.8 8.2h-9.6zM415.8 765.3l4.8 8.2h-9.6zM427.8 765.3l4.8 8.2h-9.6zM408.9 786.0l4.8 8.2h-9.6zM442.4 751.6l4.8 8.2h-9.6zM446.7 750.7l4.8 8.2h-9.6zM439.0 788.6l4.8 8.2h-9.6zM437.3 796.3l4.8 8.2h-9.6zM458.8 770.5l4.8 8.2h-9.6zM457.6 730.0l4.8 8.2h-9.6zM467.1 732.6l4.8 8.2h-9.6zM481.7 741.2l4.8 8.2h-9.6zM464.5 751.6l4.8 8.2h-9.6zM475.7 758.4l4.8 8.2h-9.6zM471.4 767.0l4.8 8.2h-9.6zM460.2 771.4l4.8 8.2h-9.6zM476.5 779.1l4.8 8.2h-9.6zM477.4 787.7l4.8 8.2h-9.6zM483.4 795.5l4.8 8.2h-9.6zM504.9 795.5l4.8 8.2h-9.6zM513.5 798.0l4.8 8.2h-9.6zM521.3 761.0l4.8 8.2h-9.6zM529.0 760.2l4.8 8.2h-9.6zM535.9 756.7l4.8 8.2h-9.6zM540.2 749.8l4.8 8.2h-9.6zM539.4 759.3l4.8 8.2h-9.6zM549.7 752.4l4.8 8.2h-9.6zM544.5 767.9l4.8 8.2h-9.6zM541.9 776.5l4.8 8.2h-9.6zM545.4 786.0l4.8 8.2h-9.6zM553.1 777.4l4.8 8.2h-9.6zM558.3 780.0l4.8 8.2h-9.6zM549.7 787.7l4.8 8.2h-9.6zM560.9 742.1l4.8 8.2h-9.6zM564.3 753.3l4.8 8.2h-9.6zM567.8 756.7l4.8 8.2h-9.6zM572.1 765.3l4.8 8.2h-9.6zM565.2 791.2l4.8 8.2h-9.6zM527.3 789.4l4.8 8.2h-9.6zM575.2 730.5l4.8 8.2h-9.6zM560.1 742.0l4.8 8.2h-9.6zM550.0 752.0l4.8 8.2h-9.6zM541.4 749.1l4.8 8.2h-9.6zM563.7 754.2l4.8 8.2h-9.6zM569.4 752.0l4.8 8.2h-9.6zM563.0 757.7l4.8 8.2h-9.6zM568.7 759.9l4.8 8.2h-9.6zM570.8 765.6l4.8 8.2h-9.6zM579.5 745.5l4.8 8.2h-9.6zM578.0 759.2l4.8 8.2h-9.6zM585.9 751.3l4.8 8.2h-9.6zM593.8 738.4l4.8 8.2h-9.6zM603.1 755.6l4.8 8.2h-9.6zM616.0 755.6l4.8 8.2h-9.6zM600.3 767.1l4.8 8.2h-9.6zM609.6 769.9l4.8 8.2h-9.6zM613.9 772.1l4.8 8.2h-9.6zM590.2 770.7l4.8 8.2h-9.6zM588.8 782.8l4.8 8.2h-9.6zM545.7 767.8l4.8 8.2h-9.6zM544.3 776.4l4.8 8.2h-9.6zM555.8 779.3l4.8 8.2h-9.6zM548.6 785.0l4.8 8.2h-9.6zM565.1 790.7l4.8 8.2h-9.6zM618.2 789.3l4.8 8.2h-9.6zM138.1 791.7l4.8 8.2h-9.6zM147.2 792.7l4.8 8.2h-9.6zM169.2 798.7l4.8 8.2h-9.6zM177.3 798.7l4.8 8.2h-9.6zM174.3 802.8l4.8 8.2h-9.6zM180.3 805.8l4.8 8.2h-9.6zM200.4 808.8l4.8 8.2h-9.6zM208.4 813.8l4.8 8.2h-9.6zM160.2 825.9l4.8 8.2h-9.6zM172.3 828.9l4.8 8.2h-9.6zM202.4 829.9l4.8 8.2h-9.6zM187.3 843.9l4.8 8.2h-9.6zM205.4 850.0l4.8 8.2h-9.6zM155.2 852.0l4.8 8.2h-9.6zM182.3 857.0l4.8 8.2h-9.6zM185.3 859.0l4.8 8.2h-9.6zM197.4 861.0l4.8 8.2h-9.6zM191.3 873.1l4.8 8.2h-9.6zM195.4 882.1l4.8 8.2h-9.6zM190.3 912.2l4.8 8.2h-9.6zM354.1 811.8l4.8 8.2h-9.6zM436.4 798.7l4.8 8.2h-9.6zM438.4 790.7l4.8 8.2h-9.6zM484.1 796.7l4.8 8.2h-9.6zM505.2 796.7l4.8 8.2h-9.6zM515.3 801.8l4.8 8.2h-9.6zM490.1 806.8l4.8 8.2h-9.6zM495.2 806.8l4.8 8.2h-9.6zM498.2 807.8l4.8 8.2h-9.6zM517.3 811.8l4.8 8.2h-9.6zM513.2 822.8l4.8 8.2h-9.6zM487.1 837.9l4.8 8.2h-9.6zM500.2 832.9l4.8 8.2h-9.6zM502.2 834.9l4.8 8.2h-9.6zM510.2 841.9l4.8 8.2h-9.6zM520.3 841.9l4.8 8.2h-9.6zM507.2 874.1l4.8 8.2h-9.6zM535.3 913.2l4.8 8.2h-9.6zM565.5 792.7l4.8 8.2h-9.6zM527.3 790.7l4.8 8.2h-9.6zM265.7 799.9l4.8 8.2h-9.6zM272.9 816.1l4.8 8.2h-9.6zM295.3 790.1l4.8 8.2h-9.6zM588.1 782.7l4.8 8.2h-9.6zM566.0 791.7l4.8 8.2h-9.6zM619.3 788.7l4.8 8.2h-9.6z" fill="none" stroke="#0040ff" stroke-width="2.1" stroke-linejoin="miter"/>
<text transform="translate(0.65 749.07) scale(1.0548 0.9885)" x="0" y="0" font-size="30" fill="#000" font-family="Liberation Serif">(e)</text>
<text transform="translate(64.41 833.60) scale(0.9900 0.9200)" x="0" y="0" font-size="23.5" fill="#000" font-family="Liberation Serif">0.95</text>
<text transform="translate(64.41 945.50) scale(0.9900 0.9200)" x="0" y="0" font-size="23.5" fill="#000" font-family="Liberation Serif">0.90</text>
<text transform="translate(636.21 796.30) scale(0.9900 1.0400)" x="0" y="0" font-size="23.5" fill="#000" font-family="Liberation Serif">0.96</text>
<text transform="translate(636.21 897.50) scale(0.9900 1.0400)" x="0" y="0" font-size="23.5" fill="#000" font-family="Liberation Serif">0.94</text>
<text transform="translate(93.71 969.30) scale(0.9900 0.9867)" x="0" y="0" font-size="23.5" fill="#000" font-family="Liberation Serif">0.44</text>
<text transform="translate(194.96 969.30) scale(0.9900 0.9867)" x="0" y="0" font-size="23.5" fill="#000" font-family="Liberation Serif">0.46</text>
<text transform="translate(295.21 969.30) scale(0.9900 0.9867)" x="0" y="0" font-size="23.5" fill="#000" font-family="Liberation Serif">0.48</text>
<text transform="translate(396.51 969.30) scale(0.9900 0.9867)" x="0" y="0" font-size="23.5" fill="#000" font-family="Liberation Serif">0.50</text>
<text transform="translate(497.33 969.30) scale(1.0154 0.9867)" x="0" y="0" font-size="23.5" fill="#000" font-family="Liberation Serif">0.52</text>
<text transform="translate(598.26 969.30) scale(0.9900 0.9867)" x="0" y="0" font-size="23.5" fill="#000" font-family="Liberation Serif">0.54</text>
<g transform="translate(41.80 850.80) rotate(-90)">
<text transform="translate(0.00 0.00) scale(1.0923 1.1286)" x="0" y="0" font-size="22" fill="#000" font-family="Liberation Serif" font-style="italic">P</text>
<text transform="translate(13.69 6.10) scale(1.1143 1.0818)" x="0" y="0" font-size="16" fill="#000" font-family="Liberation Serif">S</text>
</g>
<text transform="translate(329.96 1005.80) scale(1.0429 1.0429)" x="0" y="0" font-size="22" fill="#000" font-family="Liberation Serif" font-style="italic">B</text>
<text transform="translate(342.80 1011.00) scale(1.1000 1.1000)" x="0" y="0" font-size="16" fill="#000" font-family="Liberation Serif">ext</text>
<text transform="translate(369.49 1005.70) scale(1.1115 1.1000)" x="0" y="0" font-size="22" fill="#000" font-family="Liberation Serif">(T)</text>
<text transform="translate(124.65 912.63) scale(1.0488 1.0488)" x="0" y="0" font-size="30" fill="#000" font-family="Liberation Serif">QD</text>
<text transform="translate(169.57 920.30) scale(0.9429 0.9429)" x="0" y="0" font-size="20" fill="#000" font-family="Liberation Serif">4</text>
<text transform="translate(347.00 912.49) scale(1.0049 1.0049)" x="0" y="0" font-size="30" fill="#000" font-family="Liberation Serif">QD</text>
<text transform="translate(392.81 919.50) scale(0.9429 0.9429)" x="0" y="0" font-size="20" fill="#000" font-family="Liberation Serif">2</text>
<text transform="translate(457.97 912.96) scale(1.0293 1.0293)" x="0" y="0" font-size="30" fill="#000" font-family="Liberation Serif">QD</text>
<text transform="translate(503.71 919.50) scale(0.9429 0.9429)" x="0" y="0" font-size="20" fill="#000" font-family="Liberation Serif">3</text>
<text transform="translate(564.54 914.50) scale(1.0634 1.0634)" x="0" y="0" font-size="30" fill="#000" font-family="Liberation Serif">QD</text>
<text transform="translate(608.51 919.30) scale(0.9429 0.9429)" x="0" y="0" font-size="20" fill="#000" font-family="Liberation Serif">1</text>
</svg></body></html>
